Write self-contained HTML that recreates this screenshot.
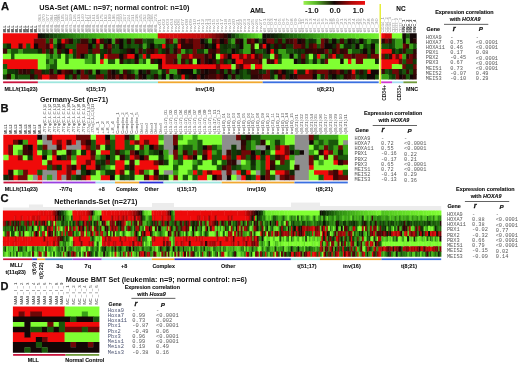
<!DOCTYPE html>
<html><head><meta charset="utf-8"><title>HOXA9 expression correlation heatmaps</title>
<style>html,body{margin:0;padding:0;background:#fff}body{width:520px;height:365px;overflow:hidden;font-family:"Liberation Sans",sans-serif}</style></head>
<body>
<svg width="520" height="365" viewBox="0 0 520 365" font-family="Liberation Sans, sans-serif" style="display:block">
<text x="0.90" y="10.40" font-size="11.20" font-weight="bold" fill="#111" stroke="#111" stroke-width="0.25">A</text>
<text x="39.20" y="10.20" font-size="7.32" font-weight="bold" fill="#111">USA-Set (AML: n=97; normal control: n=10)</text>
<text x="250.00" y="12.60" font-size="7.10" font-weight="bold" fill="#111">AML</text>
<text x="396.30" y="10.70" font-size="6.40" font-weight="bold" fill="#111" stroke="#111" stroke-width="0.1">NC</text>
<defs><filter id="bl" x="-2%" y="-5%" width="104%" height="110%" color-interpolation-filters="sRGB"><feGaussianBlur stdDeviation="0.7"/></filter><linearGradient id="lg" x1="0" x2="1" y1="0" y2="0"><stop offset="0" stop-color="#9af050"/><stop offset="0.2" stop-color="#58b828"/><stop offset="0.5" stop-color="#140606"/><stop offset="0.78" stop-color="#b00808"/><stop offset="1" stop-color="#f01010"/></linearGradient></defs>
<rect x="303.50" y="1.00" width="61.50" height="3.80" fill="url(#lg)"/>
<text x="305.00" y="12.70" font-size="8.00" font-weight="bold" fill="#111">-1.0</text>
<text x="329.60" y="12.70" font-size="8.00" font-weight="bold" fill="#111">0.0</text>
<text x="352.50" y="12.70" font-size="8.00" font-weight="bold" fill="#111">1.0</text>
<text transform="translate(6.24 32.60) rotate(-90)" font-size="4.40" font-weight="bold" fill="#222" textLength="7.20" lengthAdjust="spacingAndGlyphs">MLL</text>
<text transform="translate(10.11 32.60) rotate(-90)" font-size="4.40" font-weight="bold" fill="#222" textLength="7.20" lengthAdjust="spacingAndGlyphs">MLL</text>
<text transform="translate(13.98 32.60) rotate(-90)" font-size="4.40" font-weight="bold" fill="#222" textLength="7.20" lengthAdjust="spacingAndGlyphs">MLL</text>
<text transform="translate(17.85 32.60) rotate(-90)" font-size="4.40" font-weight="bold" fill="#222" textLength="7.20" lengthAdjust="spacingAndGlyphs">MLL</text>
<text transform="translate(21.72 32.60) rotate(-90)" font-size="4.40" font-weight="bold" fill="#222" textLength="7.20" lengthAdjust="spacingAndGlyphs">MLL</text>
<text transform="translate(25.60 32.60) rotate(-90)" font-size="4.40" font-weight="bold" fill="#222" textLength="7.20" lengthAdjust="spacingAndGlyphs">MLL</text>
<text transform="translate(29.47 32.60) rotate(-90)" font-size="4.40" font-weight="bold" fill="#222" textLength="7.20" lengthAdjust="spacingAndGlyphs">MLL</text>
<text transform="translate(33.34 32.60) rotate(-90)" font-size="4.40" font-weight="bold" fill="#222" textLength="7.20" lengthAdjust="spacingAndGlyphs">MLL</text>
<text transform="translate(37.21 32.60) rotate(-90)" font-size="4.40" font-weight="bold" fill="#222" textLength="7.20" lengthAdjust="spacingAndGlyphs">MLL</text>
<text transform="translate(41.09 32.60) rotate(-90)" font-size="4.10" font-weight="normal" fill="#949494" textLength="18.20" lengthAdjust="spacingAndGlyphs">AML_063</text>
<text transform="translate(44.96 32.60) rotate(-90)" font-size="4.10" font-weight="normal" fill="#949494" textLength="18.20" lengthAdjust="spacingAndGlyphs">AML_070</text>
<text transform="translate(48.83 32.60) rotate(-90)" font-size="4.10" font-weight="normal" fill="#949494" textLength="18.20" lengthAdjust="spacingAndGlyphs">AML_077</text>
<text transform="translate(52.70 32.60) rotate(-90)" font-size="4.10" font-weight="normal" fill="#949494" textLength="18.20" lengthAdjust="spacingAndGlyphs">AML_084</text>
<text transform="translate(56.57 32.60) rotate(-90)" font-size="4.10" font-weight="normal" fill="#949494" textLength="18.20" lengthAdjust="spacingAndGlyphs">AML_091</text>
<text transform="translate(60.45 32.60) rotate(-90)" font-size="4.10" font-weight="normal" fill="#949494" textLength="18.20" lengthAdjust="spacingAndGlyphs">AML_098</text>
<text transform="translate(64.32 32.60) rotate(-90)" font-size="4.10" font-weight="normal" fill="#949494" textLength="18.20" lengthAdjust="spacingAndGlyphs">AML_105</text>
<text transform="translate(68.19 32.60) rotate(-90)" font-size="4.10" font-weight="normal" fill="#949494" textLength="18.20" lengthAdjust="spacingAndGlyphs">AML_112</text>
<text transform="translate(72.06 32.60) rotate(-90)" font-size="4.10" font-weight="normal" fill="#949494" textLength="18.20" lengthAdjust="spacingAndGlyphs">AML_119</text>
<text transform="translate(75.94 32.60) rotate(-90)" font-size="4.10" font-weight="normal" fill="#949494" textLength="18.20" lengthAdjust="spacingAndGlyphs">AML_126</text>
<text transform="translate(79.81 32.60) rotate(-90)" font-size="4.10" font-weight="normal" fill="#949494" textLength="18.20" lengthAdjust="spacingAndGlyphs">AML_133</text>
<text transform="translate(83.68 32.60) rotate(-90)" font-size="4.10" font-weight="normal" fill="#949494" textLength="18.20" lengthAdjust="spacingAndGlyphs">AML_140</text>
<text transform="translate(87.55 32.60) rotate(-90)" font-size="4.10" font-weight="normal" fill="#949494" textLength="18.20" lengthAdjust="spacingAndGlyphs">AML_147</text>
<text transform="translate(91.42 32.60) rotate(-90)" font-size="4.10" font-weight="normal" fill="#949494" textLength="18.20" lengthAdjust="spacingAndGlyphs">AML_154</text>
<text transform="translate(95.30 32.60) rotate(-90)" font-size="4.10" font-weight="normal" fill="#949494" textLength="18.20" lengthAdjust="spacingAndGlyphs">AML_161</text>
<text transform="translate(99.17 32.60) rotate(-90)" font-size="4.10" font-weight="normal" fill="#949494" textLength="18.20" lengthAdjust="spacingAndGlyphs">AML_168</text>
<text transform="translate(103.04 32.60) rotate(-90)" font-size="4.10" font-weight="normal" fill="#949494" textLength="18.20" lengthAdjust="spacingAndGlyphs">AML_175</text>
<text transform="translate(106.91 32.60) rotate(-90)" font-size="4.10" font-weight="normal" fill="#949494" textLength="18.20" lengthAdjust="spacingAndGlyphs">AML_182</text>
<text transform="translate(110.78 32.60) rotate(-90)" font-size="4.10" font-weight="normal" fill="#949494" textLength="18.20" lengthAdjust="spacingAndGlyphs">AML_189</text>
<text transform="translate(114.66 32.60) rotate(-90)" font-size="4.10" font-weight="normal" fill="#949494" textLength="18.20" lengthAdjust="spacingAndGlyphs">AML_196</text>
<text transform="translate(118.53 32.60) rotate(-90)" font-size="4.10" font-weight="normal" fill="#949494" textLength="18.20" lengthAdjust="spacingAndGlyphs">AML_203</text>
<text transform="translate(122.40 32.60) rotate(-90)" font-size="4.10" font-weight="normal" fill="#949494" textLength="18.20" lengthAdjust="spacingAndGlyphs">AML_210</text>
<text transform="translate(126.27 32.60) rotate(-90)" font-size="4.10" font-weight="normal" fill="#949494" textLength="18.20" lengthAdjust="spacingAndGlyphs">AML_217</text>
<text transform="translate(130.15 32.60) rotate(-90)" font-size="4.10" font-weight="normal" fill="#949494" textLength="18.20" lengthAdjust="spacingAndGlyphs">AML_224</text>
<text transform="translate(134.02 32.60) rotate(-90)" font-size="4.10" font-weight="normal" fill="#949494" textLength="18.20" lengthAdjust="spacingAndGlyphs">AML_231</text>
<text transform="translate(137.89 32.60) rotate(-90)" font-size="4.10" font-weight="normal" fill="#949494" textLength="18.20" lengthAdjust="spacingAndGlyphs">AML_238</text>
<text transform="translate(141.76 32.60) rotate(-90)" font-size="4.10" font-weight="normal" fill="#949494" textLength="18.20" lengthAdjust="spacingAndGlyphs">AML_245</text>
<text transform="translate(145.63 32.60) rotate(-90)" font-size="4.10" font-weight="normal" fill="#949494" textLength="18.20" lengthAdjust="spacingAndGlyphs">AML_252</text>
<text transform="translate(149.51 32.60) rotate(-90)" font-size="4.10" font-weight="normal" fill="#949494" textLength="18.20" lengthAdjust="spacingAndGlyphs">AML_259</text>
<text transform="translate(153.38 32.60) rotate(-90)" font-size="4.10" font-weight="normal" fill="#949494" textLength="18.20" lengthAdjust="spacingAndGlyphs">AML_266</text>
<text transform="translate(157.25 32.60) rotate(-90)" font-size="4.10" font-weight="normal" fill="#949494" textLength="18.20" lengthAdjust="spacingAndGlyphs">AML_273</text>
<text transform="translate(161.12 32.60) rotate(-90)" font-size="4.10" font-weight="normal" fill="#949494" textLength="13.80" lengthAdjust="spacingAndGlyphs">inv01</text>
<text transform="translate(164.99 32.60) rotate(-90)" font-size="4.10" font-weight="normal" fill="#949494" textLength="13.80" lengthAdjust="spacingAndGlyphs">inv02</text>
<text transform="translate(168.87 32.60) rotate(-90)" font-size="4.10" font-weight="normal" fill="#949494" textLength="13.80" lengthAdjust="spacingAndGlyphs">inv03</text>
<text transform="translate(172.74 32.60) rotate(-90)" font-size="4.10" font-weight="normal" fill="#949494" textLength="13.80" lengthAdjust="spacingAndGlyphs">inv04</text>
<text transform="translate(176.61 32.60) rotate(-90)" font-size="4.10" font-weight="normal" fill="#949494" textLength="13.80" lengthAdjust="spacingAndGlyphs">inv05</text>
<text transform="translate(180.48 32.60) rotate(-90)" font-size="4.10" font-weight="normal" fill="#949494" textLength="13.80" lengthAdjust="spacingAndGlyphs">inv06</text>
<text transform="translate(184.36 32.60) rotate(-90)" font-size="4.10" font-weight="normal" fill="#949494" textLength="13.80" lengthAdjust="spacingAndGlyphs">inv07</text>
<text transform="translate(188.23 32.60) rotate(-90)" font-size="4.10" font-weight="normal" fill="#949494" textLength="13.80" lengthAdjust="spacingAndGlyphs">inv08</text>
<text transform="translate(192.10 32.60) rotate(-90)" font-size="4.10" font-weight="normal" fill="#949494" textLength="13.80" lengthAdjust="spacingAndGlyphs">inv09</text>
<text transform="translate(195.97 32.60) rotate(-90)" font-size="4.10" font-weight="normal" fill="#949494" textLength="13.80" lengthAdjust="spacingAndGlyphs">inv10</text>
<text transform="translate(199.84 32.60) rotate(-90)" font-size="4.10" font-weight="normal" fill="#949494" textLength="13.80" lengthAdjust="spacingAndGlyphs">inv11</text>
<text transform="translate(203.72 32.60) rotate(-90)" font-size="4.10" font-weight="normal" fill="#949494" textLength="13.80" lengthAdjust="spacingAndGlyphs">inv12</text>
<text transform="translate(207.59 32.60) rotate(-90)" font-size="4.10" font-weight="normal" fill="#949494" textLength="13.80" lengthAdjust="spacingAndGlyphs">inv13</text>
<text transform="translate(211.46 32.60) rotate(-90)" font-size="4.10" font-weight="normal" fill="#949494" textLength="13.80" lengthAdjust="spacingAndGlyphs">inv14</text>
<text transform="translate(215.33 32.60) rotate(-90)" font-size="4.10" font-weight="normal" fill="#949494" textLength="13.80" lengthAdjust="spacingAndGlyphs">inv15</text>
<text transform="translate(219.21 32.60) rotate(-90)" font-size="4.10" font-weight="normal" fill="#949494" textLength="13.80" lengthAdjust="spacingAndGlyphs">inv16</text>
<text transform="translate(223.08 32.60) rotate(-90)" font-size="4.10" font-weight="normal" fill="#949494" textLength="13.80" lengthAdjust="spacingAndGlyphs">inv17</text>
<text transform="translate(226.95 32.60) rotate(-90)" font-size="4.10" font-weight="normal" fill="#949494" textLength="13.80" lengthAdjust="spacingAndGlyphs">inv18</text>
<text transform="translate(230.82 32.60) rotate(-90)" font-size="4.10" font-weight="normal" fill="#949494" textLength="13.80" lengthAdjust="spacingAndGlyphs">inv19</text>
<text transform="translate(234.69 32.60) rotate(-90)" font-size="4.10" font-weight="normal" fill="#949494" textLength="13.80" lengthAdjust="spacingAndGlyphs">inv20</text>
<text transform="translate(238.57 32.60) rotate(-90)" font-size="4.10" font-weight="normal" fill="#949494" textLength="13.80" lengthAdjust="spacingAndGlyphs">inv21</text>
<text transform="translate(242.44 32.60) rotate(-90)" font-size="4.10" font-weight="normal" fill="#949494" textLength="13.80" lengthAdjust="spacingAndGlyphs">inv22</text>
<text transform="translate(246.31 32.60) rotate(-90)" font-size="4.10" font-weight="normal" fill="#949494" textLength="13.80" lengthAdjust="spacingAndGlyphs">inv23</text>
<text transform="translate(250.18 32.60) rotate(-90)" font-size="4.10" font-weight="normal" fill="#949494" textLength="13.80" lengthAdjust="spacingAndGlyphs">inv24</text>
<text transform="translate(254.05 32.60) rotate(-90)" font-size="4.10" font-weight="normal" fill="#949494" textLength="13.80" lengthAdjust="spacingAndGlyphs">inv25</text>
<text transform="translate(257.93 32.60) rotate(-90)" font-size="4.10" font-weight="normal" fill="#949494" textLength="13.80" lengthAdjust="spacingAndGlyphs">inv26</text>
<text transform="translate(261.80 32.60) rotate(-90)" font-size="4.10" font-weight="normal" fill="#949494" textLength="13.80" lengthAdjust="spacingAndGlyphs">inv27</text>
<text transform="translate(265.67 32.60) rotate(-90)" font-size="4.10" font-weight="normal" fill="#949494" textLength="14.20" lengthAdjust="spacingAndGlyphs">t8_01</text>
<text transform="translate(269.54 32.60) rotate(-90)" font-size="4.10" font-weight="normal" fill="#949494" textLength="14.20" lengthAdjust="spacingAndGlyphs">t8_02</text>
<text transform="translate(273.42 32.60) rotate(-90)" font-size="4.10" font-weight="normal" fill="#949494" textLength="14.20" lengthAdjust="spacingAndGlyphs">t8_03</text>
<text transform="translate(277.29 32.60) rotate(-90)" font-size="4.10" font-weight="normal" fill="#949494" textLength="14.20" lengthAdjust="spacingAndGlyphs">t8_04</text>
<text transform="translate(281.16 32.60) rotate(-90)" font-size="4.10" font-weight="normal" fill="#949494" textLength="14.20" lengthAdjust="spacingAndGlyphs">t8_05</text>
<text transform="translate(285.03 32.60) rotate(-90)" font-size="4.10" font-weight="normal" fill="#949494" textLength="14.20" lengthAdjust="spacingAndGlyphs">t8_06</text>
<text transform="translate(288.90 32.60) rotate(-90)" font-size="4.10" font-weight="normal" fill="#949494" textLength="14.20" lengthAdjust="spacingAndGlyphs">t8_07</text>
<text transform="translate(292.78 32.60) rotate(-90)" font-size="4.10" font-weight="normal" fill="#949494" textLength="14.20" lengthAdjust="spacingAndGlyphs">t8_08</text>
<text transform="translate(296.65 32.60) rotate(-90)" font-size="4.10" font-weight="normal" fill="#949494" textLength="14.20" lengthAdjust="spacingAndGlyphs">t8_09</text>
<text transform="translate(300.52 32.60) rotate(-90)" font-size="4.10" font-weight="normal" fill="#949494" textLength="14.20" lengthAdjust="spacingAndGlyphs">t8_10</text>
<text transform="translate(304.39 32.60) rotate(-90)" font-size="4.10" font-weight="normal" fill="#949494" textLength="14.20" lengthAdjust="spacingAndGlyphs">t8_11</text>
<text transform="translate(308.26 32.60) rotate(-90)" font-size="4.10" font-weight="normal" fill="#949494" textLength="14.20" lengthAdjust="spacingAndGlyphs">t8_12</text>
<text transform="translate(312.14 32.60) rotate(-90)" font-size="4.10" font-weight="normal" fill="#949494" textLength="14.20" lengthAdjust="spacingAndGlyphs">t8_13</text>
<text transform="translate(316.01 32.60) rotate(-90)" font-size="4.10" font-weight="normal" fill="#949494" textLength="14.20" lengthAdjust="spacingAndGlyphs">t8_14</text>
<text transform="translate(319.88 32.60) rotate(-90)" font-size="4.10" font-weight="normal" fill="#949494" textLength="14.20" lengthAdjust="spacingAndGlyphs">t8_15</text>
<text transform="translate(323.75 32.60) rotate(-90)" font-size="4.10" font-weight="normal" fill="#949494" textLength="14.20" lengthAdjust="spacingAndGlyphs">t8_16</text>
<text transform="translate(327.63 32.60) rotate(-90)" font-size="4.10" font-weight="normal" fill="#949494" textLength="14.20" lengthAdjust="spacingAndGlyphs">t8_17</text>
<text transform="translate(331.50 32.60) rotate(-90)" font-size="4.10" font-weight="normal" fill="#949494" textLength="14.20" lengthAdjust="spacingAndGlyphs">t8_18</text>
<text transform="translate(335.37 32.60) rotate(-90)" font-size="4.10" font-weight="normal" fill="#949494" textLength="14.20" lengthAdjust="spacingAndGlyphs">t8_19</text>
<text transform="translate(339.24 32.60) rotate(-90)" font-size="4.10" font-weight="normal" fill="#949494" textLength="14.20" lengthAdjust="spacingAndGlyphs">t8_20</text>
<text transform="translate(343.11 32.60) rotate(-90)" font-size="4.10" font-weight="normal" fill="#949494" textLength="14.20" lengthAdjust="spacingAndGlyphs">t8_21</text>
<text transform="translate(346.99 32.60) rotate(-90)" font-size="4.10" font-weight="normal" fill="#949494" textLength="14.20" lengthAdjust="spacingAndGlyphs">t8_22</text>
<text transform="translate(350.86 32.60) rotate(-90)" font-size="4.10" font-weight="normal" fill="#949494" textLength="14.20" lengthAdjust="spacingAndGlyphs">t8_23</text>
<text transform="translate(354.73 32.60) rotate(-90)" font-size="4.10" font-weight="normal" fill="#949494" textLength="14.20" lengthAdjust="spacingAndGlyphs">t8_24</text>
<text transform="translate(358.60 32.60) rotate(-90)" font-size="4.10" font-weight="normal" fill="#949494" textLength="14.20" lengthAdjust="spacingAndGlyphs">t8_25</text>
<text transform="translate(362.48 32.60) rotate(-90)" font-size="4.10" font-weight="normal" fill="#949494" textLength="14.20" lengthAdjust="spacingAndGlyphs">t8_26</text>
<text transform="translate(366.35 32.60) rotate(-90)" font-size="4.10" font-weight="normal" fill="#949494" textLength="14.20" lengthAdjust="spacingAndGlyphs">t8_27</text>
<text transform="translate(370.22 32.60) rotate(-90)" font-size="4.10" font-weight="normal" fill="#949494" textLength="14.20" lengthAdjust="spacingAndGlyphs">t8_28</text>
<text transform="translate(374.09 32.60) rotate(-90)" font-size="4.10" font-weight="normal" fill="#949494" textLength="14.20" lengthAdjust="spacingAndGlyphs">t8_29</text>
<text transform="translate(377.96 32.60) rotate(-90)" font-size="4.10" font-weight="normal" fill="#949494" textLength="14.20" lengthAdjust="spacingAndGlyphs">t8_30</text>
<text transform="translate(384.45 32.60) rotate(-90)" font-size="4.00" font-weight="normal" fill="#949494" textLength="15.50" lengthAdjust="spacingAndGlyphs">CD34_1</text>
<text transform="translate(387.95 32.60) rotate(-90)" font-size="4.00" font-weight="normal" fill="#949494" textLength="15.50" lengthAdjust="spacingAndGlyphs">CD34_2</text>
<text transform="translate(391.45 32.60) rotate(-90)" font-size="4.00" font-weight="normal" fill="#949494" textLength="15.50" lengthAdjust="spacingAndGlyphs">CD34_3</text>
<text transform="translate(394.95 32.60) rotate(-90)" font-size="4.00" font-weight="normal" fill="#949494" textLength="14.50" lengthAdjust="spacingAndGlyphs">CD33_1</text>
<text transform="translate(398.45 32.60) rotate(-90)" font-size="4.00" font-weight="normal" fill="#949494" textLength="14.50" lengthAdjust="spacingAndGlyphs">CD33_2</text>
<text transform="translate(401.95 32.60) rotate(-90)" font-size="4.00" font-weight="normal" fill="#949494" textLength="14.50" lengthAdjust="spacingAndGlyphs">CD33_3</text>
<text transform="translate(405.45 32.60) rotate(-90)" font-size="4.00" font-weight="bold" fill="#333" textLength="13.00" lengthAdjust="spacingAndGlyphs">MNC_1</text>
<text transform="translate(408.95 32.60) rotate(-90)" font-size="4.00" font-weight="bold" fill="#333" textLength="13.00" lengthAdjust="spacingAndGlyphs">MNC_2</text>
<text transform="translate(412.45 32.60) rotate(-90)" font-size="4.00" font-weight="bold" fill="#333" textLength="13.00" lengthAdjust="spacingAndGlyphs">MNC_3</text>
<text transform="translate(415.95 32.60) rotate(-90)" font-size="4.00" font-weight="bold" fill="#333" textLength="13.00" lengthAdjust="spacingAndGlyphs">MNC_4</text>
<g filter="url(#bl)">
<path fill="#f00a0a" d="M2.90 33.30H38.15V38.80H2.90zM2.90 38.40H34.28V43.90H2.90zM60.98 38.40H65.25V43.90H60.98zM95.83 38.40H100.10V43.90H95.83zM10.64 43.50H18.79V49.00H10.64zM22.26 43.50H26.53V49.00H22.26zM30.01 43.50H34.28V49.00H30.01zM49.37 43.50H53.64V49.00H49.37zM161.66 43.50H165.93V49.00H161.66zM177.15 43.50H181.42V49.00H177.15zM215.87 43.50H220.14V49.00H215.87zM262.34 43.50H266.61V49.00H262.34zM68.73 48.60H73.00V54.10H68.73zM270.08 48.60H274.35V54.10H270.08zM103.58 53.70H107.85V59.20H103.58zM126.81 53.70H134.95V59.20H126.81zM142.30 53.70H146.57V59.20H142.30zM150.04 53.70H165.93V59.20H150.04zM188.76 53.70H193.04V59.20H188.76zM219.74 53.70H224.01V59.20H219.74zM231.36 53.70H239.50V59.20H231.36zM242.97 53.70H247.25V59.20H242.97zM250.72 53.70H254.99V59.20H250.72zM316.55 53.70H320.82V59.20H316.55zM332.03 53.70H336.31V59.20H332.03zM2.90 58.80H38.15V64.30H2.90zM99.70 58.80H103.98V64.30H99.70zM161.66 58.80H165.93V64.30H161.66zM235.23 58.80H243.37V64.30H235.23zM273.95 58.80H278.22V64.30H273.95zM347.52 58.80H351.79V64.30H347.52zM6.77 63.90H38.15V69.40H6.77zM161.66 63.90H216.27V69.40H161.66zM219.74 63.90H231.76V69.40H219.74zM242.97 63.90H251.12V69.40H242.97zM254.59 63.90H262.74V69.40H254.59zM293.31 69.00H297.58V74.50H293.31zM304.93 69.00H309.20V74.50H304.93zM351.39 69.00H355.67V74.50H351.39zM366.88 69.00H371.16V74.50H366.88zM41.62 74.10H49.77V79.60H41.62zM57.11 74.10H65.25V79.60H57.11zM181.02 74.10H185.29V79.60H181.02z"/>
<path fill="#0e0d06" d="M37.75 33.30H42.02V38.80H37.75z"/>
<path fill="#0e1706" d="M41.62 33.30H45.89V38.80H41.62z"/>
<path fill="#0f2806" d="M45.49 33.30H49.77V38.80H45.49z"/>
<path fill="#123b07" d="M49.37 33.30H53.64V38.80H49.37z"/>
<path fill="#174f09" d="M53.24 33.30H57.51V38.80H53.24z"/>
<path fill="#1a5b0a" d="M57.11 33.30H61.38V38.80H57.11z"/>
<path fill="#1e650c" d="M60.98 33.30H65.25V38.80H60.98z"/>
<path fill="#22700d" d="M64.85 33.30H69.13V38.80H64.85z"/>
<path fill="#267b0f" d="M68.73 33.30H73.00V38.80H68.73z"/>
<path fill="#2b8511" d="M72.60 33.30H76.87V38.80H72.60z"/>
<path fill="#2f8d12" d="M76.47 33.30H80.74V38.80H76.47z"/>
<path fill="#339514" d="M80.34 33.30H84.62V38.80H80.34z"/>
<path fill="#379c16" d="M84.22 33.30H88.49V38.80H84.22z"/>
<path fill="#3ca417" d="M88.09 33.30H92.36V38.80H88.09z"/>
<path fill="#40ac19" d="M91.96 33.30H96.23V38.80H91.96zM320.42 33.30H324.69V38.80H320.42z"/>
<path fill="#45b41b" d="M95.83 33.30H100.10V38.80H95.83zM324.29 33.30H328.56V38.80H324.29z"/>
<path fill="#48b91c" d="M99.70 33.30H103.98V38.80H99.70z"/>
<path fill="#4cbe1e" d="M103.58 33.30H107.85V38.80H103.58z"/>
<path fill="#4fc31f" d="M107.45 33.30H111.72V38.80H107.45zM332.03 33.30H336.31V38.80H332.03z"/>
<path fill="#52c820" d="M111.32 33.30H115.59V38.80H111.32z"/>
<path fill="#56cc21" d="M115.19 33.30H119.46V38.80H115.19z"/>
<path fill="#59d123" d="M119.06 33.30H123.34V38.80H119.06z"/>
<path fill="#5dd624" d="M122.94 33.30H127.21V38.80H122.94z"/>
<path fill="#60da26" d="M126.81 33.30H131.08V38.80H126.81z"/>
<path fill="#63dd27" d="M130.68 33.30H134.95V38.80H130.68z"/>
<path fill="#66e127" d="M134.55 33.30H138.83V38.80H134.55z"/>
<path fill="#68e429" d="M138.43 33.30H142.70V38.80H138.43z"/>
<path fill="#6be72a" d="M142.30 33.30H146.57V38.80H142.30z"/>
<path fill="#6eea2b" d="M146.17 33.30H150.44V38.80H146.17z"/>
<path fill="#70ed2c" d="M150.04 33.30H154.31V38.80H150.04z"/>
<path fill="#73f12d" d="M153.91 33.30H158.19V38.80H153.91z"/>
<path fill="#d90909" d="M157.79 33.30H162.06V38.80H157.79z"/>
<path fill="#d70909" d="M161.66 33.30H165.93V38.80H161.66z"/>
<path fill="#d60909" d="M165.53 33.30H169.80V38.80H165.53z"/>
<path fill="#d50909" d="M169.40 33.30H173.68V38.80H169.40z"/>
<path fill="#d30909" d="M173.28 33.30H177.55V38.80H173.28z"/>
<path fill="#d20909" d="M177.15 33.30H181.42V38.80H177.15z"/>
<path fill="#d00909" d="M181.02 33.30H185.29V38.80H181.02z"/>
<path fill="#cf0909" d="M184.89 33.30H189.16V38.80H184.89z"/>
<path fill="#cb0909" d="M188.76 33.30H193.04V38.80H188.76z"/>
<path fill="#c50909" d="M192.64 33.30H196.91V38.80H192.64z"/>
<path fill="#be0909" d="M196.51 33.30H200.78V38.80H196.51z"/>
<path fill="#b70808" d="M200.38 33.30H204.65V38.80H200.38z"/>
<path fill="#b00808" d="M204.25 33.30H208.52V38.80H204.25z"/>
<path fill="#a00808" d="M208.12 33.30H212.40V38.80H208.12z"/>
<path fill="#870808" d="M212.00 33.30H216.27V38.80H212.00z"/>
<path fill="#6e0707" d="M215.87 33.30H220.14V38.80H215.87z"/>
<path fill="#500707" d="M219.74 33.30H224.01V38.80H219.74z"/>
<path fill="#320606" d="M223.61 33.30H227.89V38.80H223.61z"/>
<path fill="#0e0e06" d="M227.49 33.30H231.76V38.80H227.49z"/>
<path fill="#133b07" d="M231.36 33.30H235.63V38.80H231.36z"/>
<path fill="#1d630c" d="M235.23 33.30H239.50V38.80H235.23z"/>
<path fill="#2e8b12" d="M239.10 33.30H243.37V38.80H239.10z"/>
<path fill="#389e16" d="M242.97 33.30H247.25V38.80H242.97z"/>
<path fill="#41ae19" d="M246.85 33.30H251.12V38.80H246.85z"/>
<path fill="#4cbe1d" d="M250.72 33.30H254.99V38.80H250.72z"/>
<path fill="#57ce22" d="M254.59 33.30H258.86V38.80H254.59z"/>
<path fill="#63de27" d="M258.46 33.30H262.74V38.80H258.46z"/>
<path fill="#0e0c06" d="M262.34 33.30H266.61V38.80H262.34z"/>
<path fill="#0e1406" d="M266.21 33.30H270.48V38.80H266.21z"/>
<path fill="#0e1c06" d="M270.08 33.30H274.35V38.80H270.08z"/>
<path fill="#102806" d="M273.95 33.30H278.22V38.80H273.95z"/>
<path fill="#123907" d="M277.82 33.30H282.10V38.80H277.82zM76.47 38.40H80.74V43.90H76.47zM146.17 38.40H154.31V43.90H146.17zM204.25 38.40H208.52V43.90H204.25zM273.95 38.40H278.22V43.90H273.95zM312.67 38.40H316.95V43.90H312.67zM111.32 43.50H115.59V49.00H111.32zM126.81 43.50H131.08V49.00H126.81zM146.17 43.50H150.44V49.00H146.17zM157.79 43.50H162.06V49.00H157.79zM219.74 43.50H224.01V49.00H219.74zM227.49 43.50H231.76V49.00H227.49zM270.08 43.50H274.35V49.00H270.08zM285.57 43.50H293.71V49.00H285.57zM363.01 43.50H367.28V49.00H363.01zM45.49 48.60H49.77V54.10H45.49zM72.60 48.60H76.87V54.10H72.60zM99.70 48.60H103.98V54.10H99.70zM119.06 48.60H123.34V54.10H119.06zM142.30 48.60H146.57V54.10H142.30zM184.89 48.60H189.16V54.10H184.89zM196.51 48.60H204.65V54.10H196.51zM219.74 48.60H227.89V54.10H219.74zM262.34 48.60H266.61V54.10H262.34zM293.31 48.60H297.58V54.10H293.31zM301.06 48.60H305.33V54.10H301.06zM359.14 48.60H363.41V54.10H359.14zM72.60 53.70H76.87V59.20H72.60zM277.82 53.70H282.10V59.20H277.82zM297.18 53.70H301.46V59.20H297.18zM312.67 53.70H316.95V59.20H312.67zM324.29 53.70H328.56V59.20H324.29zM335.91 53.70H340.18V59.20H335.91zM366.88 53.70H371.16V59.20H366.88zM126.81 58.80H131.08V64.30H126.81zM297.18 58.80H301.46V64.30H297.18zM6.77 69.00H14.92V74.50H6.77zM45.49 69.00H49.77V74.50H45.49zM215.87 69.00H220.14V74.50H215.87zM239.10 69.00H243.37V74.50H239.10zM262.34 69.00H266.61V74.50H262.34zM289.44 69.00H293.71V74.50H289.44zM343.65 69.00H347.92V74.50H343.65zM363.01 69.00H367.28V74.50H363.01zM2.90 74.10H7.17V79.60H2.90zM14.52 74.10H18.79V79.60H14.52zM33.88 74.10H38.15V79.60H33.88zM88.09 74.10H96.23V79.60H88.09zM103.58 74.10H107.85V79.60H103.58zM150.04 74.10H154.31V79.60H150.04zM177.15 74.10H181.42V79.60H177.15zM239.10 74.10H243.37V79.60H239.10zM335.91 74.10H340.18V79.60H335.91zM363.01 74.10H367.28V79.60H363.01z"/>
<path fill="#164909" d="M281.70 33.30H285.97V38.80H281.70z"/>
<path fill="#19570a" d="M285.57 33.30H289.84V38.80H285.57zM45.49 38.40H49.77V43.90H45.49zM72.60 38.40H76.87V43.90H72.60zM88.09 38.40H92.36V43.90H88.09zM122.94 38.40H127.21V43.90H122.94zM130.68 38.40H134.95V43.90H130.68zM142.30 38.40H146.57V43.90H142.30zM227.49 38.40H231.76V43.90H227.49zM258.46 38.40H262.74V43.90H258.46zM281.70 38.40H285.97V43.90H281.70zM304.93 38.40H309.20V43.90H304.93zM328.16 38.40H332.43V43.90H328.16zM335.91 38.40H340.18V43.90H335.91zM343.65 38.40H347.92V43.90H343.65zM355.27 38.40H359.54V43.90H355.27zM363.01 38.40H367.28V43.90H363.01zM370.76 38.40H378.90V43.90H370.76zM2.90 43.50H7.17V49.00H2.90zM26.13 43.50H30.41V49.00H26.13zM53.24 43.50H57.51V49.00H53.24zM64.85 43.50H76.87V49.00H64.85zM91.96 43.50H96.23V49.00H91.96zM115.19 43.50H119.46V49.00H115.19zM122.94 43.50H127.21V49.00H122.94zM130.68 43.50H138.83V49.00H130.68zM153.91 43.50H158.19V49.00H153.91zM169.40 43.50H173.68V49.00H169.40zM231.36 43.50H235.63V49.00H231.36zM304.93 43.50H309.20V49.00H304.93zM316.55 43.50H320.82V49.00H316.55zM351.39 43.50H355.67V49.00H351.39zM366.88 43.50H371.16V49.00H366.88zM10.64 48.60H18.79V54.10H10.64zM22.26 48.60H38.15V54.10H22.26zM111.32 48.60H119.46V54.10H111.32zM134.55 48.60H138.83V54.10H134.55zM157.79 48.60H162.06V54.10H157.79zM169.40 48.60H173.68V54.10H169.40zM188.76 48.60H193.04V54.10H188.76zM227.49 48.60H231.76V54.10H227.49zM239.10 48.60H243.37V54.10H239.10zM254.59 48.60H262.74V54.10H254.59zM285.57 48.60H293.71V54.10H285.57zM328.16 48.60H332.43V54.10H328.16zM351.39 48.60H359.54V54.10H351.39zM366.88 48.60H371.16V54.10H366.88zM10.64 53.70H14.92V59.20H10.64zM49.37 53.70H53.64V59.20H49.37zM57.11 53.70H61.38V59.20H57.11zM64.85 53.70H69.13V59.20H64.85zM84.22 53.70H88.49V59.20H84.22zM91.96 53.70H96.23V59.20H91.96zM138.43 53.70H142.70V59.20H138.43zM262.34 53.70H270.48V59.20H262.34zM304.93 53.70H309.20V59.20H304.93zM339.78 53.70H344.05V59.20H339.78zM45.49 58.80H49.77V64.30H45.49zM53.24 58.80H57.51V64.30H53.24zM64.85 58.80H69.13V64.30H64.85zM91.96 58.80H96.23V64.30H91.96zM107.45 58.80H115.59V64.30H107.45zM122.94 58.80H127.21V64.30H122.94zM130.68 58.80H134.95V64.30H130.68zM142.30 58.80H146.57V64.30H142.30zM184.89 58.80H189.16V64.30H184.89zM215.87 58.80H220.14V64.30H215.87zM227.49 58.80H231.76V64.30H227.49zM277.82 58.80H282.10V64.30H277.82zM304.93 58.80H309.20V64.30H304.93zM2.90 63.90H7.17V69.40H2.90zM49.37 63.90H57.51V69.40H49.37zM53.24 69.00H57.51V74.50H53.24zM72.60 69.00H76.87V74.50H72.60zM99.70 69.00H107.85V74.50H99.70zM130.68 69.00H134.95V74.50H130.68zM150.04 69.00H158.19V74.50H150.04zM223.61 69.00H227.89V74.50H223.61zM231.36 69.00H235.63V74.50H231.36zM242.97 69.00H247.25V74.50H242.97zM18.39 74.10H30.41V79.60H18.39zM68.73 74.10H73.00V79.60H68.73zM76.47 74.10H80.74V79.60H76.47zM134.55 74.10H138.83V79.60H134.55zM146.17 74.10H150.44V79.60H146.17zM157.79 74.10H162.06V79.60H157.79zM173.28 74.10H177.55V79.60H173.28zM227.49 74.10H231.76V79.60H227.49zM235.23 74.10H239.50V79.60H235.23zM242.97 74.10H251.12V79.60H242.97zM339.78 74.10H344.05V79.60H339.78zM355.27 74.10H359.54V79.60H355.27zM374.63 74.10H378.90V79.60H374.63z"/>
<path fill="#1c610b" d="M289.44 33.30H293.71V38.80H289.44z"/>
<path fill="#206b0d" d="M293.31 33.30H297.58V38.80H293.31z"/>
<path fill="#24760e" d="M297.18 33.30H301.46V38.80H297.18z"/>
<path fill="#298010" d="M301.06 33.30H305.33V38.80H301.06z"/>
<path fill="#2d8a12" d="M304.93 33.30H309.20V38.80H304.93z"/>
<path fill="#329314" d="M308.80 33.30H313.07V38.80H308.80z"/>
<path fill="#379c15" d="M312.67 33.30H316.95V38.80H312.67z"/>
<path fill="#3ba417" d="M316.55 33.30H320.82V38.80H316.55z"/>
<path fill="#4bbd1d" d="M328.16 33.30H332.43V38.80H328.16z"/>
<path fill="#52c720" d="M335.91 33.30H340.18V38.80H335.91z"/>
<path fill="#55cb21" d="M339.78 33.30H344.05V38.80H339.78z"/>
<path fill="#58cf22" d="M343.65 33.30H347.92V38.80H343.65z"/>
<path fill="#5bd323" d="M347.52 33.30H351.79V38.80H347.52z"/>
<path fill="#5ed725" d="M351.39 33.30H355.67V38.80H351.39z"/>
<path fill="#61dc26" d="M355.27 33.30H359.54V38.80H355.27z"/>
<path fill="#65e027" d="M359.14 33.30H363.41V38.80H359.14z"/>
<path fill="#68e428" d="M363.01 33.30H367.28V38.80H363.01z"/>
<path fill="#6ce82a" d="M366.88 33.30H371.16V38.80H366.88z"/>
<path fill="#6fec2b" d="M370.76 33.30H375.03V38.80H370.76z"/>
<path fill="#73f02d" d="M374.63 33.30H378.90V38.80H374.63z"/>
<path fill="#6f0707" d="M33.88 38.40H45.89V43.90H33.88zM49.37 38.40H53.64V43.90H49.37zM64.85 38.40H69.13V43.90H64.85zM169.40 38.40H173.68V43.90H169.40zM177.15 38.40H181.42V43.90H177.15zM184.89 38.40H189.16V43.90H184.89zM192.64 38.40H200.78V43.90H192.64zM215.87 38.40H220.14V43.90H215.87zM250.72 38.40H254.99V43.90H250.72zM266.21 38.40H274.35V43.90H266.21zM293.31 38.40H297.58V43.90H293.31zM320.42 38.40H324.69V43.90H320.42zM37.75 43.50H45.89V49.00H37.75zM76.47 43.50H88.49V49.00H76.47zM95.83 43.50H100.10V49.00H95.83zM107.45 43.50H111.72V49.00H107.45zM192.64 43.50H200.78V49.00H192.64zM293.31 43.50H301.46V49.00H293.31zM312.67 43.50H316.95V49.00H312.67zM320.42 43.50H324.69V49.00H320.42zM335.91 43.50H340.18V49.00H335.91zM41.62 48.60H45.89V54.10H41.62zM76.47 48.60H88.49V54.10H76.47zM91.96 48.60H100.10V54.10H91.96zM153.91 48.60H158.19V54.10H153.91zM177.15 48.60H181.42V54.10H177.15zM192.64 48.60H196.91V54.10H192.64zM215.87 48.60H220.14V54.10H215.87zM324.29 48.60H328.56V54.10H324.29zM335.91 48.60H340.18V54.10H335.91zM76.47 53.70H80.74V59.20H76.47zM107.45 53.70H119.46V59.20H107.45zM122.94 53.70H127.21V59.20H122.94zM165.53 53.70H177.55V59.20H165.53zM181.02 53.70H189.16V59.20H181.02zM192.64 53.70H204.65V59.20H192.64zM208.12 53.70H212.40V59.20H208.12zM223.61 53.70H227.89V59.20H223.61zM239.10 53.70H243.37V59.20H239.10zM246.85 53.70H251.12V59.20H246.85zM258.46 53.70H262.74V59.20H258.46zM273.95 53.70H278.22V59.20H273.95zM301.06 53.70H305.33V59.20H301.06zM328.16 53.70H332.43V59.20H328.16zM343.65 53.70H351.79V59.20H343.65zM355.27 53.70H367.28V59.20H355.27zM370.76 53.70H378.90V59.20H370.76zM165.53 58.80H173.68V64.30H165.53zM200.38 58.80H204.65V64.30H200.38zM219.74 58.80H224.01V64.30H219.74zM242.97 58.80H258.86V64.30H242.97zM324.29 58.80H328.56V64.30H324.29zM355.27 58.80H363.41V64.30H355.27zM215.87 63.90H220.14V69.40H215.87zM235.23 63.90H239.50V69.40H235.23zM33.88 69.00H42.02V74.50H33.88zM60.98 69.00H65.25V74.50H60.98zM80.34 69.00H84.62V74.50H80.34zM165.53 69.00H169.80V74.50H165.53zM266.21 69.00H270.48V74.50H266.21zM277.82 69.00H282.10V74.50H277.82zM308.80 69.00H313.07V74.50H308.80zM316.55 69.00H328.56V74.50H316.55zM335.91 69.00H340.18V74.50H335.91zM37.75 74.10H42.02V79.60H37.75zM49.37 74.10H57.51V79.60H49.37zM80.34 74.10H88.49V79.60H80.34zM95.83 74.10H103.98V79.60H95.83zM115.19 74.10H119.46V79.60H115.19zM122.94 74.10H127.21V79.60H122.94zM196.51 74.10H200.78V79.60H196.51zM215.87 74.10H220.14V79.60H215.87zM262.34 74.10H270.48V79.60H262.34zM281.70 74.10H285.97V79.60H281.70zM297.18 74.10H313.07V79.60H297.18zM324.29 74.10H328.56V79.60H324.29zM351.39 74.10H355.67V79.60H351.39z"/>
<path fill="#39a116" d="M53.24 38.40H57.51V43.90H53.24zM111.32 38.40H115.59V43.90H111.32zM153.91 38.40H165.93V43.90H153.91zM173.28 38.40H177.55V43.90H173.28zM208.12 38.40H212.40V43.90H208.12zM231.36 38.40H235.63V43.90H231.36zM242.97 38.40H247.25V43.90H242.97zM316.55 38.40H320.82V43.90H316.55zM366.88 38.40H371.16V43.90H366.88zM99.70 43.50H103.98V49.00H99.70zM142.30 43.50H146.57V49.00H142.30zM242.97 43.50H251.12V49.00H242.97zM339.78 43.50H344.05V49.00H339.78zM359.14 43.50H363.41V49.00H359.14zM374.63 43.50H378.90V49.00H374.63zM6.77 48.60H11.04V54.10H6.77zM18.39 48.60H22.66V54.10H18.39zM53.24 48.60H57.51V54.10H53.24zM181.02 48.60H185.29V54.10H181.02zM204.25 48.60H208.52V54.10H204.25zM242.97 48.60H251.12V54.10H242.97zM277.82 48.60H285.97V54.10H277.82zM347.52 48.60H351.79V54.10H347.52zM374.63 48.60H378.90V54.10H374.63zM45.49 53.70H49.77V59.20H45.49zM53.24 53.70H57.51V59.20H53.24zM68.73 53.70H73.00V59.20H68.73zM88.09 53.70H92.36V59.20H88.09zM177.15 53.70H181.42V59.20H177.15zM281.70 53.70H289.84V59.20H281.70zM293.31 53.70H297.58V59.20H293.31zM320.42 53.70H324.69V59.20H320.42zM49.37 58.80H53.64V64.30H49.37zM84.22 58.80H92.36V64.30H84.22zM138.43 58.80H142.70V64.30H138.43zM177.15 58.80H181.42V64.30H177.15zM308.80 58.80H313.07V64.30H308.80zM316.55 58.80H320.82V64.30H316.55zM45.49 63.90H49.77V69.40H45.49zM2.90 69.00H7.17V74.50H2.90zM91.96 69.00H96.23V74.50H91.96zM119.06 69.00H123.34V74.50H119.06zM134.55 69.00H138.83V74.50H134.55zM157.79 69.00H162.06V74.50H157.79zM169.40 69.00H177.55V74.50H169.40zM192.64 69.00H196.91V74.50H192.64zM10.64 74.10H14.92V79.60H10.64zM165.53 74.10H169.80V79.60H165.53zM273.95 74.10H278.22V79.60H273.95zM316.55 74.10H320.82V79.60H316.55z"/>
<path fill="#102a06" d="M57.11 38.40H61.38V43.90H57.11zM103.58 38.40H107.85V43.90H103.58zM308.80 38.40H313.07V43.90H308.80zM351.39 38.40H355.67V43.90H351.39zM6.77 43.50H11.04V49.00H6.77zM138.43 43.50H142.70V49.00H138.43zM165.53 43.50H169.80V49.00H165.53zM173.28 43.50H177.55V49.00H173.28zM208.12 43.50H212.40V49.00H208.12zM223.61 43.50H227.89V49.00H223.61zM235.23 43.50H239.50V49.00H235.23zM277.82 43.50H282.10V49.00H277.82zM332.03 43.50H336.31V49.00H332.03zM343.65 43.50H351.79V49.00H343.65zM37.75 48.60H42.02V54.10H37.75zM60.98 48.60H65.25V54.10H60.98zM88.09 48.60H92.36V54.10H88.09zM103.58 48.60H107.85V54.10H103.58zM122.94 48.60H127.21V54.10H122.94zM161.66 48.60H165.93V54.10H161.66zM235.23 48.60H239.50V54.10H235.23zM273.95 48.60H278.22V54.10H273.95zM297.18 48.60H301.46V54.10H297.18zM99.70 53.70H103.98V59.20H99.70zM146.17 53.70H150.44V59.20H146.17zM153.91 58.80H158.19V64.30H153.91zM223.61 58.80H227.89V64.30H223.61zM312.67 58.80H316.95V64.30H312.67zM320.42 58.80H324.69V64.30H320.42zM374.63 58.80H378.90V64.30H374.63zM14.52 69.00H18.79V74.50H14.52zM30.01 69.00H34.28V74.50H30.01zM41.62 69.00H45.89V74.50H41.62zM84.22 69.00H88.49V74.50H84.22zM115.19 69.00H119.46V74.50H115.19zM126.81 69.00H131.08V74.50H126.81zM142.30 69.00H146.57V74.50H142.30zM161.66 69.00H165.93V74.50H161.66zM196.51 69.00H200.78V74.50H196.51zM246.85 69.00H251.12V74.50H246.85zM258.46 69.00H262.74V74.50H258.46zM270.08 69.00H274.35V74.50H270.08zM285.57 69.00H289.84V74.50H285.57zM297.18 69.00H305.33V74.50H297.18zM355.27 69.00H359.54V74.50H355.27zM64.85 74.10H69.13V79.60H64.85zM184.89 74.10H189.16V79.60H184.89zM270.08 74.10H274.35V79.60H270.08zM285.57 74.10H289.84V79.60H285.57zM320.42 74.10H324.69V79.60H320.42zM328.16 74.10H332.43V79.60H328.16zM359.14 74.10H363.41V79.60H359.14z"/>
<path fill="#2c0606" d="M68.73 38.40H73.00V43.90H68.73zM126.81 38.40H131.08V43.90H126.81zM181.02 38.40H185.29V43.90H181.02zM235.23 38.40H239.50V43.90H235.23zM285.57 38.40H289.84V43.90H285.57zM301.06 38.40H305.33V43.90H301.06zM324.29 38.40H328.56V43.90H324.29zM103.58 43.50H107.85V49.00H103.58zM181.02 43.50H193.04V49.00H181.02zM273.95 43.50H278.22V49.00H273.95zM281.70 43.50H285.97V49.00H281.70zM126.81 48.60H131.08V54.10H126.81zM150.04 48.60H154.31V54.10H150.04zM165.53 48.60H169.80V54.10H165.53zM173.28 48.60H177.55V54.10H173.28zM212.00 48.60H216.27V54.10H212.00zM250.72 48.60H254.99V54.10H250.72zM304.93 48.60H313.07V54.10H304.93zM316.55 48.60H324.69V54.10H316.55zM332.03 48.60H336.31V54.10H332.03zM339.78 48.60H344.05V54.10H339.78zM370.76 48.60H375.03V54.10H370.76zM204.25 53.70H208.52V59.20H204.25zM119.06 58.80H123.34V64.30H119.06zM134.55 58.80H138.83V64.30H134.55zM204.25 58.80H208.52V64.30H204.25zM270.08 58.80H274.35V64.30H270.08zM301.06 58.80H305.33V64.30H301.06zM22.26 69.00H26.53V74.50H22.26zM49.37 69.00H53.64V74.50H49.37zM68.73 69.00H73.00V74.50H68.73zM88.09 69.00H92.36V74.50H88.09zM146.17 69.00H150.44V74.50H146.17zM177.15 69.00H181.42V74.50H177.15zM200.38 69.00H204.65V74.50H200.38zM208.12 69.00H216.27V74.50H208.12zM219.74 69.00H224.01V74.50H219.74zM227.49 69.00H231.76V74.50H227.49zM273.95 69.00H278.22V74.50H273.95zM328.16 69.00H332.43V74.50H328.16zM339.78 69.00H344.05V74.50H339.78zM347.52 69.00H351.79V74.50H347.52zM359.14 69.00H363.41V74.50H359.14zM6.77 74.10H11.04V79.60H6.77zM30.01 74.10H34.28V79.60H30.01zM111.32 74.10H115.59V79.60H111.32zM119.06 74.10H123.34V79.60H119.06zM126.81 74.10H131.08V79.60H126.81zM138.43 74.10H142.70V79.60H138.43zM153.91 74.10H158.19V79.60H153.91zM188.76 74.10H193.04V79.60H188.76zM204.25 74.10H208.52V79.60H204.25zM231.36 74.10H235.63V79.60H231.36zM250.72 74.10H258.86V79.60H250.72zM277.82 74.10H282.10V79.60H277.82zM293.31 74.10H297.58V79.60H293.31zM343.65 74.10H347.92V79.60H343.65z"/>
<path fill="#3e0606" d="M80.34 38.40H88.49V43.90H80.34zM99.70 38.40H103.98V43.90H99.70zM115.19 38.40H119.46V43.90H115.19zM134.55 38.40H142.70V43.90H134.55zM165.53 38.40H169.80V43.90H165.53zM188.76 38.40H193.04V43.90H188.76zM212.00 38.40H216.27V43.90H212.00zM223.61 38.40H227.89V43.90H223.61zM246.85 38.40H251.12V43.90H246.85zM277.82 38.40H282.10V43.90H277.82zM289.44 38.40H293.71V43.90H289.44zM339.78 38.40H344.05V43.90H339.78zM18.39 43.50H22.66V49.00H18.39zM45.49 43.50H49.77V49.00H45.49zM60.98 43.50H65.25V49.00H60.98zM200.38 43.50H204.65V49.00H200.38zM250.72 43.50H254.99V49.00H250.72zM258.46 43.50H262.74V49.00H258.46zM301.06 43.50H305.33V49.00H301.06zM308.80 43.50H313.07V49.00H308.80zM2.90 48.60H7.17V54.10H2.90zM49.37 48.60H53.64V54.10H49.37zM57.11 48.60H61.38V54.10H57.11zM107.45 48.60H111.72V54.10H107.45zM138.43 48.60H142.70V54.10H138.43zM146.17 48.60H150.44V54.10H146.17zM208.12 48.60H212.40V54.10H208.12zM312.67 48.60H316.95V54.10H312.67zM343.65 48.60H347.92V54.10H343.65zM254.59 53.70H258.86V59.20H254.59zM351.39 53.70H355.67V59.20H351.39zM150.04 58.80H154.31V64.30H150.04zM173.28 58.80H177.55V64.30H173.28zM181.02 58.80H185.29V64.30H181.02zM188.76 58.80H193.04V64.30H188.76zM212.00 58.80H216.27V64.30H212.00zM258.46 58.80H262.74V64.30H258.46zM266.21 58.80H270.48V64.30H266.21zM157.79 63.90H162.06V69.40H157.79zM239.10 63.90H243.37V69.40H239.10zM18.39 69.00H22.66V74.50H18.39zM26.13 69.00H30.41V74.50H26.13zM64.85 69.00H69.13V74.50H64.85zM107.45 69.00H111.72V74.50H107.45zM122.94 69.00H127.21V74.50H122.94zM250.72 69.00H258.86V74.50H250.72zM312.67 69.00H316.95V74.50H312.67zM332.03 69.00H336.31V74.50H332.03zM72.60 74.10H76.87V79.60H72.60zM107.45 74.10H111.72V79.60H107.45zM130.68 74.10H134.95V79.60H130.68zM208.12 74.10H216.27V79.60H208.12zM219.74 74.10H224.01V79.60H219.74zM258.46 74.10H262.74V79.60H258.46zM347.52 74.10H351.79V79.60H347.52z"/>
<path fill="#120606" d="M91.96 38.40H96.23V43.90H91.96zM107.45 38.40H111.72V43.90H107.45zM119.06 38.40H123.34V43.90H119.06zM200.38 38.40H204.65V43.90H200.38zM219.74 38.40H224.01V43.90H219.74zM239.10 38.40H243.37V43.90H239.10zM254.59 38.40H258.86V43.90H254.59zM262.34 38.40H266.61V43.90H262.34zM297.18 38.40H301.46V43.90H297.18zM332.03 38.40H336.31V43.90H332.03zM347.52 38.40H351.79V43.90H347.52zM359.14 38.40H363.41V43.90H359.14zM33.88 43.50H38.15V49.00H33.88zM57.11 43.50H61.38V49.00H57.11zM88.09 43.50H92.36V49.00H88.09zM119.06 43.50H123.34V49.00H119.06zM150.04 43.50H154.31V49.00H150.04zM204.25 43.50H208.52V49.00H204.25zM212.00 43.50H216.27V49.00H212.00zM239.10 43.50H243.37V49.00H239.10zM266.21 43.50H270.48V49.00H266.21zM324.29 43.50H332.43V49.00H324.29zM355.27 43.50H359.54V49.00H355.27zM370.76 43.50H375.03V49.00H370.76zM64.85 48.60H69.13V54.10H64.85zM130.68 48.60H134.95V54.10H130.68zM231.36 48.60H235.63V54.10H231.36zM266.21 48.60H270.48V54.10H266.21zM363.01 48.60H367.28V54.10H363.01zM80.34 53.70H84.62V59.20H80.34zM119.06 53.70H123.34V59.20H119.06zM134.55 53.70H138.83V59.20H134.55zM212.00 53.70H216.27V59.20H212.00zM227.49 53.70H231.76V59.20H227.49zM289.44 53.70H293.71V59.20H289.44zM157.79 58.80H162.06V64.30H157.79zM196.51 58.80H200.78V64.30H196.51zM208.12 58.80H212.40V64.30H208.12zM231.36 58.80H235.63V64.30H231.36zM293.31 58.80H297.58V64.30H293.31zM339.78 58.80H344.05V64.30H339.78zM57.11 69.00H61.38V74.50H57.11zM76.47 69.00H80.74V74.50H76.47zM95.83 69.00H100.10V74.50H95.83zM111.32 69.00H115.59V74.50H111.32zM138.43 69.00H142.70V74.50H138.43zM181.02 69.00H193.04V74.50H181.02zM204.25 69.00H208.52V74.50H204.25zM235.23 69.00H239.50V74.50H235.23zM281.70 69.00H285.97V74.50H281.70zM370.76 69.00H378.90V74.50H370.76zM142.30 74.10H146.57V79.60H142.30zM161.66 74.10H165.93V79.60H161.66zM169.40 74.10H173.68V79.60H169.40zM192.64 74.10H196.91V79.60H192.64zM200.38 74.10H204.65V79.60H200.38zM223.61 74.10H227.89V79.60H223.61zM289.44 74.10H293.71V79.60H289.44zM312.67 74.10H316.95V79.60H312.67zM332.03 74.10H336.31V79.60H332.03zM366.88 74.10H375.03V79.60H366.88z"/>
<path fill="#80ff32" d="M254.59 43.50H258.86V49.00H254.59zM2.90 53.70H11.04V59.20H2.90zM14.52 53.70H45.89V59.20H14.52zM60.98 53.70H65.25V59.20H60.98zM95.83 53.70H100.10V59.20H95.83zM215.87 53.70H220.14V59.20H215.87zM270.08 53.70H274.35V59.20H270.08zM308.80 53.70H313.07V59.20H308.80zM37.75 58.80H45.89V64.30H37.75zM57.11 58.80H65.25V64.30H57.11zM68.73 58.80H84.62V64.30H68.73zM95.83 58.80H100.10V64.30H95.83zM103.58 58.80H107.85V64.30H103.58zM115.19 58.80H119.46V64.30H115.19zM146.17 58.80H150.44V64.30H146.17zM192.64 58.80H196.91V64.30H192.64zM262.34 58.80H266.61V64.30H262.34zM281.70 58.80H293.71V64.30H281.70zM328.16 58.80H340.18V64.30H328.16zM343.65 58.80H347.92V64.30H343.65zM351.39 58.80H355.67V64.30H351.39zM363.01 58.80H375.03V64.30H363.01zM37.75 63.90H45.89V69.40H37.75zM57.11 63.90H158.19V69.40H57.11zM231.36 63.90H235.63V69.40H231.36zM250.72 63.90H254.99V69.40H250.72zM262.34 63.90H378.90V69.40H262.34z"/>
</g>
<g filter="url(#bl)">
<path fill="#f00a0a" d="M381.30 33.30H385.20V38.80H381.30zM381.30 48.60H392.20V54.10H381.30zM391.80 53.70H395.70V59.20H391.80zM398.80 53.70H402.70V59.20H398.80zM381.30 58.80H399.20V64.30H381.30zM381.30 63.90H392.20V69.40H381.30z"/>
<path fill="#ce0909" d="M384.80 33.30H392.20V38.80H384.80z"/>
<path fill="#80ff32" d="M391.80 33.30H402.70V38.80H391.80zM391.80 63.90H402.70V69.40H391.80z"/>
<path fill="#120606" d="M402.30 33.30H406.20V38.80H402.30zM409.30 33.30H416.70V38.80H409.30zM402.30 38.40H406.20V43.90H402.30zM409.30 38.40H413.20V43.90H409.30zM398.80 74.10H402.70V79.60H398.80zM409.30 74.10H413.20V79.60H409.30z"/>
<path fill="#185209" d="M405.80 33.30H409.70V38.80H405.80z"/>
<path fill="#2c0606" d="M381.30 38.40H385.20V43.90H381.30zM412.80 38.40H416.70V43.90H412.80zM412.80 48.60H416.70V54.10H412.80zM405.80 53.70H409.70V59.20H405.80zM402.30 74.10H406.20V79.60H402.30zM412.80 74.10H416.70V79.60H412.80z"/>
<path fill="#6f0707" d="M384.80 38.40H388.70V43.90H384.80zM402.30 43.50H406.20V49.00H402.30zM381.30 53.70H385.20V59.20H381.30zM395.30 53.70H399.20V59.20H395.30zM409.30 53.70H413.20V59.20H409.30zM398.80 58.80H402.70V64.30H398.80zM405.80 58.80H413.20V64.30H405.80zM402.30 63.90H406.20V69.40H402.30zM412.80 63.90H416.70V69.40H412.80zM391.80 69.00H399.20V74.50H391.80zM395.30 74.10H399.20V79.60H395.30z"/>
<path fill="#3e0606" d="M388.30 38.40H392.20V43.90H388.30zM405.80 43.50H409.70V49.00H405.80zM402.30 48.60H406.20V54.10H402.30zM388.30 53.70H392.20V59.20H388.30zM412.80 53.70H416.70V59.20H412.80zM381.30 69.00H385.20V74.50H381.30zM405.80 69.00H409.70V74.50H405.80zM412.80 69.00H416.70V74.50H412.80z"/>
<path fill="#19570a" d="M391.80 38.40H395.70V43.90H391.80zM381.30 43.50H388.70V49.00H381.30zM391.80 43.50H395.70V49.00H391.80zM412.80 43.50H416.70V49.00H412.80zM395.30 48.60H399.20V54.10H395.30zM405.80 48.60H413.20V54.10H405.80zM402.30 58.80H406.20V64.30H402.30zM384.80 69.00H388.70V74.50H384.80zM402.30 69.00H406.20V74.50H402.30zM409.30 69.00H413.20V74.50H409.30zM388.30 74.10H392.20V79.60H388.30zM405.80 74.10H409.70V79.60H405.80z"/>
<path fill="#39a116" d="M395.30 38.40H402.70V43.90H395.30zM405.80 38.40H409.70V43.90H405.80zM395.30 43.50H402.70V49.00H395.30zM409.30 43.50H413.20V49.00H409.30zM402.30 53.70H406.20V59.20H402.30zM381.30 74.10H388.70V79.60H381.30z"/>
<path fill="#123907" d="M388.30 43.50H392.20V49.00H388.30zM384.80 53.70H388.70V59.20H384.80zM412.80 58.80H416.70V64.30H412.80zM405.80 63.90H413.20V69.40H405.80zM388.30 69.00H392.20V74.50H388.30zM391.80 74.10H395.70V79.60H391.80z"/>
<path fill="#102a06" d="M391.80 48.60H395.70V54.10H391.80zM398.80 48.60H402.70V54.10H398.80zM398.80 69.00H402.70V74.50H398.80z"/>
</g>
<rect x="379.50" y="4.00" width="1.50" height="80.00" fill="#e6ee3c"/>
<rect x="3.10" y="81.40" width="34.80" height="1.80" fill="#c8143c"/>
<rect x="37.90" y="81.40" width="120.10" height="1.80" fill="#9ee6de"/>
<rect x="158.00" y="81.40" width="104.70" height="1.80" fill="#f0a830"/>
<rect x="262.70" y="81.40" width="116.00" height="1.80" fill="#3a6fe0"/>
<rect x="381.20" y="81.40" width="10.80" height="1.80" fill="#d238d2"/>
<rect x="392.00" y="81.40" width="11.40" height="1.80" fill="#a4dcf2"/>
<rect x="403.40" y="81.40" width="13.60" height="1.80" fill="#6f9a3a"/>
<text x="4.50" y="90.60" font-size="5.40" font-weight="bold" fill="#111" stroke="#111" stroke-width="0.1">MLL/t(11q23)</text>
<text x="86.30" y="90.60" font-size="5.50" font-weight="bold" fill="#111" stroke="#111" stroke-width="0.1">t(15;17)</text>
<text x="195.40" y="90.60" font-size="5.90" font-weight="bold" fill="#111" stroke="#111" stroke-width="0.1">inv(16)</text>
<text x="317.00" y="90.60" font-size="5.70" font-weight="bold" fill="#111" stroke="#111" stroke-width="0.1">t(8;21)</text>
<text x="406.00" y="90.80" font-size="5.30" font-weight="bold" fill="#111" stroke="#111" stroke-width="0.1">MNC</text>
<text transform="translate(385.60 100.80) rotate(-90)" font-size="5.60" font-weight="bold" fill="#111" textLength="15.60" lengthAdjust="spacingAndGlyphs">CD34+</text>
<text transform="translate(401.20 100.80) rotate(-90)" font-size="5.60" font-weight="bold" fill="#111" textLength="15.60" lengthAdjust="spacingAndGlyphs">CD33+</text>
<text x="464.40" y="13.90" font-size="5.40" font-weight="bold" fill="#111" text-anchor="middle" stroke="#111" stroke-width="0.12">Expression correlation</text>
<text x="465.20" y="20.90" font-size="5.4" font-weight="bold" fill="#111" stroke="#111" stroke-width="0.12" text-anchor="middle">with <tspan font-style="italic">HOXA9</tspan></text>
<rect x="444.00" y="23.90" width="44.30" height="0.70" fill="#222"/>
<text x="426.50" y="31.00" font-size="5.40" font-weight="bold" fill="#111" stroke="#111" stroke-width="0.12">Gene</text>
<text x="452.80" y="31.00" font-size="7.40" font-weight="bold" fill="#111" font-style="italic" stroke="#111" stroke-width="0.3">r</text>
<text x="478.70" y="31.40" font-size="6.20" font-weight="bold" fill="#111" font-style="italic" stroke="#111" stroke-width="0.2">P</text>
<text x="425.80" y="38.50" font-size="5.30" font-weight="normal" fill="#585858" font-family="Liberation Mono, monospace">HOXA9</text>
<text x="450.20" y="38.50" font-size="5.30" font-weight="normal" fill="#585858" font-family="Liberation Mono, monospace">-</text>
<text x="475.80" y="38.80" font-size="5.30" font-weight="normal" fill="#585858" font-family="Liberation Mono, monospace">-</text>
<text x="425.80" y="43.68" font-size="5.30" font-weight="normal" fill="#585858" font-family="Liberation Mono, monospace">HOXA7</text>
<text x="450.20" y="43.68" font-size="5.30" font-weight="normal" fill="#585858" font-family="Liberation Mono, monospace">0.75</text>
<text x="475.80" y="43.98" font-size="5.30" font-weight="normal" fill="#585858" font-family="Liberation Mono, monospace">&lt;0.0001</text>
<text x="425.80" y="48.86" font-size="5.30" font-weight="normal" fill="#585858" font-family="Liberation Mono, monospace">HOXA11</text>
<text x="450.20" y="48.86" font-size="5.30" font-weight="normal" fill="#585858" font-family="Liberation Mono, monospace">0.46</text>
<text x="475.80" y="49.16" font-size="5.30" font-weight="normal" fill="#585858" font-family="Liberation Mono, monospace">&lt;0.0001</text>
<text x="425.80" y="54.04" font-size="5.30" font-weight="normal" fill="#585858" font-family="Liberation Mono, monospace">PBX1</text>
<text x="450.20" y="54.04" font-size="5.30" font-weight="normal" fill="#585858" font-family="Liberation Mono, monospace">0.17</text>
<text x="475.80" y="54.34" font-size="5.30" font-weight="normal" fill="#585858" font-family="Liberation Mono, monospace">0.08</text>
<text x="425.80" y="59.22" font-size="5.30" font-weight="normal" fill="#585858" font-family="Liberation Mono, monospace">PBX2</text>
<text x="450.20" y="59.22" font-size="5.30" font-weight="normal" fill="#585858" font-family="Liberation Mono, monospace">-0.45</text>
<text x="475.80" y="59.52" font-size="5.30" font-weight="normal" fill="#585858" font-family="Liberation Mono, monospace">&lt;0.0001</text>
<text x="425.80" y="64.40" font-size="5.30" font-weight="normal" fill="#585858" font-family="Liberation Mono, monospace">PBX3</text>
<text x="450.20" y="64.40" font-size="5.30" font-weight="normal" fill="#585858" font-family="Liberation Mono, monospace">0.67</text>
<text x="475.80" y="64.70" font-size="5.30" font-weight="normal" fill="#585858" font-family="Liberation Mono, monospace">&lt;0.0001</text>
<text x="425.80" y="69.58" font-size="5.30" font-weight="normal" fill="#585858" font-family="Liberation Mono, monospace">MEIS1</text>
<text x="450.20" y="69.58" font-size="5.30" font-weight="normal" fill="#585858" font-family="Liberation Mono, monospace">0.73</text>
<text x="475.80" y="69.88" font-size="5.30" font-weight="normal" fill="#585858" font-family="Liberation Mono, monospace">&lt;0.0001</text>
<text x="425.80" y="74.76" font-size="5.30" font-weight="normal" fill="#585858" font-family="Liberation Mono, monospace">MEIS2</text>
<text x="450.20" y="74.76" font-size="5.30" font-weight="normal" fill="#585858" font-family="Liberation Mono, monospace">-0.07</text>
<text x="475.80" y="75.06" font-size="5.30" font-weight="normal" fill="#585858" font-family="Liberation Mono, monospace">0.49</text>
<text x="425.80" y="79.94" font-size="5.30" font-weight="normal" fill="#585858" font-family="Liberation Mono, monospace">MEIS3</text>
<text x="450.20" y="79.94" font-size="5.30" font-weight="normal" fill="#585858" font-family="Liberation Mono, monospace">-0.10</text>
<text x="475.80" y="80.24" font-size="5.30" font-weight="normal" fill="#585858" font-family="Liberation Mono, monospace">0.29</text>
<text x="0.40" y="111.80" font-size="11.20" font-weight="bold" fill="#111" stroke="#111" stroke-width="0.25">B</text>
<text x="40.00" y="102.30" font-size="7.20" font-weight="bold" fill="#111">Germany-Set (n=71)</text>
<text transform="translate(7.12 133.80) rotate(-90)" font-size="3.60" font-weight="bold" fill="#444">MLL1</text>
<text transform="translate(11.97 133.80) rotate(-90)" font-size="3.60" font-weight="bold" fill="#444">MLL2</text>
<text transform="translate(16.82 133.80) rotate(-90)" font-size="3.60" font-weight="bold" fill="#444">MLL3</text>
<text transform="translate(21.67 133.80) rotate(-90)" font-size="3.60" font-weight="bold" fill="#444">MLL4</text>
<text transform="translate(26.52 133.80) rotate(-90)" font-size="3.60" font-weight="bold" fill="#444">MLL5</text>
<text transform="translate(31.37 133.80) rotate(-90)" font-size="3.60" font-weight="bold" fill="#444">MLL6</text>
<text transform="translate(36.22 133.80) rotate(-90)" font-size="3.60" font-weight="bold" fill="#444">MLL7</text>
<text transform="translate(41.07 133.80) rotate(-90)" font-size="3.60" font-weight="bold" fill="#444">MLL8</text>
<rect x="3.50" y="181.60" width="38.79" height="1.80" fill="#c8143c"/>
<text transform="translate(45.92 133.8) rotate(-90)" font-size="3.60" fill="#555" textLength="30.10" lengthAdjust="spacingAndGlyphs">-7/7q(C,L,C,L)1</text>
<text transform="translate(50.77 133.8) rotate(-90)" font-size="3.60" fill="#555" textLength="30.10" lengthAdjust="spacingAndGlyphs">-7/7q(C,L,C,L)2</text>
<text transform="translate(55.62 133.8) rotate(-90)" font-size="3.60" fill="#555" textLength="30.10" lengthAdjust="spacingAndGlyphs">-7/7q(C,L,C,L)3</text>
<text transform="translate(60.47 133.8) rotate(-90)" font-size="3.60" fill="#555" textLength="30.10" lengthAdjust="spacingAndGlyphs">-7/7q(C,L,C,L)4</text>
<text transform="translate(65.32 133.8) rotate(-90)" font-size="3.60" fill="#555" textLength="30.10" lengthAdjust="spacingAndGlyphs">-7/7q(C,L,C,L)5</text>
<text transform="translate(70.17 133.8) rotate(-90)" font-size="3.60" fill="#555" textLength="30.10" lengthAdjust="spacingAndGlyphs">-7/7q(C,L,C,L)6</text>
<text transform="translate(75.01 133.8) rotate(-90)" font-size="3.60" fill="#555" textLength="30.10" lengthAdjust="spacingAndGlyphs">-7/7q(C,L,C,L)7</text>
<text transform="translate(79.86 133.8) rotate(-90)" font-size="3.60" fill="#555" textLength="30.10" lengthAdjust="spacingAndGlyphs">-7/7q(C,L,C,L)8</text>
<text transform="translate(84.71 133.8) rotate(-90)" font-size="3.60" fill="#555" textLength="30.10" lengthAdjust="spacingAndGlyphs">-7/7q(C,L,C,L)9</text>
<text transform="translate(89.56 133.8) rotate(-90)" font-size="3.60" fill="#555" textLength="30.10" lengthAdjust="spacingAndGlyphs">-7/7q(C,L,C,L)10</text>
<text transform="translate(94.41 133.8) rotate(-90)" font-size="3.60" fill="#555" textLength="30.10" lengthAdjust="spacingAndGlyphs">-7/7q(C,L,C,L)11</text>
<rect x="42.29" y="181.60" width="53.34" height="1.80" fill="#9a3fe0"/>
<text transform="translate(99.26 133.8) rotate(-90)" font-size="3.60" fill="#555" textLength="12.80" lengthAdjust="spacingAndGlyphs">+8_1</text>
<text transform="translate(104.11 133.8) rotate(-90)" font-size="3.60" fill="#555" textLength="12.80" lengthAdjust="spacingAndGlyphs">+8_2</text>
<text transform="translate(108.96 133.8) rotate(-90)" font-size="3.60" fill="#555" textLength="12.80" lengthAdjust="spacingAndGlyphs">+8_3</text>
<text transform="translate(113.81 133.8) rotate(-90)" font-size="3.60" fill="#555" textLength="12.80" lengthAdjust="spacingAndGlyphs">+8_4</text>
<rect x="95.64" y="181.60" width="19.40" height="1.80" fill="#a4dcf2"/>
<text transform="translate(118.66 133.8) rotate(-90)" font-size="3.60" fill="#555" textLength="21.50" lengthAdjust="spacingAndGlyphs">Complex_1</text>
<text transform="translate(123.51 133.8) rotate(-90)" font-size="3.60" fill="#555" textLength="21.50" lengthAdjust="spacingAndGlyphs">Complex_2</text>
<text transform="translate(128.36 133.8) rotate(-90)" font-size="3.60" fill="#555" textLength="21.50" lengthAdjust="spacingAndGlyphs">Complex_3</text>
<text transform="translate(133.21 133.8) rotate(-90)" font-size="3.60" fill="#555" textLength="21.50" lengthAdjust="spacingAndGlyphs">Complex_4</text>
<text transform="translate(138.06 133.8) rotate(-90)" font-size="3.60" fill="#555" textLength="21.50" lengthAdjust="spacingAndGlyphs">Complex_5</text>
<rect x="115.03" y="181.60" width="24.25" height="1.80" fill="#f0a830"/>
<text transform="translate(142.90 133.8) rotate(-90)" font-size="3.60" fill="#555" textLength="11.10" lengthAdjust="spacingAndGlyphs">Other1</text>
<text transform="translate(147.75 133.8) rotate(-90)" font-size="3.60" fill="#555" textLength="11.10" lengthAdjust="spacingAndGlyphs">Other2</text>
<text transform="translate(152.60 133.8) rotate(-90)" font-size="3.60" fill="#555" textLength="11.10" lengthAdjust="spacingAndGlyphs">Other3</text>
<text transform="translate(157.45 133.8) rotate(-90)" font-size="3.60" fill="#555" textLength="11.10" lengthAdjust="spacingAndGlyphs">Other4</text>
<text transform="translate(162.30 133.8) rotate(-90)" font-size="3.60" fill="#555" textLength="11.10" lengthAdjust="spacingAndGlyphs">Other5</text>
<rect x="139.28" y="181.60" width="24.25" height="1.80" fill="#2a2fd8"/>
<text transform="translate(167.15 133.8) rotate(-90)" font-size="3.60" fill="#555" textLength="24.30" lengthAdjust="spacingAndGlyphs">t(15;17)_01</text>
<text transform="translate(172.00 133.8) rotate(-90)" font-size="3.60" fill="#555" textLength="24.30" lengthAdjust="spacingAndGlyphs">t(15;17)_02</text>
<text transform="translate(176.85 133.8) rotate(-90)" font-size="3.60" fill="#555" textLength="24.30" lengthAdjust="spacingAndGlyphs">t(15;17)_03</text>
<text transform="translate(181.70 133.8) rotate(-90)" font-size="3.60" fill="#555" textLength="24.30" lengthAdjust="spacingAndGlyphs">t(15;17)_04</text>
<text transform="translate(186.55 133.8) rotate(-90)" font-size="3.60" fill="#555" textLength="24.30" lengthAdjust="spacingAndGlyphs">t(15;17)_05</text>
<text transform="translate(191.40 133.8) rotate(-90)" font-size="3.60" fill="#555" textLength="24.30" lengthAdjust="spacingAndGlyphs">t(15;17)_06</text>
<text transform="translate(196.25 133.8) rotate(-90)" font-size="3.60" fill="#555" textLength="24.30" lengthAdjust="spacingAndGlyphs">t(15;17)_07</text>
<text transform="translate(201.10 133.8) rotate(-90)" font-size="3.60" fill="#555" textLength="24.30" lengthAdjust="spacingAndGlyphs">t(15;17)_08</text>
<text transform="translate(205.95 133.8) rotate(-90)" font-size="3.60" fill="#555" textLength="24.30" lengthAdjust="spacingAndGlyphs">t(15;17)_09</text>
<text transform="translate(210.80 133.8) rotate(-90)" font-size="3.60" fill="#555" textLength="24.30" lengthAdjust="spacingAndGlyphs">t(15;17)_10</text>
<text transform="translate(215.64 133.8) rotate(-90)" font-size="3.60" fill="#555" textLength="24.30" lengthAdjust="spacingAndGlyphs">t(15;17)_11</text>
<text transform="translate(220.49 133.8) rotate(-90)" font-size="3.60" fill="#555" textLength="24.30" lengthAdjust="spacingAndGlyphs">t(15;17)_12</text>
<rect x="163.53" y="181.60" width="58.19" height="1.80" fill="#9ee6de"/>
<text transform="translate(225.34 133.8) rotate(-90)" font-size="3.60" fill="#555" textLength="20.80" lengthAdjust="spacingAndGlyphs">inv(16)_01</text>
<text transform="translate(230.19 133.8) rotate(-90)" font-size="3.60" fill="#555" textLength="20.80" lengthAdjust="spacingAndGlyphs">inv(16)_02</text>
<text transform="translate(235.04 133.8) rotate(-90)" font-size="3.60" fill="#555" textLength="20.80" lengthAdjust="spacingAndGlyphs">inv(16)_03</text>
<text transform="translate(239.89 133.8) rotate(-90)" font-size="3.60" fill="#555" textLength="20.80" lengthAdjust="spacingAndGlyphs">inv(16)_04</text>
<text transform="translate(244.74 133.8) rotate(-90)" font-size="3.60" fill="#555" textLength="20.80" lengthAdjust="spacingAndGlyphs">inv(16)_05</text>
<text transform="translate(249.59 133.8) rotate(-90)" font-size="3.60" fill="#555" textLength="20.80" lengthAdjust="spacingAndGlyphs">inv(16)_06</text>
<text transform="translate(254.44 133.8) rotate(-90)" font-size="3.60" fill="#555" textLength="20.80" lengthAdjust="spacingAndGlyphs">inv(16)_07</text>
<text transform="translate(259.29 133.8) rotate(-90)" font-size="3.60" fill="#555" textLength="20.80" lengthAdjust="spacingAndGlyphs">inv(16)_08</text>
<text transform="translate(264.14 133.8) rotate(-90)" font-size="3.60" fill="#555" textLength="20.80" lengthAdjust="spacingAndGlyphs">inv(16)_09</text>
<text transform="translate(268.99 133.8) rotate(-90)" font-size="3.60" fill="#555" textLength="20.80" lengthAdjust="spacingAndGlyphs">inv(16)_10</text>
<text transform="translate(273.84 133.8) rotate(-90)" font-size="3.60" fill="#555" textLength="20.80" lengthAdjust="spacingAndGlyphs">inv(16)_11</text>
<text transform="translate(278.69 133.8) rotate(-90)" font-size="3.60" fill="#555" textLength="20.80" lengthAdjust="spacingAndGlyphs">inv(16)_12</text>
<text transform="translate(283.53 133.8) rotate(-90)" font-size="3.60" fill="#555" textLength="20.80" lengthAdjust="spacingAndGlyphs">inv(16)_13</text>
<text transform="translate(288.38 133.8) rotate(-90)" font-size="3.60" fill="#555" textLength="20.80" lengthAdjust="spacingAndGlyphs">inv(16)_14</text>
<text transform="translate(293.23 133.8) rotate(-90)" font-size="3.60" fill="#555" textLength="20.80" lengthAdjust="spacingAndGlyphs">inv(16)_15</text>
<rect x="221.72" y="181.60" width="72.74" height="1.80" fill="#f0a830"/>
<text transform="translate(298.08 133.8) rotate(-90)" font-size="3.60" fill="#555" textLength="19.80" lengthAdjust="spacingAndGlyphs">t(8;21)01</text>
<text transform="translate(302.93 133.8) rotate(-90)" font-size="3.60" fill="#555" textLength="19.80" lengthAdjust="spacingAndGlyphs">t(8;21)02</text>
<text transform="translate(307.78 133.8) rotate(-90)" font-size="3.60" fill="#555" textLength="19.80" lengthAdjust="spacingAndGlyphs">t(8;21)03</text>
<text transform="translate(312.63 133.8) rotate(-90)" font-size="3.60" fill="#555" textLength="19.80" lengthAdjust="spacingAndGlyphs">t(8;21)04</text>
<text transform="translate(317.48 133.8) rotate(-90)" font-size="3.60" fill="#555" textLength="19.80" lengthAdjust="spacingAndGlyphs">t(8;21)05</text>
<text transform="translate(322.33 133.8) rotate(-90)" font-size="3.60" fill="#555" textLength="19.80" lengthAdjust="spacingAndGlyphs">t(8;21)06</text>
<text transform="translate(327.18 133.8) rotate(-90)" font-size="3.60" fill="#555" textLength="19.80" lengthAdjust="spacingAndGlyphs">t(8;21)07</text>
<text transform="translate(332.03 133.8) rotate(-90)" font-size="3.60" fill="#555" textLength="19.80" lengthAdjust="spacingAndGlyphs">t(8;21)08</text>
<text transform="translate(336.88 133.8) rotate(-90)" font-size="3.60" fill="#555" textLength="19.80" lengthAdjust="spacingAndGlyphs">t(8;21)09</text>
<text transform="translate(341.73 133.8) rotate(-90)" font-size="3.60" fill="#555" textLength="19.80" lengthAdjust="spacingAndGlyphs">t(8;21)10</text>
<text transform="translate(346.58 133.8) rotate(-90)" font-size="3.60" fill="#555" textLength="19.80" lengthAdjust="spacingAndGlyphs">t(8;21)11</text>
<rect x="294.46" y="181.60" width="53.34" height="1.80" fill="#3a6fe0"/>
<g filter="url(#bl)">
<path fill="#f00a0a" d="M3.30 134.80H37.65V140.20H3.30zM51.79 134.80H76.44V140.20H51.79zM95.44 134.80H105.54V140.20H95.44zM114.83 134.80H124.93V140.20H114.83zM139.08 134.80H158.88V140.20H139.08zM3.30 139.80H13.40V145.20H3.30zM27.55 139.80H37.65V145.20H27.55zM51.79 139.80H57.04V145.20H51.79zM61.49 139.80H66.74V145.20H61.49zM71.19 139.80H76.44V145.20H71.19zM95.44 139.80H105.54V145.20H95.44zM114.83 139.80H124.93V145.20H114.83zM129.38 139.80H134.63V145.20H129.38zM139.08 139.80H144.33V145.20H139.08zM148.78 139.80H158.88V145.20H148.78zM3.30 144.80H8.55V150.20H3.30zM32.40 144.80H37.65V150.20H32.40zM61.49 144.80H66.74V150.20H61.49zM80.89 144.80H86.14V150.20H80.89zM114.83 144.80H124.93V150.20H114.83zM279.71 144.80H284.96V150.20H279.71zM3.30 149.80H8.55V155.20H3.30zM32.40 149.80H37.65V155.20H32.40zM85.74 149.80H90.99V155.20H85.74zM100.29 149.80H110.38V155.20H100.29zM206.97 149.80H212.22V155.20H206.97zM274.86 149.80H284.96V155.20H274.86zM323.35 149.80H328.60V155.20H323.35zM8.15 154.80H18.25V160.20H8.15zM32.40 154.80H42.49V160.20H32.40zM51.79 154.80H57.04V160.20H51.79zM76.04 154.80H90.99V160.20H76.04zM129.38 154.80H134.63V160.20H129.38zM182.72 154.80H187.97V160.20H182.72zM206.97 154.80H212.22V160.20H206.97zM221.52 154.80H226.77V160.20H221.52zM236.07 154.80H241.32V160.20H236.07zM255.46 154.80H260.71V160.20H255.46zM265.16 154.80H270.41V160.20H265.16zM284.56 154.80H289.81V160.20H284.56zM3.30 159.80H42.49V165.20H3.30zM51.79 159.80H71.59V165.20H51.79zM76.04 159.80H86.14V165.20H76.04zM90.59 159.80H95.84V165.20H90.59zM114.83 159.80H124.93V165.20H114.83zM139.08 159.80H154.03V165.20H139.08zM265.16 159.80H270.41V165.20H265.16zM333.05 159.80H338.30V165.20H333.05zM3.30 164.80H47.34V170.20H3.30zM61.49 164.80H66.74V170.20H61.49zM76.04 164.80H81.29V170.20H76.04zM85.74 164.80H95.84V170.20H85.74zM114.83 164.80H124.93V170.20H114.83zM134.23 164.80H158.88V170.20H134.23zM265.16 164.80H270.41V170.20H265.16zM308.81 164.80H314.05V170.20H308.81zM3.30 169.80H8.55V175.20H3.30zM27.55 169.80H37.65V175.20H27.55zM56.64 169.80H66.74V175.20H56.64zM71.19 169.80H76.44V175.20H71.19zM114.83 169.80H120.08V175.20H114.83zM134.23 169.80H139.48V175.20H134.23zM192.42 169.80H197.67V175.20H192.42zM202.12 169.80H207.37V175.20H202.12zM211.82 169.80H221.92V175.20H211.82zM236.07 169.80H241.32V175.20H236.07zM245.76 169.80H251.01V175.20H245.76zM274.86 169.80H284.96V175.20H274.86zM313.65 169.80H328.60V175.20H313.65zM337.90 169.80H343.15V175.20H337.90zM13.00 174.80H18.25V180.20H13.00zM37.25 174.80H42.49V180.20H37.25zM56.64 174.80H61.89V180.20H56.64zM85.74 174.80H90.99V180.20H85.74zM100.29 174.80H110.38V180.20H100.29zM148.78 174.80H154.03V180.20H148.78zM197.27 174.80H207.37V180.20H197.27zM240.92 174.80H246.16V180.20H240.92zM255.46 174.80H260.71V180.20H255.46zM323.35 174.80H333.45V180.20H323.35z"/>
<path fill="#120606" d="M37.25 134.80H42.49V140.20H37.25zM105.14 134.80H110.38V140.20H105.14zM17.85 139.80H23.10V145.20H17.85zM308.81 139.80H314.05V145.20H308.81zM27.55 144.80H32.80V150.20H27.55zM148.78 144.80H154.03V150.20H148.78zM173.03 144.80H178.27V150.20H173.03zM202.12 144.80H207.37V150.20H202.12zM265.16 144.80H270.41V150.20H265.16zM134.23 149.80H139.48V155.20H134.23zM158.48 149.80H163.73V155.20H158.48zM250.61 149.80H255.86V155.20H250.61zM260.31 149.80H265.56V155.20H260.31zM289.41 149.80H294.66V155.20H289.41zM299.11 149.80H304.36V155.20H299.11zM42.09 154.80H47.34V160.20H42.09zM56.64 154.80H61.89V160.20H56.64zM105.14 154.80H110.38V160.20H105.14zM139.08 154.80H144.33V160.20H139.08zM192.42 154.80H197.67V160.20H192.42zM85.74 169.80H90.99V175.20H85.74zM109.98 174.80H115.23V180.20H109.98zM211.82 174.80H217.07V180.20H211.82zM226.37 174.80H231.62V180.20H226.37zM260.31 174.80H265.56V180.20H260.31z"/>
<path fill="#8e8e8e" d="M42.09 134.80H47.34V140.20H42.09zM163.33 134.80H173.43V140.20H163.33zM221.52 134.80H236.47V140.20H221.52zM294.26 134.80H309.21V140.20H294.26zM42.09 139.80H52.19V145.20H42.09zM76.04 139.80H81.29V145.20H76.04zM163.33 139.80H173.43V145.20H163.33zM221.52 139.80H241.32V145.20H221.52zM294.26 139.80H309.21V145.20H294.26zM342.75 139.80H348.00V145.20H342.75zM46.94 144.80H57.04V150.20H46.94zM66.34 144.80H81.29V150.20H66.34zM163.33 144.80H173.43V150.20H163.33zM221.52 144.80H231.62V150.20H221.52zM236.07 144.80H241.32V150.20H236.07zM255.46 144.80H265.56V150.20H255.46zM294.26 144.80H309.21V150.20H294.26zM168.18 149.80H173.43V155.20H168.18zM221.52 149.80H226.77V155.20H221.52zM303.96 149.80H309.21V155.20H303.96zM294.26 154.80H309.21V160.20H294.26zM236.07 159.80H241.32V165.20H236.07zM294.26 159.80H309.21V165.20H294.26zM299.11 164.80H309.21V170.20H299.11zM42.09 169.80H57.04V175.20H42.09zM76.04 169.80H81.29V175.20H76.04zM163.33 169.80H173.43V175.20H163.33zM221.52 169.80H226.77V175.20H221.52zM231.22 169.80H236.47V175.20H231.22zM255.46 169.80H260.71V175.20H255.46zM294.26 169.80H309.21V175.20H294.26zM32.40 174.80H37.65V180.20H32.40zM42.09 174.80H47.34V180.20H42.09zM51.79 174.80H57.04V180.20H51.79zM61.49 174.80H66.74V180.20H61.49zM221.52 174.80H226.77V180.20H221.52zM236.07 174.80H241.32V180.20H236.07zM274.86 174.80H280.11V180.20H274.86zM294.26 174.80H309.21V180.20H294.26z"/>
<path fill="#6f0707" d="M46.94 134.80H52.19V140.20H46.94zM76.04 134.80H90.99V140.20H76.04zM173.03 134.80H178.27V140.20H173.03zM236.07 134.80H241.32V140.20H236.07zM308.81 134.80H314.05V140.20H308.81zM13.00 139.80H18.25V145.20H13.00zM56.64 139.80H61.89V145.20H56.64zM80.89 139.80H86.14V145.20H80.89zM105.14 139.80H110.38V145.20H105.14zM134.23 139.80H139.48V145.20H134.23zM143.93 139.80H149.18V145.20H143.93zM173.03 139.80H178.27V145.20H173.03zM8.15 144.80H13.40V150.20H8.15zM42.09 144.80H47.34V150.20H42.09zM85.74 144.80H90.99V150.20H85.74zM95.44 144.80H100.69V150.20H95.44zM139.08 144.80H144.33V150.20H139.08zM153.63 144.80H158.88V150.20H153.63zM206.97 144.80H212.22V150.20H206.97zM274.86 144.80H280.11V150.20H274.86zM284.56 144.80H289.81V150.20H284.56zM323.35 144.80H328.60V150.20H323.35zM337.90 144.80H343.15V150.20H337.90zM8.15 149.80H13.40V155.20H8.15zM51.79 149.80H57.04V155.20H51.79zM129.38 149.80H134.63V155.20H129.38zM173.03 149.80H178.27V155.20H173.03zM192.42 149.80H197.67V155.20H192.42zM202.12 149.80H207.37V155.20H202.12zM240.92 149.80H251.01V155.20H240.92zM284.56 149.80H289.81V155.20H284.56zM328.20 149.80H333.45V155.20H328.20zM17.85 154.80H23.10V160.20H17.85zM66.34 154.80H71.59V160.20H66.34zM90.59 154.80H95.84V160.20H90.59zM134.23 154.80H139.48V160.20H134.23zM143.93 154.80H149.18V160.20H143.93zM173.03 154.80H178.27V160.20H173.03zM187.57 154.80H192.82V160.20H187.57zM226.37 154.80H231.62V160.20H226.37zM240.92 154.80H246.16V160.20H240.92zM279.71 154.80H284.96V160.20H279.71zM308.81 154.80H314.05V160.20H308.81zM323.35 154.80H328.60V160.20H323.35zM333.05 154.80H338.30V160.20H333.05zM46.94 159.80H52.19V165.20H46.94zM85.74 159.80H90.99V165.20H85.74zM105.14 159.80H110.38V165.20H105.14zM153.63 159.80H158.88V165.20H153.63zM279.71 159.80H284.96V165.20H279.71zM308.81 159.80H314.05V165.20H308.81zM342.75 159.80H348.00V165.20H342.75zM51.79 164.80H57.04V170.20H51.79zM66.34 164.80H71.59V170.20H66.34zM226.37 164.80H231.62V170.20H226.37zM22.70 169.80H27.95V175.20H22.70zM66.34 169.80H71.59V175.20H66.34zM119.68 169.80H124.93V175.20H119.68zM139.08 169.80H144.33V175.20H139.08zM206.97 169.80H212.22V175.20H206.97zM226.37 169.80H231.62V175.20H226.37zM265.16 169.80H270.41V175.20H265.16zM284.56 169.80H289.81V175.20H284.56zM328.20 169.80H333.45V175.20H328.20zM17.85 174.80H27.95V180.20H17.85zM66.34 174.80H71.59V180.20H66.34zM80.89 174.80H86.14V180.20H80.89zM153.63 174.80H158.88V180.20H153.63zM173.03 174.80H178.27V180.20H173.03zM216.67 174.80H221.92V180.20H216.67zM265.16 174.80H270.41V180.20H265.16zM279.71 174.80H284.96V180.20H279.71zM289.41 174.80H294.66V180.20H289.41zM337.90 174.80H348.00V180.20H337.90z"/>
<path fill="#80ff32" d="M90.59 134.80H95.84V140.20H90.59zM134.23 134.80H139.48V140.20H134.23zM182.72 134.80H192.82V140.20H182.72zM197.27 134.80H221.92V140.20H197.27zM284.56 134.80H294.66V140.20H284.56zM337.90 134.80H348.00V140.20H337.90zM37.25 139.80H42.49V145.20H37.25zM158.48 139.80H163.73V145.20H158.48zM177.87 139.80H187.97V145.20H177.87zM202.12 139.80H221.92V145.20H202.12zM265.16 139.80H270.41V145.20H265.16zM284.56 139.80H294.66V145.20H284.56zM337.90 139.80H343.15V145.20H337.90zM13.00 144.80H23.10V150.20H13.00zM100.29 144.80H105.54V150.20H100.29zM134.23 144.80H139.48V150.20H134.23zM308.81 144.80H314.05V150.20H308.81zM13.00 149.80H18.25V155.20H13.00zM37.25 149.80H42.49V155.20H37.25zM56.64 149.80H66.74V155.20H56.64zM76.04 149.80H81.29V155.20H76.04zM95.44 149.80H100.69V155.20H95.44zM270.01 149.80H275.26V155.20H270.01zM313.65 149.80H318.90V155.20H313.65zM3.30 154.80H8.55V160.20H3.30zM22.70 154.80H27.95V160.20H22.70zM46.94 154.80H52.19V160.20H46.94zM114.83 154.80H120.08V160.20H114.83zM148.78 154.80H158.88V160.20H148.78zM168.18 154.80H173.43V160.20H168.18zM197.27 154.80H202.52V160.20H197.27zM318.50 154.80H323.75V160.20H318.50zM328.20 154.80H333.45V160.20H328.20zM42.09 159.80H47.34V165.20H42.09zM71.19 159.80H76.44V165.20H71.19zM124.53 159.80H129.78V165.20H124.53zM134.23 159.80H139.48V165.20H134.23zM168.18 159.80H173.43V165.20H168.18zM182.72 159.80H192.82V165.20H182.72zM202.12 159.80H212.22V165.20H202.12zM216.67 159.80H221.92V165.20H216.67zM240.92 159.80H246.16V165.20H240.92zM274.86 159.80H280.11V165.20H274.86zM289.41 159.80H294.66V165.20H289.41zM313.65 159.80H318.90V165.20H313.65zM323.35 159.80H333.45V165.20H323.35zM109.98 164.80H115.23V170.20H109.98zM158.48 164.80H173.43V170.20H158.48zM177.87 164.80H192.82V170.20H177.87zM197.27 164.80H217.07V170.20H197.27zM289.41 164.80H294.66V170.20H289.41zM313.65 164.80H348.00V170.20H313.65zM13.00 169.80H18.25V175.20H13.00zM95.44 169.80H100.69V175.20H95.44zM124.53 169.80H129.78V175.20H124.53zM148.78 169.80H154.03V175.20H148.78zM158.48 169.80H163.73V175.20H158.48zM177.87 169.80H187.97V175.20H177.87zM250.61 169.80H255.86V175.20H250.61zM270.01 169.80H275.26V175.20H270.01zM308.81 169.80H314.05V175.20H308.81zM27.55 174.80H32.80V180.20H27.55zM90.59 174.80H100.69V180.20H90.59zM114.83 174.80H120.08V180.20H114.83zM134.23 174.80H144.33V180.20H134.23zM168.18 174.80H173.43V180.20H168.18zM177.87 174.80H183.12V180.20H177.87zM187.57 174.80H192.82V180.20H187.57zM206.97 174.80H212.22V180.20H206.97zM231.22 174.80H236.47V180.20H231.22zM308.81 174.80H318.90V180.20H308.81z"/>
<path fill="#39a116" d="M109.98 134.80H115.23V140.20H109.98zM158.48 134.80H163.73V140.20H158.48zM177.87 134.80H183.12V140.20H177.87zM192.42 134.80H197.67V140.20H192.42zM260.31 134.80H284.96V140.20H260.31zM318.50 134.80H338.30V140.20H318.50zM22.70 139.80H27.95V145.20H22.70zM187.57 139.80H197.67V145.20H187.57zM250.61 139.80H255.86V145.20H250.61zM270.01 139.80H275.26V145.20H270.01zM279.71 139.80H284.96V145.20H279.71zM313.65 139.80H318.90V145.20H313.65zM323.35 139.80H328.60V145.20H323.35zM143.93 144.80H149.18V150.20H143.93zM177.87 144.80H183.12V150.20H177.87zM192.42 144.80H197.67V150.20H192.42zM216.67 144.80H221.92V150.20H216.67zM250.61 144.80H255.86V150.20H250.61zM270.01 144.80H275.26V150.20H270.01zM318.50 144.80H323.75V150.20H318.50zM333.05 144.80H338.30V150.20H333.05zM342.75 144.80H348.00V150.20H342.75zM17.85 149.80H23.10V155.20H17.85zM46.94 149.80H52.19V155.20H46.94zM124.53 149.80H129.78V155.20H124.53zM143.93 149.80H149.18V155.20H143.93zM163.33 149.80H168.58V155.20H163.33zM177.87 149.80H183.12V155.20H177.87zM211.82 149.80H217.07V155.20H211.82zM308.81 149.80H314.05V155.20H308.81zM333.05 149.80H338.30V155.20H333.05zM342.75 149.80H348.00V155.20H342.75zM71.19 154.80H76.44V160.20H71.19zM95.44 154.80H100.69V160.20H95.44zM163.33 154.80H168.58V160.20H163.33zM289.41 154.80H294.66V160.20H289.41zM173.03 159.80H178.27V165.20H173.03zM192.42 159.80H197.67V165.20H192.42zM245.76 159.80H251.01V165.20H245.76zM255.46 159.80H260.71V165.20H255.46zM318.50 159.80H323.75V165.20H318.50zM105.14 164.80H110.38V170.20H105.14zM240.92 164.80H251.01V170.20H240.92zM255.46 164.80H260.71V170.20H255.46zM17.85 169.80H23.10V175.20H17.85zM100.29 169.80H105.54V175.20H100.29zM143.93 169.80H149.18V175.20H143.93zM173.03 169.80H178.27V175.20H173.03zM187.57 169.80H192.82V175.20H187.57zM46.94 174.80H52.19V180.20H46.94z"/>
<path fill="#3e0606" d="M124.53 134.80H129.78V140.20H124.53zM66.34 139.80H71.59V145.20H66.34zM22.70 144.80H27.95V150.20H22.70zM56.64 144.80H61.89V150.20H56.64zM240.92 144.80H246.16V150.20H240.92zM22.70 149.80H27.95V155.20H22.70zM90.59 149.80H95.84V155.20H90.59zM114.83 149.80H120.08V155.20H114.83zM182.72 149.80H187.97V155.20H182.72zM226.37 149.80H231.62V155.20H226.37zM274.86 154.80H280.11V160.20H274.86zM129.38 159.80H134.63V165.20H129.38zM226.37 159.80H231.62V165.20H226.37zM270.01 159.80H275.26V165.20H270.01zM221.52 164.80H226.77V170.20H221.52zM333.05 169.80H338.30V175.20H333.05zM8.15 174.80H13.40V180.20H8.15zM143.93 174.80H149.18V180.20H143.93zM284.56 174.80H289.81V180.20H284.56zM333.05 174.80H338.30V180.20H333.05z"/>
<path fill="#19570a" d="M129.38 134.80H134.63V140.20H129.38zM250.61 134.80H260.71V140.20H250.61zM313.65 134.80H318.90V140.20H313.65zM90.59 139.80H95.84V145.20H90.59zM109.98 139.80H115.23V145.20H109.98zM124.53 139.80H129.78V145.20H124.53zM197.27 139.80H202.52V145.20H197.27zM245.76 139.80H251.01V145.20H245.76zM255.46 139.80H260.71V145.20H255.46zM318.50 139.80H323.75V145.20H318.50zM328.20 139.80H338.30V145.20H328.20zM37.25 144.80H42.49V150.20H37.25zM90.59 144.80H95.84V150.20H90.59zM109.98 144.80H115.23V150.20H109.98zM124.53 144.80H134.63V150.20H124.53zM158.48 144.80H163.73V150.20H158.48zM182.72 144.80H192.82V150.20H182.72zM197.27 144.80H202.52V150.20H197.27zM211.82 144.80H217.07V150.20H211.82zM245.76 144.80H251.01V150.20H245.76zM289.41 144.80H294.66V150.20H289.41zM313.65 144.80H318.90V150.20H313.65zM328.20 144.80H333.45V150.20H328.20zM42.09 149.80H47.34V155.20H42.09zM71.19 149.80H76.44V155.20H71.19zM109.98 149.80H115.23V155.20H109.98zM119.68 149.80H124.93V155.20H119.68zM139.08 149.80H144.33V155.20H139.08zM148.78 149.80H154.03V155.20H148.78zM187.57 149.80H192.82V155.20H187.57zM197.27 149.80H202.52V155.20H197.27zM216.67 149.80H221.92V155.20H216.67zM255.46 149.80H260.71V155.20H255.46zM265.16 149.80H270.41V155.20H265.16zM294.26 149.80H299.51V155.20H294.26zM100.29 154.80H105.54V160.20H100.29zM109.98 154.80H115.23V160.20H109.98zM124.53 154.80H129.78V160.20H124.53zM177.87 154.80H183.12V160.20H177.87zM211.82 154.80H221.92V160.20H211.82zM245.76 154.80H251.01V160.20H245.76zM270.01 154.80H275.26V160.20H270.01zM337.90 154.80H348.00V160.20H337.90zM109.98 159.80H115.23V165.20H109.98zM177.87 159.80H183.12V165.20H177.87zM197.27 159.80H202.52V165.20H197.27zM211.82 159.80H217.07V165.20H211.82zM221.52 159.80H226.77V165.20H221.52zM260.31 159.80H265.56V165.20H260.31zM284.56 159.80H289.81V165.20H284.56zM46.94 164.80H52.19V170.20H46.94zM100.29 164.80H105.54V170.20H100.29zM173.03 164.80H178.27V170.20H173.03zM192.42 164.80H197.67V170.20H192.42zM216.67 164.80H221.92V170.20H216.67zM236.07 164.80H241.32V170.20H236.07zM260.31 164.80H265.56V170.20H260.31zM274.86 164.80H289.81V170.20H274.86zM37.25 169.80H42.49V175.20H37.25zM90.59 169.80H95.84V175.20H90.59zM197.27 169.80H202.52V175.20H197.27zM260.31 169.80H265.56V175.20H260.31zM342.75 169.80H348.00V175.20H342.75zM71.19 174.80H76.44V180.20H71.19zM124.53 174.80H129.78V180.20H124.53zM182.72 174.80H187.97V180.20H182.72zM192.42 174.80H197.67V180.20H192.42zM250.61 174.80H255.86V180.20H250.61zM270.01 174.80H275.26V180.20H270.01zM318.50 174.80H323.75V180.20H318.50z"/>
<path fill="#123907" d="M240.92 134.80H246.16V140.20H240.92zM274.86 139.80H280.11V145.20H274.86zM231.22 144.80H236.47V150.20H231.22zM153.63 149.80H158.88V155.20H153.63zM231.22 149.80H236.47V155.20H231.22zM27.55 154.80H32.80V160.20H27.55zM61.49 154.80H66.74V160.20H61.49zM231.22 154.80H236.47V160.20H231.22zM260.31 154.80H265.56V160.20H260.31zM313.65 154.80H318.90V160.20H313.65zM95.44 159.80H100.69V165.20H95.44zM163.33 159.80H168.58V165.20H163.33zM124.53 164.80H129.78V170.20H124.53zM231.22 164.80H236.47V170.20H231.22zM250.61 164.80H255.86V170.20H250.61zM80.89 169.80H86.14V175.20H80.89zM105.14 169.80H110.38V175.20H105.14zM129.38 169.80H134.63V175.20H129.38zM119.68 174.80H124.93V180.20H119.68zM129.38 174.80H134.63V180.20H129.38zM158.48 174.80H163.73V180.20H158.48z"/>
<path fill="#2c0606" d="M245.76 134.80H251.01V140.20H245.76zM85.74 139.80H90.99V145.20H85.74zM240.92 139.80H246.16V145.20H240.92zM260.31 139.80H265.56V145.20H260.31zM27.55 149.80H32.80V155.20H27.55zM66.34 149.80H71.59V155.20H66.34zM318.50 149.80H323.75V155.20H318.50zM119.68 154.80H124.93V160.20H119.68zM202.12 154.80H207.37V160.20H202.12zM250.61 154.80H255.86V160.20H250.61zM158.48 159.80H163.73V165.20H158.48zM231.22 159.80H236.47V165.20H231.22zM337.90 159.80H343.15V165.20H337.90zM71.19 164.80H76.44V170.20H71.19zM95.44 164.80H100.69V170.20H95.44zM129.38 164.80H134.63V170.20H129.38zM270.01 164.80H275.26V170.20H270.01zM294.26 164.80H299.51V170.20H294.26zM8.15 169.80H13.40V175.20H8.15zM153.63 169.80H158.88V175.20H153.63z"/>
<path fill="#102a06" d="M105.14 144.80H110.38V150.20H105.14zM80.89 149.80H86.14V155.20H80.89zM236.07 149.80H241.32V155.20H236.07zM337.90 149.80H343.15V155.20H337.90zM158.48 154.80H163.73V160.20H158.48zM100.29 159.80H105.54V165.20H100.29zM250.61 159.80H255.86V165.20H250.61zM56.64 164.80H61.89V170.20H56.64zM80.89 164.80H86.14V170.20H80.89zM109.98 169.80H115.23V175.20H109.98zM240.92 169.80H246.16V175.20H240.92zM289.41 169.80H294.66V175.20H289.41zM3.30 174.80H8.55V180.20H3.30zM76.04 174.80H81.29V180.20H76.04zM163.33 174.80H168.58V180.20H163.33zM245.76 174.80H251.01V180.20H245.76z"/>
</g>
<text x="4.80" y="190.80" font-size="5.40" font-weight="bold" fill="#111" stroke="#111" stroke-width="0.1">MLL/t(11q23)</text>
<text x="59.50" y="190.80" font-size="5.40" font-weight="bold" fill="#111" stroke="#111" stroke-width="0.1">-7/7q</text>
<text x="98.60" y="190.80" font-size="5.40" font-weight="bold" fill="#111" stroke="#111" stroke-width="0.1">+8</text>
<text x="116.00" y="190.80" font-size="5.20" font-weight="bold" fill="#111" stroke="#111" stroke-width="0.1">Complex</text>
<text x="144.60" y="190.80" font-size="5.20" font-weight="bold" fill="#111" stroke="#111" stroke-width="0.1">Other</text>
<text x="177.00" y="190.80" font-size="5.50" font-weight="bold" fill="#111" stroke="#111" stroke-width="0.1">t(15;17)</text>
<text x="247.00" y="190.80" font-size="5.90" font-weight="bold" fill="#111" stroke="#111" stroke-width="0.1">inv(16)</text>
<text x="315.80" y="190.80" font-size="5.70" font-weight="bold" fill="#111" stroke="#111" stroke-width="0.1">t(8;21)</text>
<text x="393.10" y="115.10" font-size="5.40" font-weight="bold" fill="#111" text-anchor="middle" stroke="#111" stroke-width="0.12">Expression correlation</text>
<text x="393.90" y="122.10" font-size="5.4" font-weight="bold" fill="#111" stroke="#111" stroke-width="0.12" text-anchor="middle">with <tspan font-style="italic">HOXA9</tspan></text>
<rect x="372.70" y="125.10" width="44.30" height="0.70" fill="#222"/>
<text x="355.20" y="132.20" font-size="5.40" font-weight="bold" fill="#111" stroke="#111" stroke-width="0.12">Gene</text>
<text x="381.50" y="132.20" font-size="7.40" font-weight="bold" fill="#111" font-style="italic" stroke="#111" stroke-width="0.3">r</text>
<text x="407.40" y="132.60" font-size="6.20" font-weight="bold" fill="#111" font-style="italic" stroke="#111" stroke-width="0.2">P</text>
<text x="354.50" y="139.70" font-size="5.30" font-weight="normal" fill="#585858" font-family="Liberation Mono, monospace">HOXA9</text>
<text x="380.90" y="139.70" font-size="5.30" font-weight="normal" fill="#585858" font-family="Liberation Mono, monospace">-</text>
<text x="404.10" y="140.00" font-size="5.30" font-weight="normal" fill="#585858" font-family="Liberation Mono, monospace">-</text>
<text x="354.50" y="144.90" font-size="5.30" font-weight="normal" fill="#585858" font-family="Liberation Mono, monospace">HOXA7</text>
<text x="380.90" y="144.90" font-size="5.30" font-weight="normal" fill="#585858" font-family="Liberation Mono, monospace">0.72</text>
<text x="404.10" y="145.20" font-size="5.30" font-weight="normal" fill="#585858" font-family="Liberation Mono, monospace">&lt;0.0001</text>
<text x="354.50" y="150.10" font-size="5.30" font-weight="normal" fill="#585858" font-family="Liberation Mono, monospace">HOXA11</text>
<text x="380.90" y="150.10" font-size="5.30" font-weight="normal" fill="#585858" font-family="Liberation Mono, monospace">0.55</text>
<text x="404.10" y="150.40" font-size="5.30" font-weight="normal" fill="#585858" font-family="Liberation Mono, monospace">&lt;0.0001</text>
<text x="354.50" y="155.30" font-size="5.30" font-weight="normal" fill="#585858" font-family="Liberation Mono, monospace">PBX1</text>
<text x="380.90" y="155.30" font-size="5.30" font-weight="normal" fill="#585858" font-family="Liberation Mono, monospace">-0.16</text>
<text x="404.10" y="155.60" font-size="5.30" font-weight="normal" fill="#585858" font-family="Liberation Mono, monospace">0.22</text>
<text x="354.50" y="160.50" font-size="5.30" font-weight="normal" fill="#585858" font-family="Liberation Mono, monospace">PBX2</text>
<text x="380.90" y="160.50" font-size="5.30" font-weight="normal" fill="#585858" font-family="Liberation Mono, monospace">-0.17</text>
<text x="404.10" y="160.80" font-size="5.30" font-weight="normal" fill="#585858" font-family="Liberation Mono, monospace">0.21</text>
<text x="354.50" y="165.70" font-size="5.30" font-weight="normal" fill="#585858" font-family="Liberation Mono, monospace">PBX3</text>
<text x="380.90" y="165.70" font-size="5.30" font-weight="normal" fill="#585858" font-family="Liberation Mono, monospace">0.65</text>
<text x="404.10" y="166.00" font-size="5.30" font-weight="normal" fill="#585858" font-family="Liberation Mono, monospace">&lt;0.0001</text>
<text x="354.50" y="170.90" font-size="5.30" font-weight="normal" fill="#585858" font-family="Liberation Mono, monospace">MEIS1</text>
<text x="380.90" y="170.90" font-size="5.30" font-weight="normal" fill="#585858" font-family="Liberation Mono, monospace">0.72</text>
<text x="404.10" y="171.20" font-size="5.30" font-weight="normal" fill="#585858" font-family="Liberation Mono, monospace">&lt;0.0001</text>
<text x="354.50" y="176.10" font-size="5.30" font-weight="normal" fill="#585858" font-family="Liberation Mono, monospace">MEIS2</text>
<text x="380.90" y="176.10" font-size="5.30" font-weight="normal" fill="#585858" font-family="Liberation Mono, monospace">-0.14</text>
<text x="404.10" y="176.40" font-size="5.30" font-weight="normal" fill="#585858" font-family="Liberation Mono, monospace">0.29</text>
<text x="354.50" y="181.30" font-size="5.30" font-weight="normal" fill="#585858" font-family="Liberation Mono, monospace">MEIS3</text>
<text x="380.90" y="181.30" font-size="5.30" font-weight="normal" fill="#585858" font-family="Liberation Mono, monospace">-0.13</text>
<text x="404.10" y="181.60" font-size="5.30" font-weight="normal" fill="#585858" font-family="Liberation Mono, monospace">0.36</text>
<text x="0.40" y="202.30" font-size="11.20" font-weight="bold" fill="#111" stroke="#111" stroke-width="0.25">C</text>
<text x="54.30" y="204.10" font-size="7.25" font-weight="bold" fill="#111">Netherlands-Set (n=271)</text>
<rect x="3.00" y="207.50" width="26.00" height="3.00" fill="#ececec"/>
<rect x="29.00" y="204.50" width="14.00" height="6.00" fill="#ececec"/>
<rect x="43.00" y="207.00" width="109.00" height="3.50" fill="#ececec"/>
<rect x="152.00" y="203.00" width="22.00" height="7.50" fill="#ececec"/>
<rect x="174.00" y="207.00" width="117.00" height="3.50" fill="#ececec"/>
<rect x="291.00" y="202.60" width="29.00" height="7.90" fill="#ececec"/>
<rect x="320.00" y="206.00" width="121.20" height="4.50" fill="#ececec"/>
<g filter="url(#bl)">
<path fill="#f00a0a" d="M2.90 210.50H37.25V216.00H2.90zM2.90 215.60H14.62V221.10H2.90zM15.83 215.60H21.08V221.10H15.83zM22.30 215.60H27.55V221.10H22.30zM28.77 215.60H30.78V221.10H28.77zM40.08 215.60H46.95V221.10H40.08zM48.16 215.60H50.18V221.10H48.16zM51.40 215.60H53.41V221.10H51.40zM72.41 215.60H74.43V221.10H72.41zM75.65 215.60H79.28V221.10H75.65zM82.11 215.60H87.36V221.10H82.11zM101.51 215.60H111.61V221.10H101.51zM112.83 215.60H114.85V221.10H112.83zM116.06 215.60H118.08V221.10H116.06zM119.30 215.60H121.31V221.10H119.30zM124.15 215.60H126.16V221.10H124.15zM127.38 215.60H131.01V221.10H127.38zM132.23 215.60H134.25V221.10H132.23zM135.46 215.60H137.48V221.10H135.46zM154.86 215.60H161.73V221.10H154.86zM162.94 215.60H166.58V221.10H162.94zM174.26 215.60H189.21V221.10H174.26zM190.43 215.60H197.29V221.10H190.43zM200.13 215.60H202.14V221.10H200.13zM206.59 215.60H208.61V221.10H206.59zM209.83 215.60H215.08V221.10H209.83zM216.29 215.60H228.01V221.10H216.29zM229.22 215.60H231.24V221.10H229.22zM232.46 215.60H245.79V221.10H232.46zM247.01 215.60H249.02V221.10H247.01zM253.47 215.60H255.49V221.10H253.47zM124.15 220.70H126.16V226.20H124.15zM51.40 225.80H53.41V231.30H51.40zM57.86 225.80H59.88V231.30H57.86zM64.33 225.80H66.35V231.30H64.33zM74.03 225.80H76.05V231.30H74.03zM77.26 225.80H79.28V231.30H77.26zM116.06 225.80H118.08V231.30H116.06zM211.44 225.80H213.46V231.30H211.44zM46.55 230.90H48.56V236.40H46.55zM61.10 230.90H63.11V236.40H61.10zM85.35 230.90H87.36V236.40H85.35zM95.05 230.90H97.06V236.40H95.05zM145.16 230.90H150.41V236.40H145.16zM259.94 230.90H261.96V236.40H259.94zM277.72 230.90H279.74V236.40H277.72zM293.89 230.90H295.91V236.40H293.89zM303.59 230.90H305.61V236.40H303.59zM311.67 230.90H313.69V236.40H311.67zM403.82 230.90H405.83V236.40H403.82zM426.45 230.90H428.47V236.40H426.45zM429.68 230.90H431.70V236.40H429.68zM434.53 230.90H436.55V236.40H434.53zM2.90 236.00H6.53V241.50H2.90zM9.37 236.00H14.62V241.50H9.37zM19.07 236.00H22.70V241.50H19.07zM23.92 236.00H25.93V241.50H23.92zM27.15 236.00H30.78V241.50H27.15zM32.00 236.00H43.72V241.50H32.00zM44.93 236.00H46.95V241.50H44.93zM48.16 236.00H53.41V241.50H48.16zM72.41 236.00H79.28V241.50H72.41zM80.50 236.00H90.60V241.50H80.50zM101.51 236.00H105.15V241.50H101.51zM106.36 236.00H108.38V241.50H106.36zM111.21 236.00H119.70V241.50H111.21zM120.91 236.00H124.55V241.50H120.91zM125.76 236.00H127.78V241.50H125.76zM129.00 236.00H131.01V241.50H129.00zM132.23 236.00H134.25V241.50H132.23zM154.86 236.00H163.34V241.50H154.86zM164.56 236.00H166.58V241.50H164.56zM174.26 236.00H179.51V241.50H174.26zM180.73 236.00H182.74V241.50H180.73zM183.96 236.00H185.98V241.50H183.96zM187.19 236.00H189.21V241.50H187.19zM190.43 236.00H192.44V241.50H190.43zM196.89 236.00H198.91V241.50H196.89zM200.13 236.00H202.14V241.50H200.13zM203.36 236.00H216.69V241.50H203.36zM217.91 236.00H224.77V241.50H217.91zM229.22 236.00H231.24V241.50H229.22zM234.07 236.00H242.56V241.50H234.07zM245.39 236.00H247.41V241.50H245.39zM248.62 236.00H250.64V241.50H248.62zM350.47 236.00H352.49V241.50H350.47zM6.13 241.10H8.15V246.60H6.13zM10.98 241.10H13.00V246.60H10.98zM14.22 241.10H16.23V246.60H14.22zM23.92 241.10H25.93V246.60H23.92zM27.15 241.10H40.48V246.60H27.15zM41.70 241.10H46.95V246.60H41.70zM48.16 241.10H50.18V246.60H48.16zM51.40 241.10H53.41V246.60H51.40zM54.63 241.10H56.65V246.60H54.63zM74.03 241.10H80.90V246.60H74.03zM82.11 241.10H88.98V246.60H82.11zM90.20 241.10H92.21V246.60H90.20zM101.51 241.10H103.53V246.60H101.51zM109.60 241.10H113.23V246.60H109.60zM116.06 241.10H121.31V246.60H116.06zM122.53 241.10H129.40V246.60H122.53zM130.61 241.10H132.63V246.60H130.61zM135.46 241.10H137.48V246.60H135.46zM153.24 241.10H163.34V246.60H153.24zM164.56 241.10H166.58V246.60H164.56zM174.26 241.10H176.28V246.60H174.26zM179.11 241.10H181.13V246.60H179.11zM183.96 241.10H187.59V246.60H183.96zM192.04 241.10H200.53V246.60H192.04zM203.36 241.10H205.38V246.60H203.36zM216.29 241.10H219.93V246.60H216.29zM221.14 241.10H231.24V246.60H221.14zM234.07 241.10H237.71V246.60H234.07zM238.92 241.10H242.56V246.60H238.92zM243.77 241.10H245.79V246.60H243.77zM247.01 241.10H249.02V246.60H247.01zM373.10 246.20H375.12V251.70H373.10zM429.68 246.20H431.70V251.70H429.68zM130.61 251.30H132.63V256.80H130.61zM245.39 251.30H247.41V256.80H245.39zM264.79 251.30H266.81V256.80H264.79zM290.66 251.30H292.67V256.80H290.66zM298.74 251.30H300.76V256.80H298.74zM306.82 251.30H308.84V256.80H306.82zM313.29 251.30H315.30V256.80H313.29zM318.14 251.30H320.15V256.80H318.14zM322.99 251.30H325.00V256.80H322.99zM337.54 251.30H339.55V256.80H337.54zM342.39 251.30H344.40V256.80H342.39zM356.94 251.30H358.95V256.80H356.94zM371.49 251.30H373.50V256.80H371.49zM379.57 251.30H381.59V256.80H379.57z"/>
<path fill="#ed0909" d="M36.85 210.50H38.87V216.00H36.85zM44.93 210.50H46.95V216.00H44.93zM187.19 210.50H194.06V216.00H187.19zM30.38 215.60H32.40V221.10H30.38zM201.74 215.60H203.76V221.10H201.74zM91.81 230.90H93.83V236.40H91.81zM19.07 241.10H21.08V246.60H19.07zM40.08 241.10H42.10V246.60H40.08zM190.43 241.10H192.44V246.60H190.43z"/>
<path fill="#e90909" d="M38.47 210.50H40.48V216.00H38.47zM75.65 210.50H77.66V216.00H75.65zM154.86 210.50H156.88V216.00H154.86zM211.44 210.50H218.31V216.00H211.44zM35.23 215.60H37.25V221.10H35.23zM182.34 251.30H184.36V256.80H182.34z"/>
<path fill="#e40909" d="M40.08 210.50H42.10V216.00H40.08zM78.88 210.50H80.90V216.00H78.88zM86.96 215.60H88.98V221.10H86.96zM204.98 215.60H206.99V221.10H204.98zM245.39 215.60H247.41V221.10H245.39zM311.67 251.30H313.69V256.80H311.67z"/>
<path fill="#e00909" d="M41.70 210.50H43.72V216.00H41.70zM120.91 210.50H122.93V216.00H120.91zM161.33 210.50H163.34V216.00H161.33zM27.15 215.60H29.17V221.10H27.15zM290.66 225.80H292.67V231.30H290.66zM321.37 230.90H323.39V236.40H321.37zM17.45 236.00H19.47V241.50H17.45zM140.31 236.00H142.33V241.50H140.31zM2.90 241.10H4.92V246.60H2.90z"/>
<path fill="#dc0909" d="M43.32 210.50H45.33V216.00H43.32zM125.76 210.50H127.78V216.00H125.76zM109.60 225.80H111.61V231.30H109.60zM408.67 246.20H410.68V251.70H408.67z"/>
<path fill="#e80909" d="M46.55 210.50H48.56V216.00H46.55zM109.60 210.50H111.61V216.00H109.60zM217.91 210.50H224.77V216.00H217.91zM74.03 215.60H76.05V221.10H74.03zM138.69 241.10H140.71V246.60H138.69zM355.32 246.20H357.34V251.70H355.32z"/>
<path fill="#e20909" d="M48.16 210.50H50.18V216.00H48.16zM80.50 210.50H82.51V216.00H80.50zM117.68 210.50H119.70V216.00H117.68zM159.71 210.50H161.73V216.00H159.71z"/>
<path fill="#dd0909" d="M49.78 210.50H51.80V216.00H49.78zM83.73 210.50H85.75V216.00H83.73zM124.15 210.50H126.16V216.00H124.15zM162.94 210.50H164.96V216.00H162.94zM243.77 210.50H245.79V216.00H243.77zM166.18 236.00H168.19V241.50H166.18zM12.60 241.10H14.62V246.60H12.60zM104.75 241.10H106.76V246.60H104.75z"/>
<path fill="#ce0909" d="M51.40 210.50H53.41V216.00H51.40zM49.78 215.60H51.80V221.10H49.78zM53.01 236.00H55.03V241.50H53.01zM182.34 241.10H184.36V246.60H182.34zM222.76 251.30H224.77V256.80H222.76z"/>
<path fill="#a30808" d="M53.01 210.50H55.03V216.00H53.01zM137.08 215.60H139.09V221.10H137.08zM120.91 225.80H122.93V231.30H120.91zM308.44 225.80H310.45V231.30H308.44zM230.84 230.90H232.86V236.40H230.84zM347.24 230.90H349.25V236.40H347.24zM120.91 241.10H122.93V246.60H120.91zM62.71 251.30H64.73V256.80H62.71z"/>
<path fill="#770707" d="M54.63 210.50H56.65V216.00H54.63zM356.94 236.00H358.95V241.50H356.94zM381.19 246.20H383.20V251.70H381.19z"/>
<path fill="#460606" d="M56.25 210.50H58.26V216.00H56.25z"/>
<path fill="#120606" d="M57.86 210.50H59.88V216.00H57.86zM169.41 210.50H171.43V216.00H169.41z"/>
<path fill="#0f2106" d="M59.48 210.50H61.50V216.00H59.48zM274.49 220.70H276.51V226.20H274.49zM61.10 246.20H63.11V251.70H61.10zM366.64 251.30H368.65V256.80H366.64z"/>
<path fill="#123a07" d="M61.10 210.50H63.11V216.00H61.10zM22.30 225.80H24.32V231.30H22.30zM140.31 230.90H142.33V236.40H140.31zM366.64 230.90H368.65V236.40H366.64z"/>
<path fill="#18540a" d="M62.71 210.50H64.73V216.00H62.71zM329.45 210.50H331.47V216.00H329.45zM10.98 220.70H13.00V226.20H10.98zM424.83 251.30H426.85V256.80H424.83z"/>
<path fill="#287e10" d="M64.33 210.50H66.35V216.00H64.33zM331.07 215.60H333.09V221.10H331.07zM376.34 215.60H378.35V221.10H376.34zM345.62 220.70H347.64V226.20H345.62zM318.14 246.20H320.15V251.70H318.14zM145.16 251.30H147.18V256.80H145.16z"/>
<path fill="#45b31b" d="M65.95 210.50H67.96V216.00H65.95zM407.05 225.80H409.07V231.30H407.05zM88.58 230.90H90.60V236.40H88.58zM348.85 241.10H350.87V246.60H348.85zM227.61 246.20H229.62V251.70H227.61zM423.22 251.30H425.23V256.80H423.22z"/>
<path fill="#6ae629" d="M67.56 210.50H69.58V216.00H67.56zM146.78 210.50H148.79V216.00H146.78zM264.79 210.50H266.81V216.00H264.79zM269.64 215.60H271.66V221.10H269.64zM326.22 215.60H328.24V221.10H326.22zM56.25 225.80H58.26V231.30H56.25zM151.63 225.80H153.64V231.30H151.63zM263.17 236.00H265.19V241.50H263.17zM363.40 236.00H365.42V241.50H363.40zM82.11 246.20H84.13V251.70H82.11z"/>
<path fill="#72f02c" d="M69.18 210.50H71.20V216.00H69.18zM148.39 210.50H150.41V216.00H148.39zM274.49 210.50H276.51V216.00H274.49zM410.28 225.80H412.30V231.30H410.28z"/>
<path fill="#7bfa30" d="M70.80 210.50H72.81V216.00H70.80zM150.01 210.50H152.03V216.00H150.01zM314.90 241.10H316.92V246.60H314.90z"/>
<path fill="#ee0909" d="M72.41 210.50H74.43V216.00H72.41zM103.13 210.50H105.15V216.00H103.13zM151.63 210.50H153.64V216.00H151.63zM180.73 210.50H187.59V216.00H180.73zM313.29 225.80H315.30V231.30H313.29zM193.66 236.00H195.68V241.50H193.66z"/>
<path fill="#ec0909" d="M74.03 210.50H76.05V216.00H74.03zM104.75 210.50H106.76V216.00H104.75zM153.24 210.50H155.26V216.00H153.24zM193.66 210.50H200.53V216.00H193.66zM188.81 215.60H190.83V221.10H188.81zM392.50 230.90H394.52V236.40H392.50zM177.49 241.10H179.51V246.60H177.49z"/>
<path fill="#e70909" d="M77.26 210.50H79.28V216.00H77.26zM111.21 210.50H113.23V216.00H111.21zM156.48 210.50H158.49V216.00H156.48zM224.37 210.50H231.24V216.00H224.37zM15.83 236.00H17.85V241.50H15.83zM167.79 236.00H169.81V241.50H167.79z"/>
<path fill="#df0909" d="M82.11 210.50H84.13V216.00H82.11zM7.75 236.00H9.77V241.50H7.75zM25.53 236.00H27.55V241.50H25.53z"/>
<path fill="#db0909" d="M85.35 210.50H87.36V216.00H85.35zM164.56 210.50H166.58V216.00H164.56zM46.55 236.00H48.56V241.50H46.55z"/>
<path fill="#c00909" d="M86.96 210.50H88.98V216.00H86.96zM41.70 230.90H43.72V236.40H41.70zM99.90 230.90H101.91V236.40H99.90z"/>
<path fill="#8c0808" d="M88.58 210.50H90.60V216.00H88.58zM398.97 230.90H400.98V236.40H398.97z"/>
<path fill="#550707" d="M90.20 210.50H92.21V216.00H90.20zM227.61 220.70H229.62V226.20H227.61zM224.37 225.80H226.39V231.30H224.37zM51.40 230.90H53.41V236.40H51.40z"/>
<path fill="#180606" d="M91.81 210.50H93.83V216.00H91.81zM82.11 220.70H84.13V226.20H82.11zM132.23 246.20H134.25V251.70H132.23z"/>
<path fill="#339514" d="M93.43 210.50H95.45V216.00H93.43zM158.09 220.70H160.11V226.20H158.09zM358.55 220.70H360.57V226.20H358.55zM182.34 230.90H184.36V236.40H182.34zM259.94 236.00H261.96V241.50H259.94zM86.96 246.20H88.98V251.70H86.96zM99.90 246.20H101.91V251.70H99.90zM432.92 251.30H434.93V256.80H432.92z"/>
<path fill="#5cd524" d="M95.05 210.50H97.06V216.00H95.05zM93.43 215.60H95.45V221.10H93.43zM64.33 251.30H66.35V256.80H64.33z"/>
<path fill="#66e128" d="M96.66 210.50H98.68V216.00H96.66zM407.05 210.50H409.07V216.00H407.05zM242.16 225.80H244.17V231.30H242.16zM303.59 241.10H305.61V246.60H303.59zM211.44 246.20H213.46V251.70H211.44zM407.05 251.30H409.07V256.80H407.05z"/>
<path fill="#70ed2b" d="M98.28 210.50H100.30V216.00H98.28zM271.26 210.50H273.27V216.00H271.26zM419.98 210.50H422.00V216.00H419.98zM234.07 225.80H236.09V231.30H234.07z"/>
<path fill="#7af92f" d="M99.90 210.50H101.91V216.00H99.90zM107.98 220.70H110.00V226.20H107.98zM53.01 246.20H55.03V251.70H53.01zM361.79 246.20H363.80V251.70H361.79z"/>
<path fill="#ef0909" d="M101.51 210.50H103.53V216.00H101.51zM174.26 210.50H181.13V216.00H174.26zM419.98 230.90H422.00V236.40H419.98zM6.13 236.00H8.15V241.50H6.13zM9.37 241.10H11.38V246.60H9.37zM17.45 241.10H19.47V246.60H17.45zM20.68 241.10H24.32V246.60H20.68z"/>
<path fill="#eb0909" d="M106.36 210.50H108.38V216.00H106.36zM200.13 210.50H205.38V216.00H200.13zM130.61 236.00H132.63V241.50H130.61zM4.52 241.10H6.53V246.60H4.52zM7.75 241.10H9.77V246.60H7.75z"/>
<path fill="#ea0909" d="M107.98 210.50H110.00V216.00H107.98zM204.98 210.50H211.84V216.00H204.98zM151.63 215.60H153.64V221.10H151.63zM38.47 225.80H40.48V231.30H38.47zM25.53 241.10H27.55V246.60H25.53zM49.78 241.10H51.80V246.60H49.78zM187.19 241.10H189.21V246.60H187.19zM331.07 251.30H333.09V256.80H331.07z"/>
<path fill="#e60909" d="M112.83 210.50H114.85V216.00H112.83zM230.84 210.50H237.71V216.00H230.84zM264.79 230.90H266.81V236.40H264.79zM179.11 236.00H181.13V241.50H179.11z"/>
<path fill="#e50909" d="M114.45 210.50H116.46V216.00H114.45zM158.09 210.50H160.11V216.00H158.09zM237.31 210.50H244.17V216.00H237.31zM64.33 230.90H66.35V236.40H64.33zM192.04 236.00H194.06V241.50H192.04zM363.40 251.30H365.42V256.80H363.40z"/>
<path fill="#e30909" d="M116.06 210.50H118.08V216.00H116.06zM22.30 236.00H24.32V241.50H22.30zM127.38 236.00H129.40V241.50H127.38zM133.85 241.10H135.86V246.60H133.85z"/>
<path fill="#e10909" d="M119.30 210.50H121.31V216.00H119.30zM217.91 220.70H219.93V226.20H217.91zM30.38 236.00H32.40V241.50H30.38zM227.61 236.00H229.62V241.50H227.61zM15.83 241.10H17.85V246.60H15.83zM365.02 241.10H367.04V246.60H365.02z"/>
<path fill="#de0909" d="M122.53 210.50H124.55V216.00H122.53zM80.50 215.60H82.51V221.10H80.50z"/>
<path fill="#da0909" d="M127.38 210.50H129.40V216.00H127.38z"/>
<path fill="#d60909" d="M129.00 210.50H131.01V216.00H129.00zM46.55 215.60H48.56V221.10H46.55zM54.63 220.70H56.65V226.20H54.63zM106.36 241.10H108.38V246.60H106.36zM272.87 251.30H274.89V256.80H272.87zM292.27 251.30H294.29V256.80H292.27z"/>
<path fill="#c20909" d="M130.61 210.50H132.63V216.00H130.61zM408.67 230.90H410.68V236.40H408.67zM114.45 241.10H116.46V246.60H114.45zM390.89 246.20H392.90V251.70H390.89z"/>
<path fill="#ae0808" d="M132.23 210.50H134.25V216.00H132.23zM49.78 225.80H51.80V231.30H49.78zM109.60 236.00H111.61V241.50H109.60zM431.30 246.20H433.32V251.70H431.30zM201.74 251.30H203.76V256.80H201.74z"/>
<path fill="#990808" d="M133.85 210.50H135.86V216.00H133.85zM232.46 241.10H234.47V246.60H232.46zM154.86 251.30H156.88V256.80H154.86z"/>
<path fill="#850808" d="M135.46 210.50H137.48V216.00H135.46zM238.92 220.70H240.94V226.20H238.92z"/>
<path fill="#640707" d="M137.08 210.50H139.09V216.00H137.08zM25.53 225.80H27.55V231.30H25.53z"/>
<path fill="#400606" d="M138.69 210.50H140.71V216.00H138.69zM54.63 215.60H56.65V221.10H54.63zM216.29 251.30H218.31V256.80H216.29z"/>
<path fill="#1c0606" d="M140.31 210.50H142.33V216.00H140.31z"/>
<path fill="#25770e" d="M141.93 210.50H143.94V216.00H141.93zM394.12 215.60H396.14V221.10H394.12zM376.34 220.70H378.35V226.20H376.34zM30.38 230.90H32.40V236.40H30.38z"/>
<path fill="#5ad223" d="M143.54 210.50H145.56V216.00H143.54zM389.27 215.60H391.29V221.10H389.27zM93.43 241.10H95.45V246.60H93.43z"/>
<path fill="#62dc26" d="M145.16 210.50H147.18V216.00H145.16zM408.67 236.00H410.68V241.50H408.67zM419.98 236.00H422.00V241.50H419.98zM279.34 241.10H281.36V246.60H279.34zM361.79 241.10H363.80V246.60H361.79z"/>
<path fill="#bc0909" d="M166.18 210.50H168.19V216.00H166.18zM198.51 215.60H200.53V221.10H198.51zM310.05 225.80H312.07V231.30H310.05zM243.77 236.00H245.79V241.50H243.77zM201.74 241.10H203.76V246.60H201.74zM384.42 246.20H386.44V251.70H384.42zM402.20 246.20H404.22V251.70H402.20z"/>
<path fill="#730707" d="M167.79 210.50H169.81V216.00H167.79zM85.35 220.70H87.36V226.20H85.35zM387.65 230.90H389.67V236.40H387.65z"/>
<path fill="#1d630c" d="M171.03 210.50H173.04V216.00H171.03zM426.45 215.60H428.47V221.10H426.45zM424.83 220.70H426.85V226.20H424.83zM135.46 246.20H137.48V251.70H135.46z"/>
<path fill="#3faa19" d="M172.64 210.50H174.66V216.00H172.64zM196.89 225.80H198.91V231.30H196.89zM7.75 246.20H9.77V251.70H7.75zM300.36 246.20H302.37V251.70H300.36z"/>
<path fill="#c60909" d="M245.39 210.50H247.41V216.00H245.39zM85.35 225.80H87.36V231.30H85.35zM230.84 241.10H232.86V246.60H230.84z"/>
<path fill="#af0808" d="M247.01 210.50H249.02V216.00H247.01zM167.79 215.60H169.81V221.10H167.79zM6.13 230.90H8.15V236.40H6.13zM40.08 251.30H42.10V256.80H40.08z"/>
<path fill="#980808" d="M248.62 210.50H250.64V216.00H248.62zM214.68 215.60H216.69V221.10H214.68z"/>
<path fill="#810808" d="M250.24 210.50H252.26V216.00H250.24zM259.94 220.70H261.96V226.20H259.94zM54.63 225.80H56.65V231.30H54.63zM95.05 225.80H97.06V231.30H95.05zM374.72 246.20H376.74V251.70H374.72zM327.84 251.30H329.85V256.80H327.84z"/>
<path fill="#620707" d="M251.86 210.50H253.87V216.00H251.86zM129.00 225.80H131.01V231.30H129.00zM297.12 225.80H299.14V231.30H297.12zM368.25 246.20H370.27V251.70H368.25zM389.27 251.30H391.29V256.80H389.27z"/>
<path fill="#430606" d="M253.47 210.50H255.49V216.00H253.47zM159.71 225.80H161.73V231.30H159.71z"/>
<path fill="#260606" d="M255.09 210.50H257.11V216.00H255.09zM166.18 220.70H168.19V226.20H166.18zM242.16 220.70H244.17V226.20H242.16zM439.38 220.70H441.40V226.20H439.38zM287.42 225.80H289.44V231.30H287.42zM334.30 246.20H336.32V251.70H334.30z"/>
<path fill="#0e0806" d="M256.71 210.50H258.72V216.00H256.71z"/>
<path fill="#0f1f06" d="M258.32 210.50H260.34V216.00H258.32zM428.07 220.70H430.08V226.20H428.07z"/>
<path fill="#113607" d="M259.94 210.50H261.96V216.00H259.94zM402.20 220.70H404.22V226.20H402.20z"/>
<path fill="#164d09" d="M261.56 210.50H263.57V216.00H261.56zM261.56 220.70H263.57V226.20H261.56zM432.92 220.70H434.93V226.20H432.92zM279.34 230.90H281.36V236.40H279.34z"/>
<path fill="#3aa217" d="M263.17 210.50H265.19V216.00H263.17zM282.57 220.70H284.59V226.20H282.57zM413.52 225.80H415.53V231.30H413.52zM374.72 230.90H376.74V236.40H374.72zM99.90 251.30H101.91V256.80H99.90zM129.00 251.30H131.01V256.80H129.00zM235.69 251.30H237.71V256.80H235.69z"/>
<path fill="#6ce82a" d="M266.41 210.50H268.42V216.00H266.41zM415.13 210.50H417.15V216.00H415.13zM287.42 241.10H289.44V246.60H287.42zM46.55 246.20H48.56V251.70H46.55z"/>
<path fill="#6de92a" d="M268.02 210.50H270.04V216.00H268.02zM238.92 225.80H240.94V231.30H238.92zM20.68 251.30H22.70V256.80H20.68z"/>
<path fill="#6eeb2b" d="M269.64 210.50H271.66V216.00H269.64zM418.37 210.50H420.38V216.00H418.37zM124.15 225.80H126.16V231.30H124.15zM423.22 225.80H425.23V231.30H423.22zM129.00 230.90H131.01V236.40H129.00zM387.65 236.00H389.67V241.50H387.65z"/>
<path fill="#71ee2c" d="M272.87 210.50H274.89V216.00H272.87zM421.60 210.50H423.62V216.00H421.60zM255.09 230.90H257.11V236.40H255.09zM303.59 236.00H305.61V241.50H303.59zM416.75 236.00H418.77V241.50H416.75z"/>
<path fill="#74f12d" d="M276.11 210.50H278.12V216.00H276.11zM190.43 225.80H192.44V231.30H190.43z"/>
<path fill="#75f32d" d="M277.72 210.50H279.74V216.00H277.72zM310.05 215.60H312.07V221.10H310.05zM179.11 251.30H181.13V256.80H179.11z"/>
<path fill="#76f42e" d="M279.34 210.50H281.36V216.00H279.34zM428.07 210.50H430.08V216.00H428.07zM276.11 225.80H278.12V231.30H276.11zM95.05 241.10H97.06V246.60H95.05zM280.96 241.10H282.97V246.60H280.96zM381.19 241.10H383.20V246.60H381.19z"/>
<path fill="#78f62e" d="M280.96 210.50H282.97V216.00H280.96zM384.42 241.10H386.44V246.60H384.42z"/>
<path fill="#79f72f" d="M282.57 210.50H284.59V216.00H282.57zM301.97 241.10H303.99V246.60H301.97zM156.48 246.20H158.49V251.70H156.48zM204.98 251.30H206.99V256.80H204.98z"/>
<path fill="#7bf930" d="M284.19 210.50H286.21V216.00H284.19zM434.53 210.50H436.55V216.00H434.53zM188.81 225.80H190.83V231.30H188.81zM127.38 230.90H129.40V236.40H127.38zM282.57 241.10H284.59V246.60H282.57zM389.27 241.10H391.29V246.60H389.27z"/>
<path fill="#7cfb30" d="M285.81 210.50H287.82V216.00H285.81zM436.15 210.50H438.17V216.00H436.15zM392.50 225.80H394.52V231.30H392.50zM171.03 236.00H173.04V241.50H171.03zM407.05 241.10H409.07V246.60H407.05zM65.95 246.20H67.96V251.70H65.95zM17.45 251.30H19.47V256.80H17.45z"/>
<path fill="#7dfc31" d="M287.42 210.50H289.44V216.00H287.42zM256.71 230.90H258.72V236.40H256.71zM293.89 241.10H295.91V246.60H293.89zM300.36 241.10H302.37V246.60H300.36zM419.98 241.10H422.00V246.60H419.98z"/>
<path fill="#7ffe31" d="M289.04 210.50H291.06V216.00H289.04zM439.38 210.50H441.40V216.00H439.38zM247.01 230.90H249.02V236.40H247.01zM300.36 236.00H302.37V241.50H300.36zM394.12 241.10H396.14V246.60H394.12zM418.37 241.10H420.38V246.60H418.37zM434.53 241.10H436.55V246.60H434.53zM137.08 251.30H139.09V256.80H137.08z"/>
<path fill="#80ff32" d="M290.66 210.50H320.15V216.00H290.66zM69.18 215.60H71.20V221.10H69.18zM53.01 220.70H55.03V226.20H53.01zM137.08 220.70H139.09V226.20H137.08zM284.19 220.70H286.21V226.20H284.19zM289.04 220.70H291.06V226.20H289.04zM67.56 225.80H69.58V231.30H67.56zM143.54 225.80H145.56V231.30H143.54zM153.24 225.80H155.26V231.30H153.24zM167.79 225.80H169.81V231.30H167.79zM201.74 225.80H203.76V231.30H201.74zM217.91 225.80H219.93V231.30H217.91zM263.17 225.80H265.19V231.30H263.17zM332.69 225.80H334.70V231.30H332.69zM339.15 225.80H341.17V231.30H339.15zM356.94 225.80H362.19V231.30H356.94zM363.40 225.80H365.42V231.30H363.40zM386.04 225.80H388.05V231.30H386.04zM431.30 225.80H433.32V231.30H431.30zM2.90 230.90H4.92V236.40H2.90zM9.37 230.90H11.38V236.40H9.37zM14.22 230.90H17.85V236.40H14.22zM23.92 230.90H29.17V236.40H23.92zM38.47 230.90H40.48V236.40H38.47zM57.86 230.90H59.88V236.40H57.86zM78.88 230.90H80.90V236.40H78.88zM83.73 230.90H85.75V236.40H83.73zM111.21 230.90H113.23V236.40H111.21zM114.45 230.90H116.46V236.40H114.45zM119.30 230.90H121.31V236.40H119.30zM138.69 230.90H140.71V236.40H138.69zM154.86 230.90H156.88V236.40H154.86zM164.56 230.90H166.58V236.40H164.56zM183.96 230.90H185.98V236.40H183.96zM188.81 230.90H190.83V236.40H188.81zM195.28 230.90H198.91V236.40H195.28zM201.74 230.90H203.76V236.40H201.74zM208.21 230.90H213.46V236.40H208.21zM219.53 230.90H223.16V236.40H219.53zM224.37 230.90H226.39V236.40H224.37zM232.46 230.90H234.47V236.40H232.46zM251.86 230.90H253.87V236.40H251.86zM258.32 230.90H260.34V236.40H258.32zM266.41 230.90H268.42V236.40H266.41zM319.75 230.90H321.77V236.40H319.75zM329.45 230.90H331.47V236.40H329.45zM352.09 230.90H354.10V236.40H352.09zM69.18 236.00H72.81V241.50H69.18zM95.05 236.00H97.06V241.50H95.05zM99.90 236.00H101.91V241.50H99.90zM146.78 236.00H152.03V241.50H146.78zM264.79 236.00H266.81V241.50H264.79zM269.64 236.00H273.27V241.50H269.64zM274.49 236.00H279.74V241.50H274.49zM280.96 236.00H282.97V241.50H280.96zM293.89 236.00H295.91V241.50H293.89zM298.74 236.00H300.76V241.50H298.74zM310.05 236.00H312.07V241.50H310.05zM376.34 236.00H378.35V241.50H376.34zM390.89 236.00H392.90V241.50H390.89zM397.35 236.00H400.98V241.50H397.35zM405.43 236.00H407.45V241.50H405.43zM411.90 236.00H413.92V241.50H411.90zM424.83 236.00H426.85V241.50H424.83zM428.07 236.00H430.08V241.50H428.07zM432.92 236.00H434.93V241.50H432.92zM437.77 236.00H439.78V241.50H437.77zM69.18 241.10H71.20V246.60H69.18zM98.28 241.10H101.91V246.60H98.28zM143.54 241.10H145.56V246.60H143.54zM148.39 241.10H150.41V246.60H148.39zM264.79 241.10H266.81V246.60H264.79zM269.64 241.10H273.27V246.60H269.64zM284.19 241.10H287.82V246.60H284.19zM289.04 241.10H291.06V246.60H289.04zM292.27 241.10H294.29V246.60H292.27zM297.12 241.10H299.14V246.60H297.12zM305.21 241.10H307.22V246.60H305.21zM308.44 241.10H312.07V246.60H308.44zM316.52 241.10H318.54V246.60H316.52zM339.15 241.10H341.17V246.60H339.15zM373.10 241.10H375.12V246.60H373.10zM382.80 241.10H384.82V246.60H382.80zM386.04 241.10H389.67V246.60H386.04zM390.89 241.10H394.52V246.60H390.89zM395.74 241.10H402.60V246.60H395.74zM410.28 241.10H418.77V246.60H410.28zM421.60 241.10H423.62V246.60H421.60zM431.30 241.10H434.93V246.60H431.30zM437.77 241.10H439.78V246.60H437.77zM43.32 246.20H45.33V251.70H43.32zM80.50 246.20H82.51V251.70H80.50zM88.58 246.20H90.60V251.70H88.58zM98.28 246.20H100.30V251.70H98.28zM243.77 246.20H245.79V251.70H243.77zM6.13 251.30H8.15V256.80H6.13zM10.98 251.30H13.00V256.80H10.98zM14.22 251.30H16.23V256.80H14.22zM30.38 251.30H32.40V256.80H30.38zM35.23 251.30H37.25V256.80H35.23zM41.70 251.30H43.72V256.80H41.70zM48.16 251.30H50.18V256.80H48.16zM51.40 251.30H53.41V256.80H51.40zM54.63 251.30H56.65V256.80H54.63zM77.26 251.30H79.28V256.80H77.26zM80.50 251.30H82.51V256.80H80.50zM85.35 251.30H87.36V256.80H85.35zM109.60 251.30H111.61V256.80H109.60zM112.83 251.30H114.85V256.80H112.83zM116.06 251.30H118.08V256.80H116.06zM125.76 251.30H127.78V256.80H125.76zM159.71 251.30H161.73V256.80H159.71zM166.18 251.30H168.19V256.80H166.18zM172.64 251.30H174.66V256.80H172.64zM175.88 251.30H177.89V256.80H175.88zM185.58 251.30H187.59V256.80H185.58zM198.51 251.30H200.53V256.80H198.51zM211.44 251.30H213.46V256.80H211.44zM217.91 251.30H219.93V256.80H217.91zM224.37 251.30H228.01V256.80H224.37zM251.86 251.30H255.49V256.80H251.86zM268.02 251.30H270.04V256.80H268.02zM274.49 251.30H276.51V256.80H274.49zM279.34 251.30H281.36V256.80H279.34zM321.37 251.30H323.39V256.80H321.37z"/>
<path fill="#0e0e06" d="M319.75 210.50H321.77V216.00H319.75zM206.59 225.80H208.61V231.30H206.59zM389.27 230.90H391.29V236.40H389.27z"/>
<path fill="#0e1b06" d="M321.37 210.50H323.39V216.00H321.37z"/>
<path fill="#0f2806" d="M322.99 210.50H325.00V216.00H322.99zM57.86 215.60H59.88V221.10H57.86zM413.52 236.00H415.53V241.50H413.52zM104.75 246.20H106.76V251.70H104.75zM182.34 246.20H184.36V251.70H182.34z"/>
<path fill="#113507" d="M324.60 210.50H326.62V216.00H324.60zM272.87 215.60H274.89V221.10H272.87zM342.39 220.70H344.40V226.20H342.39zM358.55 230.90H360.57V236.40H358.55zM119.30 251.30H121.31V256.80H119.30z"/>
<path fill="#134008" d="M326.22 210.50H328.24V216.00H326.22zM258.32 215.60H260.34V221.10H258.32zM392.50 220.70H394.52V226.20H392.50zM410.28 220.70H412.30V226.20H410.28zM259.94 225.80H261.96V231.30H259.94zM150.01 246.20H152.03V251.70H150.01zM345.62 246.20H347.64V251.70H345.62z"/>
<path fill="#164a09" d="M327.84 210.50H329.85V216.00H327.84zM86.96 220.70H88.98V226.20H86.96zM306.82 220.70H308.84V226.20H306.82zM331.07 236.00H333.09V241.50H331.07zM96.66 241.10H98.68V246.60H96.66zM261.56 251.30H263.57V256.80H261.56zM429.68 251.30H431.70V256.80H429.68z"/>
<path fill="#1b5d0b" d="M331.07 210.50H333.09V216.00H331.07zM175.88 220.70H177.89V226.20H175.88zM316.52 220.70H318.54V226.20H316.52zM410.28 251.30H412.30V256.80H410.28z"/>
<path fill="#1f670c" d="M332.69 210.50H334.70V216.00H332.69zM159.71 220.70H161.73V226.20H159.71zM334.30 220.70H336.32V226.20H334.30zM436.15 225.80H438.17V231.30H436.15zM9.37 251.30H11.38V256.80H9.37zM53.01 251.30H55.03V256.80H53.01zM96.66 251.30H98.68V256.80H96.66z"/>
<path fill="#22710e" d="M334.30 210.50H336.32V216.00H334.30zM392.50 236.00H394.52V241.50H392.50zM429.68 236.00H431.70V241.50H429.68zM12.60 246.20H14.62V251.70H12.60zM85.35 246.20H87.36V251.70H85.35z"/>
<path fill="#277b0f" d="M335.92 210.50H337.94V216.00H335.92zM402.20 251.30H404.22V256.80H402.20z"/>
<path fill="#2b8511" d="M337.54 210.50H339.55V216.00H337.54zM98.28 225.80H100.30V231.30H98.28zM332.69 230.90H334.70V236.40H332.69zM90.20 246.20H92.21V251.70H90.20zM398.97 251.30H400.98V256.80H398.97z"/>
<path fill="#308f13" d="M339.15 210.50H341.17V216.00H339.15zM261.56 215.60H263.57V221.10H261.56zM416.75 215.60H418.77V221.10H416.75zM219.53 225.80H221.54V231.30H219.53zM203.36 230.90H205.38V236.40H203.36zM298.74 246.20H300.76V251.70H298.74zM162.94 251.30H164.96V256.80H162.94zM381.19 251.30H383.20V256.80H381.19zM408.67 251.30H410.68V256.80H408.67z"/>
<path fill="#329414" d="M340.77 210.50H342.79V216.00H340.77zM183.96 246.20H185.98V251.70H183.96z"/>
<path fill="#349815" d="M342.39 210.50H344.40V216.00H342.39zM225.99 220.70H228.01V226.20H225.99zM93.43 230.90H95.45V236.40H93.43z"/>
<path fill="#379c15" d="M344.00 210.50H346.02V216.00H344.00zM387.65 215.60H389.67V221.10H387.65zM428.07 215.60H430.08V221.10H428.07zM107.98 225.80H110.00V231.30H107.98zM64.33 236.00H66.35V241.50H64.33zM27.15 251.30H29.17V256.80H27.15z"/>
<path fill="#39a116" d="M345.62 210.50H347.64V216.00H345.62zM172.64 230.90H174.66V236.40H172.64zM355.32 241.10H357.34V246.60H355.32zM143.54 246.20H145.56V251.70H143.54z"/>
<path fill="#3ca517" d="M347.24 210.50H349.25V216.00H347.24zM96.66 215.60H98.68V221.10H96.66zM292.27 215.60H294.29V221.10H292.27zM201.74 220.70H203.76V226.20H201.74zM238.92 230.90H240.94V236.40H238.92zM355.32 230.90H357.34V236.40H355.32z"/>
<path fill="#3faa18" d="M348.85 210.50H350.87V216.00H348.85zM305.21 215.60H307.22V221.10H305.21zM348.85 225.80H350.87V231.30H348.85zM145.16 241.10H147.18V246.60H145.16zM230.84 251.30H232.86V256.80H230.84z"/>
<path fill="#41ae19" d="M350.47 210.50H352.49V216.00H350.47zM98.28 215.60H100.30V221.10H98.28zM264.79 246.20H266.81V251.70H264.79z"/>
<path fill="#44b21b" d="M352.09 210.50H354.10V216.00H352.09zM175.88 230.90H177.89V236.40H175.88zM82.11 251.30H84.13V256.80H82.11zM392.50 251.30H394.52V256.80H392.50z"/>
<path fill="#47b71c" d="M353.70 210.50H355.72V216.00H353.70zM421.60 215.60H423.62V221.10H421.60zM193.66 230.90H195.68V236.40H193.66zM308.44 236.00H310.45V241.50H308.44zM415.13 236.00H417.15V241.50H415.13zM335.92 241.10H337.94V246.60H335.92zM169.41 246.20H171.43V251.70H169.41zM117.68 251.30H119.70V256.80H117.68z"/>
<path fill="#4abb1d" d="M355.32 210.50H357.34V216.00H355.32zM169.41 236.00H171.43V241.50H169.41zM107.98 251.30H110.00V256.80H107.98z"/>
<path fill="#4dbf1e" d="M356.94 210.50H358.95V216.00H356.94zM245.39 220.70H247.41V226.20H245.39z"/>
<path fill="#50c41f" d="M358.55 210.50H360.57V216.00H358.55zM382.80 210.50H384.82V216.00H382.80zM114.45 220.70H116.46V226.20H114.45zM162.94 225.80H164.96V231.30H162.94zM277.72 225.80H279.74V231.30H277.72zM345.62 241.10H347.64V246.60H345.62zM35.23 246.20H37.25V251.70H35.23zM62.71 246.20H64.73V251.70H62.71zM301.97 251.30H303.99V256.80H301.97z"/>
<path fill="#53c820" d="M360.17 210.50H362.19V216.00H360.17zM208.21 225.80H210.23V231.30H208.21zM398.97 225.80H400.98V231.30H398.97zM101.51 251.30H103.53V256.80H101.51z"/>
<path fill="#56cd22" d="M361.79 210.50H363.80V216.00H361.79zM389.27 210.50H391.29V216.00H389.27zM67.56 220.70H69.58V226.20H67.56z"/>
<path fill="#59d022" d="M363.40 210.50H365.42V216.00H363.40zM91.81 220.70H93.83V226.20H91.81zM276.11 246.20H278.12V251.70H276.11z"/>
<path fill="#5bd323" d="M365.02 210.50H367.04V216.00H365.02zM311.67 215.60H313.69V221.10H311.67zM32.00 230.90H34.02V236.40H32.00zM266.41 236.00H268.42V241.50H266.41zM382.80 236.00H384.82V241.50H382.80zM30.38 246.20H32.40V251.70H30.38zM258.32 251.30H260.34V256.80H258.32zM358.55 251.30H360.57V256.80H358.55z"/>
<path fill="#5ed724" d="M366.64 210.50H368.65V216.00H366.64zM272.87 225.80H274.89V231.30H272.87zM61.10 251.30H63.11V256.80H61.10z"/>
<path fill="#60da25" d="M368.25 210.50H370.27V216.00H368.25zM398.97 210.50H400.98V216.00H398.97zM376.34 225.80H378.35V231.30H376.34zM311.67 236.00H313.69V241.50H311.67zM146.78 241.10H148.79V246.60H146.78zM10.98 246.20H13.00V251.70H10.98z"/>
<path fill="#63dd26" d="M369.87 210.50H371.89V216.00H369.87zM402.20 210.50H404.22V216.00H402.20zM295.51 215.60H297.52V221.10H295.51zM59.48 225.80H61.50V231.30H59.48z"/>
<path fill="#65e027" d="M371.49 210.50H373.50V216.00H371.49zM405.43 210.50H407.45V216.00H405.43zM120.91 230.90H122.93V236.40H120.91zM318.14 236.00H320.15V241.50H318.14z"/>
<path fill="#68e428" d="M373.10 210.50H375.12V216.00H373.10z"/>
<path fill="#6be729" d="M374.72 210.50H376.74V216.00H374.72zM413.52 210.50H415.53V216.00H413.52zM429.68 225.80H431.70V231.30H429.68zM154.86 246.20H156.88V251.70H154.86z"/>
<path fill="#6dea2b" d="M376.34 210.50H378.35V216.00H376.34z"/>
<path fill="#70ed2c" d="M377.95 210.50H379.97V216.00H377.95z"/>
<path fill="#73f12d" d="M379.57 210.50H381.59V216.00H379.57zM424.83 210.50H426.85V216.00H424.83zM99.90 220.70H101.91V226.20H99.90zM251.86 220.70H253.87V226.20H251.86zM365.02 236.00H367.04V241.50H365.02z"/>
<path fill="#4ec21f" d="M381.19 210.50H383.20V216.00H381.19zM308.44 215.60H310.45V221.10H308.44zM256.71 246.20H258.72V251.70H256.71z"/>
<path fill="#52c620" d="M384.42 210.50H386.44V216.00H384.42z"/>
<path fill="#53c920" d="M386.04 210.50H388.05V216.00H386.04zM432.92 225.80H434.93V231.30H432.92z"/>
<path fill="#55cb21" d="M387.65 210.50H389.67V216.00H387.65zM319.75 236.00H321.77V241.50H319.75zM124.15 246.20H126.16V251.70H124.15zM356.94 246.20H358.95V251.70H356.94z"/>
<path fill="#58cf22" d="M390.89 210.50H392.90V216.00H390.89zM187.19 230.90H189.21V236.40H187.19zM365.02 230.90H367.04V236.40H365.02zM360.17 236.00H362.19V241.50H360.17zM198.51 246.20H200.53V251.70H198.51zM209.83 246.20H211.84V251.70H209.83zM25.53 251.30H27.55V256.80H25.53zM413.52 251.30H415.53V256.80H413.52z"/>
<path fill="#5ad123" d="M392.50 210.50H394.52V216.00H392.50zM145.16 215.60H147.18V221.10H145.16zM28.77 246.20H30.78V251.70H28.77z"/>
<path fill="#5bd424" d="M394.12 210.50H396.14V216.00H394.12zM410.28 236.00H412.30V241.50H410.28zM263.17 246.20H265.19V251.70H263.17z"/>
<path fill="#5dd624" d="M395.74 210.50H397.75V216.00H395.74zM272.87 246.20H274.89V251.70H272.87z"/>
<path fill="#5fd825" d="M397.35 210.50H399.37V216.00H397.35zM125.76 220.70H127.78V226.20H125.76z"/>
<path fill="#61db26" d="M400.58 210.50H402.60V216.00H400.58zM268.02 236.00H270.04V241.50H268.02zM93.43 251.30H95.45V256.80H93.43z"/>
<path fill="#64de27" d="M403.82 210.50H405.83V216.00H403.82zM363.40 215.60H365.42V221.10H363.40z"/>
<path fill="#67e328" d="M408.67 210.50H410.68V216.00H408.67z"/>
<path fill="#68e429" d="M410.28 210.50H412.30V216.00H410.28zM188.81 246.20H190.83V251.70H188.81z"/>
<path fill="#6ae529" d="M411.90 210.50H413.92V216.00H411.90z"/>
<path fill="#6dea2a" d="M416.75 210.50H418.77V216.00H416.75zM295.51 236.00H297.52V241.50H295.51zM259.94 246.20H261.96V251.70H259.94z"/>
<path fill="#72ef2c" d="M423.22 210.50H425.23V216.00H423.22zM238.92 251.30H240.94V256.80H238.92z"/>
<path fill="#75f22d" d="M426.45 210.50H428.47V216.00H426.45zM405.43 241.10H407.45V246.60H405.43z"/>
<path fill="#77f52e" d="M429.68 210.50H431.70V216.00H429.68zM369.87 236.00H371.89V241.50H369.87zM290.66 241.10H292.67V246.60H290.66zM402.20 241.10H405.83V246.60H402.20zM429.68 241.10H431.70V246.60H429.68zM436.15 241.10H438.17V246.60H436.15zM46.55 251.30H48.56V256.80H46.55z"/>
<path fill="#78f72f" d="M431.30 210.50H433.32V216.00H431.30z"/>
<path fill="#7af82f" d="M432.92 210.50H434.93V216.00H432.92zM298.74 241.10H300.76V246.60H298.74zM423.22 241.10H425.23V246.60H423.22zM439.38 241.10H441.40V246.60H439.38z"/>
<path fill="#7efc31" d="M437.77 210.50H439.78V216.00H437.77zM61.10 225.80H63.11V231.30H61.10zM213.06 230.90H215.08V236.40H213.06zM329.45 241.10H331.47V246.60H329.45zM408.67 241.10H410.68V246.60H408.67zM424.83 241.10H426.85V246.60H424.83z"/>
<path fill="#d70909" d="M14.22 215.60H16.23V221.10H14.22zM153.24 215.60H155.26V221.10H153.24zM295.51 225.80H297.52V231.30H295.51zM133.85 236.00H135.86V241.50H133.85zM377.95 246.20H379.97V251.70H377.95z"/>
<path fill="#cb0909" d="M20.68 215.60H22.70V221.10H20.68zM32.00 215.60H34.02V221.10H32.00zM53.01 215.60H55.03V221.10H53.01zM209.83 220.70H211.84V226.20H209.83zM166.18 225.80H168.19V231.30H166.18zM415.13 246.20H417.15V251.70H415.13z"/>
<path fill="#c90909" d="M33.62 215.60H35.63V221.10H33.62zM78.88 215.60H80.90V221.10H78.88zM14.22 236.00H16.23V241.50H14.22z"/>
<path fill="#c40909" d="M36.85 215.60H38.87V221.10H36.85zM175.88 241.10H177.89V246.60H175.88z"/>
<path fill="#c70909" d="M38.47 215.60H40.48V221.10H38.47zM224.37 236.00H226.39V241.50H224.37zM421.60 246.20H423.62V251.70H421.60z"/>
<path fill="#760707" d="M56.25 215.60H58.26V221.10H56.25zM88.58 220.70H90.60V226.20H88.58zM219.53 241.10H221.54V246.60H219.53zM174.26 251.30H176.28V256.80H174.26z"/>
<path fill="#380606" d="M59.48 215.60H61.50V221.10H59.48zM347.24 246.20H349.25V251.70H347.24z"/>
<path fill="#206a0d" d="M61.10 215.60H63.11V221.10H61.10zM340.77 220.70H342.79V226.20H340.77zM340.77 251.30H342.79V256.80H340.77z"/>
<path fill="#0e0f06" d="M62.71 215.60H64.73V221.10H62.71zM261.56 236.00H263.57V241.50H261.56z"/>
<path fill="#23730e" d="M64.33 215.60H66.35V221.10H64.33zM70.80 246.20H72.81V251.70H70.80zM263.17 251.30H265.19V256.80H263.17zM405.43 251.30H407.45V256.80H405.43z"/>
<path fill="#339614" d="M65.95 215.60H67.96V221.10H65.95zM374.72 215.60H376.74V221.10H374.72zM300.36 220.70H302.37V226.20H300.36zM77.26 246.20H79.28V251.70H77.26z"/>
<path fill="#41ad19" d="M67.56 215.60H69.58V221.10H67.56zM83.73 225.80H85.75V231.30H83.73zM222.76 225.80H224.77V231.30H222.76zM245.39 230.90H247.41V236.40H245.39zM36.85 251.30H38.87V256.80H36.85zM104.75 251.30H106.76V256.80H104.75z"/>
<path fill="#19560a" d="M70.80 215.60H72.81V221.10H70.80zM394.12 225.80H396.14V231.30H394.12zM78.88 251.30H80.90V256.80H78.88zM193.66 251.30H195.68V256.80H193.66zM277.72 251.30H279.74V256.80H277.72z"/>
<path fill="#2a8311" d="M88.58 215.60H90.60V221.10H88.58zM255.09 246.20H257.11V251.70H255.09z"/>
<path fill="#b10808" d="M90.20 215.60H92.21V221.10H90.20zM230.84 215.60H232.86V221.10H230.84zM305.21 225.80H307.22V231.30H305.21zM216.29 236.00H218.31V241.50H216.29zM88.58 241.10H90.60V246.60H88.58z"/>
<path fill="#39a016" d="M91.81 215.60H93.83V221.10H91.81zM344.00 215.60H346.02V221.10H344.00zM402.20 215.60H404.22V221.10H402.20zM386.04 236.00H388.05V241.50H386.04zM140.31 246.20H142.33V251.70H140.31zM153.24 246.20H155.26V251.70H153.24zM56.25 251.30H58.26V256.80H56.25zM111.21 251.30H113.23V256.80H111.21z"/>
<path fill="#52c820" d="M95.05 215.60H97.06V221.10H95.05z"/>
<path fill="#310606" d="M99.90 215.60H101.91V221.10H99.90zM133.85 220.70H135.86V226.20H133.85zM192.04 220.70H194.06V226.20H192.04zM17.45 225.80H19.47V231.30H17.45zM303.59 251.30H305.61V256.80H303.59z"/>
<path fill="#9b0808" d="M111.21 215.60H113.23V221.10H111.21zM23.92 220.70H25.93V226.20H23.92zM72.41 225.80H74.43V231.30H72.41zM93.43 225.80H95.45V231.30H93.43z"/>
<path fill="#d40909" d="M114.45 215.60H116.46V221.10H114.45zM213.06 225.80H215.08V231.30H213.06zM353.70 225.80H355.72V231.30H353.70z"/>
<path fill="#b00808" d="M117.68 215.60H119.70V221.10H117.68zM342.39 230.90H344.40V236.40H342.39zM162.94 236.00H164.96V241.50H162.94zM206.59 241.10H208.61V246.60H206.59zM403.82 246.20H405.83V251.70H403.82z"/>
<path fill="#cc0909" d="M120.91 215.60H122.93V221.10H120.91zM33.62 220.70H35.63V226.20H33.62z"/>
<path fill="#9a0808" d="M122.53 215.60H124.55V221.10H122.53zM211.44 220.70H213.46V226.20H211.44zM411.90 230.90H413.92V236.40H411.90zM78.88 236.00H80.90V241.50H78.88zM237.31 241.10H239.32V246.60H237.31z"/>
<path fill="#aa0808" d="M125.76 215.60H127.78V221.10H125.76zM208.21 220.70H210.23V226.20H208.21zM200.13 241.10H202.14V246.60H200.13zM366.64 246.20H368.65V251.70H366.64zM148.39 251.30H150.41V256.80H148.39z"/>
<path fill="#cd0909" d="M130.61 215.60H132.63V221.10H130.61zM104.75 220.70H106.76V226.20H104.75zM46.55 225.80H48.56V231.30H46.55zM432.92 230.90H434.93V236.40H432.92zM255.09 241.10H257.11V246.60H255.09zM382.80 246.20H384.82V251.70H382.80zM419.98 246.20H422.00V251.70H419.98zM74.03 251.30H76.05V256.80H74.03zM314.90 251.30H316.92V256.80H314.90z"/>
<path fill="#6b0707" d="M133.85 215.60H135.86V221.10H133.85zM316.52 225.80H318.54V231.30H316.52zM344.00 236.00H346.02V241.50H344.00z"/>
<path fill="#a40808" d="M138.69 215.60H140.71V221.10H138.69zM40.08 220.70H42.10V226.20H40.08zM169.41 225.80H171.43V231.30H169.41zM243.77 225.80H245.79V231.30H243.77zM133.85 230.90H135.86V236.40H133.85zM53.01 241.10H55.03V246.60H53.01z"/>
<path fill="#360606" d="M140.31 215.60H142.33V221.10H140.31zM179.11 220.70H181.13V226.20H179.11zM150.01 230.90H152.03V236.40H150.01zM61.10 236.00H63.11V241.50H61.10z"/>
<path fill="#154809" d="M141.93 215.60H143.94V221.10H141.93zM301.97 220.70H303.99V226.20H301.97zM253.47 230.90H255.49V236.40H253.47z"/>
<path fill="#206b0d" d="M143.54 215.60H145.56V221.10H143.54zM141.93 225.80H143.94V231.30H141.93zM387.65 225.80H389.67V231.30H387.65zM64.33 241.10H66.35V246.60H64.33zM339.15 246.20H341.17V251.70H339.15zM418.37 251.30H420.38V256.80H418.37z"/>
<path fill="#4fc31f" d="M146.78 215.60H148.79V221.10H146.78zM397.35 215.60H399.37V221.10H397.35zM431.30 215.60H433.32V221.10H431.30zM106.36 220.70H108.38V226.20H106.36zM268.02 220.70H270.04V226.20H268.02zM229.22 251.30H231.24V256.80H229.22z"/>
<path fill="#2a8210" d="M148.39 215.60H150.41V221.10H148.39zM248.62 230.90H250.64V236.40H248.62zM258.32 236.00H260.34V241.50H258.32zM124.15 251.30H126.16V256.80H124.15zM243.77 251.30H245.79V256.80H243.77z"/>
<path fill="#24760e" d="M150.01 215.60H152.03V221.10H150.01zM300.36 215.60H302.37V221.10H300.36zM411.90 220.70H413.92V226.20H411.90zM6.13 225.80H8.15V231.30H6.13zM179.11 230.90H181.13V236.40H179.11zM91.81 251.30H93.83V256.80H91.81zM209.83 251.30H211.84V256.80H209.83z"/>
<path fill="#b60808" d="M161.33 215.60H163.34V221.10H161.33zM70.80 230.90H72.81V236.40H70.80zM318.14 230.90H320.15V236.40H318.14zM344.00 230.90H346.02V236.40H344.00zM46.55 241.10H48.56V246.60H46.55zM146.78 251.30H148.79V256.80H146.78z"/>
<path fill="#ca0909" d="M166.18 215.60H168.19V221.10H166.18z"/>
<path fill="#ad0808" d="M169.41 215.60H171.43V221.10H169.41zM227.61 215.60H229.62V221.10H227.61zM9.37 220.70H11.38V226.20H9.37zM130.61 220.70H132.63V226.20H130.61zM209.83 241.10H211.84V246.60H209.83zM371.49 241.10H373.50V246.60H371.49zM426.45 246.20H428.47V251.70H426.45z"/>
<path fill="#1c600b" d="M171.03 215.60H173.04V221.10H171.03zM65.95 220.70H67.96V226.20H65.95zM203.36 220.70H205.38V226.20H203.36zM290.66 236.00H292.67V241.50H290.66zM365.02 246.20H367.04V251.70H365.02zM59.48 251.30H61.50V256.80H59.48z"/>
<path fill="#2f8e13" d="M172.64 215.60H174.66V221.10H172.64zM419.98 215.60H422.00V221.10H419.98zM174.26 225.80H176.28V231.30H174.26zM216.29 225.80H218.31V231.30H216.29zM368.25 230.90H370.27V236.40H368.25zM287.42 246.20H289.44V251.70H287.42z"/>
<path fill="#c50909" d="M196.89 215.60H198.91V221.10H196.89zM350.47 241.10H352.49V246.60H350.47zM114.45 251.30H116.46V256.80H114.45z"/>
<path fill="#d20909" d="M203.36 215.60H205.38V221.10H203.36zM182.34 236.00H184.36V241.50H182.34zM151.63 241.10H153.64V246.60H151.63zM377.95 251.30H379.97V256.80H377.95z"/>
<path fill="#950808" d="M208.21 215.60H210.23V221.10H208.21zM67.56 230.90H71.20V236.40H67.56zM361.79 236.00H363.80V241.50H361.79zM413.52 246.20H415.53V251.70H413.52z"/>
<path fill="#b30808" d="M248.62 215.60H250.64V221.10H248.62zM242.16 236.00H244.17V241.50H242.16zM122.53 251.30H124.55V256.80H122.53z"/>
<path fill="#600707" d="M250.24 215.60H252.26V221.10H250.24zM180.73 220.70H182.74V226.20H180.73zM253.47 241.10H255.49V246.60H253.47zM83.73 251.30H85.75V256.80H83.73z"/>
<path fill="#0e1e06" d="M251.86 215.60H253.87V221.10H251.86zM386.04 230.90H388.05V236.40H386.04z"/>
<path fill="#52c720" d="M255.09 215.60H257.11V221.10H255.09zM418.37 215.60H420.38V221.10H418.37zM272.87 236.00H274.89V241.50H272.87zM301.97 236.00H303.99V241.50H301.97zM353.70 241.10H355.72V246.60H353.70zM234.07 246.20H236.09V251.70H234.07z"/>
<path fill="#0e1606" d="M256.71 215.60H258.72V221.10H256.71zM322.99 215.60H325.00V221.10H322.99zM148.39 225.80H150.41V231.30H148.39zM326.22 230.90H328.24V236.40H326.22z"/>
<path fill="#185109" d="M259.94 215.60H261.96V221.10H259.94zM306.82 230.90H308.84V236.40H306.82zM44.93 246.20H46.95V251.70H44.93zM141.93 246.20H143.94V251.70H141.93zM232.46 251.30H234.47V256.80H232.46z"/>
<path fill="#1f680c" d="M263.17 215.60H265.19V221.10H263.17zM321.37 220.70H323.39V226.20H321.37zM381.19 220.70H383.20V226.20H381.19zM179.11 225.80H181.13V231.30H179.11zM135.46 251.30H137.48V256.80H135.46zM386.04 251.30H388.05V256.80H386.04z"/>
<path fill="#3da718" d="M264.79 215.60H266.81V221.10H264.79zM161.33 225.80H163.34V231.30H161.33zM371.49 225.80H373.50V231.30H371.49zM326.22 236.00H328.24V241.50H326.22zM342.39 236.00H344.40V241.50H342.39zM23.92 246.20H25.93V251.70H23.92zM229.22 246.20H231.24V251.70H229.22zM436.15 251.30H438.17V256.80H436.15z"/>
<path fill="#5fd925" d="M266.41 215.60H268.42V221.10H266.41z"/>
<path fill="#4dc01e" d="M268.02 215.60H270.04V221.10H268.02zM356.94 215.60H358.95V221.10H356.94zM248.62 225.80H250.64V231.30H248.62zM156.48 230.90H158.49V236.40H156.48zM313.29 236.00H315.30V241.50H313.29zM61.10 241.10H63.11V246.60H61.10zM158.09 251.30H160.11V256.80H158.09z"/>
<path fill="#369b15" d="M271.26 215.60H273.27V221.10H271.26zM280.96 215.60H282.97V221.10H280.96zM240.54 220.70H242.56V226.20H240.54zM368.25 220.70H370.27V226.20H368.25zM15.83 225.80H17.85V231.30H15.83zM86.96 230.90H88.98V236.40H86.96zM161.33 230.90H163.34V236.40H161.33zM172.64 241.10H174.66V246.60H172.64zM75.65 246.20H77.66V251.70H75.65zM95.05 246.20H97.06V251.70H95.05zM277.72 246.20H279.74V251.70H277.72zM327.84 246.20H329.85V251.70H327.84zM428.07 251.30H430.08V256.80H428.07z"/>
<path fill="#19570a" d="M274.49 215.60H276.51V221.10H274.49zM250.24 220.70H252.26V226.20H250.24zM327.84 220.70H329.85V226.20H327.84zM395.74 220.70H397.75V226.20H395.74zM416.75 220.70H418.77V226.20H416.75zM247.01 225.80H249.02V231.30H247.01zM308.44 230.90H310.45V236.40H308.44z"/>
<path fill="#277d0f" d="M276.11 215.60H278.12V221.10H276.11zM132.23 220.70H134.25V226.20H132.23zM23.92 225.80H25.93V231.30H23.92zM310.05 246.20H312.07V251.70H310.05z"/>
<path fill="#44b21a" d="M277.72 215.60H281.36V221.10H277.72zM284.19 215.60H286.21V221.10H284.19zM70.80 220.70H72.81V226.20H70.80zM145.16 220.70H147.18V226.20H145.16zM28.77 225.80H30.78V231.30H28.77zM334.30 225.80H336.32V231.30H334.30zM235.69 230.90H237.71V236.40H235.69z"/>
<path fill="#1a580a" d="M282.57 215.60H284.59V221.10H282.57zM95.05 220.70H97.06V226.20H95.05z"/>
<path fill="#47b81c" d="M285.81 215.60H287.82V221.10H285.81zM285.81 225.80H287.82V231.30H285.81zM274.49 241.10H276.51V246.60H274.49z"/>
<path fill="#6fec2b" d="M287.42 215.60H289.44V221.10H287.42zM342.39 225.80H344.40V231.30H342.39zM272.87 241.10H274.89V246.60H272.87zM237.31 251.30H239.32V256.80H237.31z"/>
<path fill="#46b51b" d="M289.04 215.60H291.06V221.10H289.04zM353.70 215.60H355.72V221.10H353.70zM337.54 225.80H339.55V231.30H337.54zM198.51 230.90H200.53V236.40H198.51zM292.27 236.00H294.29V241.50H292.27zM332.69 246.20H334.70V251.70H332.69z"/>
<path fill="#25780f" d="M290.66 215.60H292.67V221.10H290.66zM319.75 215.60H321.77V221.10H319.75zM394.12 220.70H396.14V226.20H394.12zM419.98 220.70H422.00V226.20H419.98zM264.79 225.80H266.81V231.30H264.79zM40.08 230.90H42.10V236.40H40.08zM310.05 230.90H312.07V236.40H310.05zM196.89 251.30H198.91V256.80H196.89z"/>
<path fill="#319213" d="M293.89 215.60H295.91V221.10H293.89z"/>
<path fill="#123807" d="M297.12 215.60H299.14V221.10H297.12zM292.27 220.70H294.29V226.20H292.27zM200.13 225.80H202.14V231.30H200.13zM421.60 225.80H423.62V231.30H421.60zM377.95 241.10H379.97V246.60H377.95zM250.24 251.30H252.26V256.80H250.24z"/>
<path fill="#60d925" d="M298.74 215.60H300.76V221.10H298.74zM331.07 230.90H333.09V236.40H331.07zM54.63 246.20H56.65V251.70H54.63z"/>
<path fill="#389e16" d="M301.97 215.60H303.99V221.10H301.97zM339.15 215.60H341.17V221.10H339.15zM150.01 241.10H152.03V246.60H150.01zM49.78 251.30H51.80V256.80H49.78z"/>
<path fill="#55cc21" d="M303.59 215.60H305.61V221.10H303.59zM314.90 215.60H316.92V221.10H314.90zM19.07 251.30H21.08V256.80H19.07z"/>
<path fill="#329313" d="M306.82 215.60H308.84V221.10H306.82zM116.06 230.90H118.08V236.40H116.06zM2.90 246.20H4.92V251.70H2.90zM164.56 246.20H166.58V251.70H164.56zM282.57 251.30H284.59V256.80H282.57z"/>
<path fill="#1f6a0c" d="M313.29 215.60H315.30V221.10H313.29z"/>
<path fill="#65df27" d="M316.52 215.60H318.54V221.10H316.52zM400.58 236.00H402.60V241.50H400.58z"/>
<path fill="#349614" d="M318.14 215.60H320.15V221.10H318.14zM332.69 220.70H334.70V226.20H332.69zM78.88 246.20H80.90V251.70H78.88zM180.73 246.20H182.74V251.70H180.73z"/>
<path fill="#4bbe1d" d="M321.37 215.60H323.39V221.10H321.37z"/>
<path fill="#319113" d="M324.60 215.60H326.62V221.10H324.60zM305.21 220.70H307.22V226.20H305.21zM145.16 236.00H147.18V241.50H145.16zM179.11 246.20H181.13V251.70H179.11zM206.59 246.20H208.61V251.70H206.59zM310.05 251.30H312.07V256.80H310.05z"/>
<path fill="#2f8e12" d="M327.84 215.60H329.85V221.10H327.84zM334.30 236.00H336.32V241.50H334.30zM187.19 246.20H189.21V251.70H187.19zM22.30 251.30H24.32V256.80H22.30z"/>
<path fill="#379d16" d="M329.45 215.60H331.47V221.10H329.45zM340.77 215.60H342.79V221.10H340.77zM347.24 215.60H349.25V221.10H347.24zM384.42 215.60H386.44V221.10H384.42zM56.25 220.70H58.26V226.20H56.25zM277.72 220.70H279.74V226.20H277.72zM158.09 230.90H160.11V236.40H158.09zM242.16 230.90H244.17V236.40H242.16zM93.43 236.00H95.45V241.50H93.43zM106.36 246.20H108.38V251.70H106.36z"/>
<path fill="#2b8611" d="M332.69 215.60H334.70V221.10H332.69zM437.77 215.60H439.78V221.10H437.77zM12.60 251.30H14.62V256.80H12.60z"/>
<path fill="#4abc1d" d="M334.30 215.60H336.32V221.10H334.30zM436.15 215.60H438.17V221.10H436.15zM382.80 251.30H384.82V256.80H382.80z"/>
<path fill="#2b8411" d="M335.92 215.60H337.94V221.10H335.92zM219.53 220.70H221.54V226.20H219.53zM193.66 225.80H195.68V231.30H193.66zM98.28 230.90H100.30V236.40H98.28z"/>
<path fill="#24750e" d="M337.54 215.60H339.55V221.10H337.54zM397.35 220.70H399.37V226.20H397.35zM125.76 225.80H127.78V231.30H125.76zM329.45 225.80H331.47V231.30H329.45zM36.85 246.20H38.87V251.70H36.85zM261.56 246.20H263.57V251.70H261.56z"/>
<path fill="#51c51f" d="M342.39 215.60H344.40V221.10H342.39zM235.69 246.20H237.71V251.70H235.69zM238.92 246.20H240.94V251.70H238.92zM242.16 251.30H244.17V256.80H242.16z"/>
<path fill="#42af1a" d="M345.62 215.60H347.64V221.10H345.62zM263.17 220.70H265.19V226.20H263.17zM12.60 225.80H14.62V231.30H12.60zM103.13 225.80H105.15V231.30H103.13zM164.56 225.80H166.58V231.30H164.56zM17.45 230.90H19.47V236.40H17.45z"/>
<path fill="#40ab19" d="M348.85 215.60H350.87V221.10H348.85zM390.89 215.60H392.90V221.10H390.89zM138.69 246.20H140.71V251.70H138.69z"/>
<path fill="#64df27" d="M350.47 215.60H352.49V221.10H350.47zM419.98 251.30H422.00V256.80H419.98z"/>
<path fill="#298010" d="M352.09 215.60H354.10V221.10H352.09zM289.04 225.80H291.06V231.30H289.04zM384.42 251.30H386.44V256.80H384.42z"/>
<path fill="#3ba417" d="M355.32 215.60H357.34V221.10H355.32zM369.87 215.60H371.89V221.10H369.87zM381.19 215.60H383.20V221.10H381.19zM259.94 241.10H261.96V246.60H259.94zM22.30 246.20H24.32V251.70H22.30zM33.62 246.20H35.63V251.70H33.62zM72.41 246.20H74.43V251.70H72.41zM397.35 251.30H399.37V256.80H397.35z"/>
<path fill="#369a15" d="M358.55 215.60H360.57V221.10H358.55zM172.64 236.00H174.66V241.50H172.64zM59.48 246.20H61.50V251.70H59.48zM67.56 246.20H69.58V251.70H67.56zM208.21 246.20H210.23V251.70H208.21z"/>
<path fill="#3ea918" d="M360.17 215.60H362.19V221.10H360.17zM251.86 236.00H253.87V241.50H251.86zM41.70 246.20H43.72V251.70H41.70zM93.43 246.20H95.45V251.70H93.43zM130.61 246.20H132.63V251.70H130.61zM196.89 246.20H198.91V251.70H196.89z"/>
<path fill="#144008" d="M361.79 215.60H363.80V221.10H361.79z"/>
<path fill="#54ca21" d="M365.02 215.60H367.04V221.10H365.02zM368.25 215.60H370.27V221.10H368.25zM214.68 230.90H216.69V236.40H214.68zM384.42 236.00H386.44V241.50H384.42zM65.95 241.10H67.96V246.60H65.95zM258.32 241.10H260.34V246.60H258.32z"/>
<path fill="#359915" d="M366.64 215.60H368.65V221.10H366.64zM137.08 230.90H139.09V236.40H137.08zM49.78 246.20H51.80V251.70H49.78zM352.09 246.20H354.10V251.70H352.09z"/>
<path fill="#390606" d="M371.49 215.60H373.50V221.10H371.49z"/>
<path fill="#2e8c12" d="M373.10 215.60H375.12V221.10H373.10zM107.98 246.20H110.00V251.70H107.98zM358.55 246.20H360.57V251.70H358.55zM271.26 251.30H273.27V256.80H271.26z"/>
<path fill="#287f10" d="M377.95 215.60H379.97V221.10H377.95zM432.92 215.60H434.93V221.10H432.92zM70.80 225.80H72.81V231.30H70.80zM261.56 241.10H263.57V246.60H261.56zM240.54 246.20H242.56V251.70H240.54zM319.75 251.30H321.77V256.80H319.75z"/>
<path fill="#2c8611" d="M379.57 215.60H381.59V221.10H379.57zM57.86 251.30H59.88V256.80H57.86z"/>
<path fill="#3da618" d="M382.80 215.60H384.82V221.10H382.80zM38.47 246.20H40.48V251.70H38.47z"/>
<path fill="#2f8d12" d="M386.04 215.60H388.05V221.10H386.04zM407.05 215.60H409.07V221.10H407.05zM90.20 236.00H92.21V241.50H90.20zM353.70 236.00H355.72V241.50H353.70zM434.53 236.00H436.55V241.50H434.53zM141.93 241.10H143.94V246.60H141.93zM48.16 246.20H50.18V251.70H48.16zM145.16 246.20H148.79V251.70H145.16zM75.65 251.30H77.66V256.80H75.65zM150.01 251.30H152.03V256.80H150.01zM360.17 251.30H362.19V256.80H360.17z"/>
<path fill="#48b91c" d="M392.50 215.60H394.52V221.10H392.50zM109.60 246.20H111.61V251.70H109.60zM116.06 246.20H118.08V251.70H116.06zM217.91 246.20H219.93V251.70H217.91z"/>
<path fill="#3fab19" d="M395.74 215.60H397.75V221.10H395.74zM324.60 225.80H326.62V231.30H324.60zM201.74 246.20H203.76V251.70H201.74zM151.63 251.30H153.64V256.80H151.63z"/>
<path fill="#298110" d="M398.97 215.60H400.98V221.10H398.97zM80.50 220.70H82.51V226.20H80.50zM310.05 220.70H312.07V226.20H310.05zM2.90 225.80H4.92V231.30H2.90zM143.54 236.00H145.56V241.50H143.54zM347.24 241.10H349.25V246.60H347.24zM28.77 251.30H30.78V256.80H28.77z"/>
<path fill="#49ba1c" d="M400.58 215.60H402.60V221.10H400.58zM424.83 225.80H426.85V231.30H424.83zM98.28 236.00H100.30V241.50H98.28zM282.57 236.00H284.59V241.50H282.57zM421.60 236.00H423.62V241.50H421.60z"/>
<path fill="#43b01a" d="M403.82 215.60H405.83V221.10H403.82zM198.51 220.70H200.53V226.20H198.51z"/>
<path fill="#3aa117" d="M405.43 215.60H407.45V221.10H405.43zM289.04 230.90H291.06V236.40H289.04zM431.30 236.00H433.32V241.50H431.30zM324.60 241.10H326.62V246.60H324.60zM363.40 241.10H365.42V246.60H363.40zM112.83 246.20H114.85V251.70H112.83z"/>
<path fill="#50c51f" d="M408.67 215.60H410.68V221.10H408.67zM316.52 236.00H318.54V241.50H316.52zM74.03 246.20H76.05V251.70H74.03zM411.90 251.30H413.92V256.80H411.90z"/>
<path fill="#4ec11e" d="M410.28 215.60H412.30V221.10H410.28zM156.48 225.80H158.49V231.30H156.48zM28.77 230.90H30.78V236.40H28.77zM124.15 230.90H126.16V236.40H124.15zM335.92 230.90H337.94V236.40H335.92zM436.15 236.00H438.17V241.50H436.15zM151.63 246.20H153.64V251.70H151.63z"/>
<path fill="#329314" d="M411.90 215.60H413.92V221.10H411.90zM104.75 230.90H106.76V236.40H104.75zM285.81 236.00H287.82V241.50H285.81zM371.49 246.20H373.50V251.70H371.49zM416.75 251.30H418.77V256.80H416.75z"/>
<path fill="#47b61c" d="M413.52 215.60H415.53V221.10H413.52zM395.74 225.80H397.75V231.30H395.74zM162.94 230.90H164.96V236.40H162.94zM133.85 251.30H135.86V256.80H133.85z"/>
<path fill="#3ea818" d="M415.13 215.60H417.15V221.10H415.13zM59.48 220.70H61.50V226.20H59.48zM141.93 220.70H143.94V226.20H141.93zM2.90 251.30H4.92V256.80H2.90zM248.62 251.30H250.64V256.80H248.62z"/>
<path fill="#4cbf1e" d="M423.22 215.60H425.23V221.10H423.22z"/>
<path fill="#4cbe1e" d="M424.83 215.60H426.85V221.10H424.83zM230.84 220.70H232.86V226.20H230.84zM132.23 225.80H134.25V231.30H132.23z"/>
<path fill="#389f16" d="M429.68 215.60H431.70V221.10H429.68zM216.29 246.20H218.31V251.70H216.29zM280.96 246.20H282.97V251.70H280.96z"/>
<path fill="#57ce22" d="M434.53 215.60H436.55V221.10H434.53zM171.03 230.90H173.04V236.40H171.03zM314.90 246.20H316.92V251.70H314.90zM195.28 251.30H197.29V256.80H195.28z"/>
<path fill="#2e8b12" d="M439.38 215.60H441.40V221.10H439.38zM356.94 230.90H358.95V236.40H356.94zM232.46 246.20H234.47V251.70H232.46zM245.39 246.20H247.41V251.70H245.39zM376.34 246.20H378.35V251.70H376.34zM266.41 251.30H268.42V256.80H266.41z"/>
<path fill="#b40808" d="M2.90 220.70H4.92V226.20H2.90zM146.78 225.80H148.79V231.30H146.78zM182.34 225.80H184.36V231.30H182.34zM352.09 225.80H354.10V231.30H352.09zM33.62 230.90H35.63V236.40H33.62z"/>
<path fill="#6f0707" d="M4.52 220.70H6.53V226.20H4.52zM156.48 220.70H158.49V226.20H156.48zM314.90 225.80H316.92V231.30H314.90zM337.54 241.10H339.55V246.60H337.54z"/>
<path fill="#123b07" d="M6.13 220.70H8.15V226.20H6.13zM348.85 220.70H350.87V226.20H348.85zM408.67 220.70H410.68V226.20H408.67zM72.41 230.90H74.43V236.40H72.41zM274.49 246.20H276.51V251.70H274.49z"/>
<path fill="#490707" d="M7.75 220.70H9.77V226.20H7.75zM49.78 230.90H51.80V236.40H49.78z"/>
<path fill="#440606" d="M12.60 220.70H14.62V226.20H12.60z"/>
<path fill="#144208" d="M14.22 220.70H16.23V226.20H14.22zM204.98 230.90H206.99V236.40H204.98zM395.74 236.00H397.75V241.50H395.74z"/>
<path fill="#500707" d="M15.83 220.70H17.85V226.20H15.83z"/>
<path fill="#113207" d="M17.45 220.70H19.47V226.20H17.45zM49.78 220.70H51.80V226.20H49.78zM151.63 220.70H153.64V226.20H151.63zM324.60 220.70H326.62V226.20H324.60zM251.86 246.20H253.87V251.70H251.86z"/>
<path fill="#7f0707" d="M19.07 220.70H21.08V226.20H19.07zM347.24 251.30H349.25V256.80H347.24zM376.34 251.30H378.35V256.80H376.34z"/>
<path fill="#24740e" d="M20.68 220.70H22.70V226.20H20.68zM74.03 220.70H76.05V226.20H74.03zM423.22 230.90H425.23V236.40H423.22z"/>
<path fill="#1d640c" d="M22.30 220.70H24.32V226.20H22.30zM172.64 220.70H174.66V226.20H172.64zM159.71 230.90H161.73V236.40H159.71z"/>
<path fill="#7e0707" d="M25.53 220.70H27.55V226.20H25.53zM69.18 225.80H71.20V231.30H69.18zM114.45 225.80H116.46V231.30H114.45zM439.38 230.90H441.40V236.40H439.38zM434.53 246.20H436.55V251.70H434.53z"/>
<path fill="#133b07" d="M27.15 220.70H29.17V226.20H27.15zM279.34 225.80H281.36V231.30H279.34z"/>
<path fill="#890808" d="M28.77 220.70H30.78V226.20H28.77zM51.40 220.70H53.41V226.20H51.40zM122.53 225.80H124.55V231.30H122.53z"/>
<path fill="#8d0808" d="M30.38 220.70H32.40V226.20H30.38zM109.60 220.70H111.61V226.20H109.60zM376.34 241.10H378.35V246.60H376.34zM407.05 246.20H409.07V251.70H407.05zM276.11 251.30H278.12V256.80H276.11z"/>
<path fill="#2d8912" d="M32.00 220.70H34.02V226.20H32.00zM258.32 225.80H260.34V231.30H258.32zM117.68 230.90H119.70V236.40H117.68zM339.15 251.30H341.17V256.80H339.15zM365.02 251.30H367.04V256.80H365.02zM368.25 251.30H370.27V256.80H368.25z"/>
<path fill="#370606" d="M35.23 220.70H37.25V226.20H35.23zM397.35 225.80H399.37V231.30H397.35zM177.49 230.90H179.51V236.40H177.49z"/>
<path fill="#c30909" d="M36.85 220.70H38.87V226.20H36.85zM394.12 230.90H396.14V236.40H394.12zM242.16 241.10H244.17V246.60H242.16zM379.57 246.20H381.59V251.70H379.57z"/>
<path fill="#164909" d="M38.47 220.70H40.48V226.20H38.47zM272.87 220.70H274.89V226.20H272.87zM347.24 225.80H349.25V231.30H347.24z"/>
<path fill="#590707" d="M41.70 220.70H43.72V226.20H41.70zM200.13 220.70H202.14V226.20H200.13zM180.73 225.80H182.74V231.30H180.73zM138.69 251.30H140.71V256.80H138.69z"/>
<path fill="#2c0606" d="M43.32 220.70H45.33V226.20H43.32zM221.14 220.70H223.16V226.20H221.14zM192.04 230.90H194.06V236.40H192.04zM392.50 246.20H394.52V251.70H392.50z"/>
<path fill="#bd0909" d="M44.93 220.70H46.95V226.20H44.93zM234.07 230.90H236.09V236.40H234.07zM151.63 236.00H153.64V241.50H151.63zM112.83 241.10H114.85V246.60H112.83zM208.21 241.10H210.23V246.60H208.21z"/>
<path fill="#185209" d="M46.55 220.70H48.56V226.20H46.55zM69.18 220.70H71.20V226.20H69.18zM255.09 220.70H257.11V226.20H255.09z"/>
<path fill="#63de27" d="M48.16 220.70H50.18V226.20H48.16zM303.59 246.20H305.61V251.70H303.59zM4.52 251.30H6.53V256.80H4.52zM156.48 251.30H158.49V256.80H156.48z"/>
<path fill="#309013" d="M57.86 220.70H59.88V226.20H57.86zM198.51 225.80H200.53V231.30H198.51zM377.95 225.80H379.97V231.30H377.95zM77.26 230.90H79.28V236.40H77.26zM227.61 251.30H229.62V256.80H227.61z"/>
<path fill="#144308" d="M61.10 220.70H63.11V226.20H61.10zM382.80 225.80H384.82V231.30H382.80zM125.76 246.20H127.78V251.70H125.76z"/>
<path fill="#133f08" d="M62.71 220.70H64.73V226.20H62.71zM400.58 220.70H402.60V226.20H400.58z"/>
<path fill="#22700d" d="M64.33 220.70H66.35V226.20H64.33zM287.42 220.70H289.44V226.20H287.42zM313.29 220.70H315.30V226.20H313.29zM356.94 220.70H358.95V226.20H356.94zM206.59 230.90H208.61V236.40H206.59zM339.15 236.00H341.17V241.50H339.15zM133.85 246.20H135.86V251.70H133.85zM219.53 246.20H221.54V251.70H219.53zM268.02 246.20H270.04V251.70H268.02zM439.38 251.30H441.40V256.80H439.38z"/>
<path fill="#102a06" d="M72.41 220.70H74.43V226.20H72.41zM353.70 220.70H355.72V226.20H353.70z"/>
<path fill="#a10808" d="M75.65 220.70H77.66V226.20H75.65zM424.83 230.90H426.85V236.40H424.83zM56.25 236.00H58.26V241.50H56.25zM250.24 241.10H252.26V246.60H250.24zM38.47 251.30H40.48V256.80H38.47z"/>
<path fill="#450606" d="M77.26 220.70H79.28V226.20H77.26zM261.56 230.90H263.57V236.40H261.56zM377.95 230.90H379.97V236.40H377.95zM59.48 236.00H61.50V241.50H59.48z"/>
<path fill="#175009" d="M78.88 220.70H80.90V226.20H78.88zM150.01 220.70H152.03V226.20H150.01zM369.87 246.20H371.89V251.70H369.87zM374.72 251.30H376.74V256.80H374.72z"/>
<path fill="#b50808" d="M83.73 220.70H85.75V226.20H83.73zM285.81 230.90H287.82V236.40H285.81zM431.30 230.90H433.32V236.40H431.30zM379.57 236.00H381.59V241.50H379.57zM70.80 251.30H72.81V256.80H70.80zM297.12 251.30H299.14V256.80H297.12z"/>
<path fill="#102906" d="M90.20 220.70H92.21V226.20H90.20z"/>
<path fill="#102c06" d="M93.43 220.70H95.45V226.20H93.43zM289.04 251.30H291.06V256.80H289.04z"/>
<path fill="#6d0707" d="M96.66 220.70H98.68V226.20H96.66zM187.19 225.80H189.21V231.30H187.19zM268.02 230.90H270.04V236.40H268.02zM384.42 230.90H386.44V236.40H384.42zM410.28 230.90H412.30V236.40H410.28zM395.74 246.20H397.75V251.70H395.74z"/>
<path fill="#389d16" d="M98.28 220.70H100.30V226.20H98.28z"/>
<path fill="#270606" d="M101.51 220.70H103.53V226.20H101.51zM104.75 225.80H106.76V231.30H104.75zM300.36 225.80H302.37V231.30H300.36z"/>
<path fill="#4d0707" d="M103.13 220.70H105.15V226.20H103.13zM154.86 225.80H156.88V231.30H154.86zM112.83 230.90H114.85V236.40H112.83zM418.37 230.90H420.38V236.40H418.37zM256.71 236.00H258.72V241.50H256.71zM373.10 251.30H375.12V256.80H373.10z"/>
<path fill="#7a0707" d="M111.21 220.70H113.23V226.20H111.21zM337.54 236.00H339.55V241.50H337.54zM247.01 251.30H249.02V256.80H247.01z"/>
<path fill="#840808" d="M112.83 220.70H114.85V226.20H112.83zM204.98 220.70H206.99V226.20H204.98zM204.98 225.80H206.99V231.30H204.98zM253.47 236.00H255.49V241.50H253.47zM389.27 246.20H391.29V251.70H389.27z"/>
<path fill="#4e0707" d="M116.06 220.70H118.08V226.20H116.06zM167.79 251.30H169.81V256.80H167.79zM334.30 251.30H336.32V256.80H334.30z"/>
<path fill="#0e1d06" d="M117.68 220.70H119.70V226.20H117.68z"/>
<path fill="#0e1c06" d="M119.30 220.70H121.31V226.20H119.30zM297.12 246.20H299.14V251.70H297.12z"/>
<path fill="#660707" d="M120.91 220.70H122.93V226.20H120.91z"/>
<path fill="#920808" d="M122.53 220.70H124.55V226.20H122.53zM82.11 230.90H84.13V236.40H82.11z"/>
<path fill="#349714" d="M127.38 220.70H129.40V226.20H127.38zM426.45 225.80H428.47V231.30H426.45zM162.94 246.20H164.96V251.70H162.94zM279.34 246.20H281.36V251.70H279.34zM171.03 251.30H173.04V256.80H171.03zM350.47 251.30H352.49V256.80H350.47z"/>
<path fill="#40ac19" d="M129.00 220.70H131.01V226.20H129.00zM313.29 230.90H315.30V236.40H313.29zM369.87 251.30H371.89V256.80H369.87z"/>
<path fill="#420606" d="M135.46 220.70H137.48V226.20H135.46zM403.82 220.70H405.83V226.20H403.82zM348.85 236.00H350.87V241.50H348.85z"/>
<path fill="#720707" d="M138.69 220.70H140.71V226.20H138.69zM99.90 225.80H101.91V231.30H99.90z"/>
<path fill="#510707" d="M140.31 220.70H142.33V226.20H140.31zM376.34 230.90H378.35V236.40H376.34zM379.57 230.90H381.59V236.40H379.57z"/>
<path fill="#48b81c" d="M143.54 220.70H145.56V226.20H143.54zM180.73 230.90H182.74V236.40H180.73zM67.56 241.10H69.58V246.60H67.56zM437.77 246.20H439.78V251.70H437.77z"/>
<path fill="#226f0d" d="M146.78 220.70H148.79V226.20H146.78zM416.75 225.80H418.77V231.30H416.75zM65.95 230.90H67.96V236.40H65.95z"/>
<path fill="#2a8411" d="M148.39 220.70H150.41V226.20H148.39zM371.49 220.70H373.50V226.20H371.49zM386.04 220.70H388.05V226.20H386.04zM40.08 225.80H42.10V231.30H40.08zM214.68 246.20H216.69V251.70H214.68zM306.82 246.20H308.84V251.70H306.82z"/>
<path fill="#5e0707" d="M153.24 220.70H155.26V226.20H153.24zM216.29 230.90H218.31V236.40H216.29z"/>
<path fill="#164b09" d="M154.86 220.70H156.88V226.20H154.86zM263.17 230.90H265.19V236.40H263.17zM368.25 236.00H370.27V241.50H368.25zM268.02 241.10H270.04V246.60H268.02zM340.77 246.20H342.79V251.70H340.77z"/>
<path fill="#5d0707" d="M161.33 220.70H163.34V226.20H161.33zM196.89 220.70H198.91V226.20H196.89zM276.11 230.90H278.12V236.40H276.11zM17.45 246.20H19.47V251.70H17.45z"/>
<path fill="#ab0808" d="M162.94 220.70H164.96V226.20H162.94zM408.67 225.80H410.68V231.30H408.67zM316.52 230.90H318.54V236.40H316.52zM211.44 241.10H213.46V246.60H211.44zM86.96 251.30H88.98V256.80H86.96z"/>
<path fill="#1a5a0a" d="M164.56 220.70H166.58V226.20H164.56zM171.03 220.70H173.04V226.20H171.03zM232.46 220.70H234.47V226.20H232.46zM319.75 220.70H321.77V226.20H319.75zM59.48 230.90H61.50V236.40H59.48zM295.51 230.90H297.52V236.40H295.51zM353.70 230.90H355.72V236.40H353.70zM96.66 246.20H98.68V251.70H96.66zM287.42 251.30H289.44V256.80H287.42z"/>
<path fill="#5c0707" d="M167.79 220.70H169.81V226.20H167.79zM280.96 230.90H282.97V236.40H280.96zM255.09 251.30H257.11V256.80H255.09zM280.96 251.30H282.97V256.80H280.96z"/>
<path fill="#277c0f" d="M169.41 220.70H171.43V226.20H169.41zM331.07 220.70H333.09V226.20H331.07zM62.71 225.80H64.73V231.30H62.71zM151.63 230.90H153.64V236.40H151.63zM287.42 236.00H289.44V241.50H287.42zM327.84 241.10H329.85V246.60H327.84zM148.39 246.20H150.41V251.70H148.39zM242.16 246.20H244.17V251.70H242.16z"/>
<path fill="#4b0707" d="M174.26 220.70H176.28V226.20H174.26z"/>
<path fill="#277d10" d="M177.49 220.70H179.51V226.20H177.49zM390.89 251.30H392.90V256.80H390.89z"/>
<path fill="#1e640c" d="M182.34 220.70H184.36V226.20H182.34zM348.85 246.20H350.87V251.70H348.85z"/>
<path fill="#830808" d="M183.96 220.70H185.98V226.20H183.96zM7.75 230.90H9.77V236.40H7.75z"/>
<path fill="#113107" d="M185.58 220.70H187.59V226.20H185.58z"/>
<path fill="#5b0707" d="M187.19 220.70H189.21V226.20H187.19zM415.13 225.80H417.15V231.30H415.13zM19.07 230.90H21.08V236.40H19.07zM326.22 246.20H328.24V251.70H326.22z"/>
<path fill="#ba0909" d="M188.81 220.70H190.83V226.20H188.81zM319.75 246.20H321.77V251.70H319.75z"/>
<path fill="#174e09" d="M190.43 220.70H192.44V226.20H190.43zM355.32 220.70H357.34V226.20H355.32zM193.66 246.20H195.68V251.70H193.66zM308.44 246.20H310.45V251.70H308.44z"/>
<path fill="#113007" d="M193.66 220.70H195.68V226.20H193.66zM365.02 220.70H367.04V226.20H365.02zM369.87 220.70H371.89V226.20H369.87zM10.98 225.80H13.00V231.30H10.98zM203.36 246.20H205.38V251.70H203.36z"/>
<path fill="#123707" d="M195.28 220.70H197.29V226.20H195.28zM387.65 220.70H389.67V226.20H387.65zM292.27 225.80H294.29V231.30H292.27zM327.84 236.00H329.85V241.50H327.84zM293.89 251.30H295.91V256.80H293.89z"/>
<path fill="#4bbc1d" d="M206.59 220.70H208.61V226.20H206.59zM203.36 251.30H205.38V256.80H203.36z"/>
<path fill="#790707" d="M213.06 220.70H215.08V226.20H213.06zM240.54 230.90H242.56V236.40H240.54zM250.24 230.90H252.26V236.40H250.24zM287.42 230.90H289.44V236.40H287.42zM57.86 236.00H59.88V241.50H57.86z"/>
<path fill="#3e0606" d="M214.68 220.70H216.69V226.20H214.68zM418.37 246.20H420.38V251.70H418.37zM234.07 251.30H236.09V256.80H234.07z"/>
<path fill="#0f2006" d="M216.29 220.70H218.31V226.20H216.29zM256.71 225.80H258.72V231.30H256.71zM356.94 241.10H358.95V246.60H356.94z"/>
<path fill="#6e0707" d="M222.76 220.70H224.77V226.20H222.76z"/>
<path fill="#175109" d="M224.37 220.70H226.39V226.20H224.37z"/>
<path fill="#350606" d="M229.22 220.70H231.24V226.20H229.22zM256.71 220.70H258.72V226.20H256.71zM322.99 230.90H325.00V236.40H322.99zM204.98 241.10H206.99V246.60H204.98zM143.54 251.30H145.56V256.80H143.54zM324.60 251.30H326.62V256.80H324.60z"/>
<path fill="#216d0d" d="M234.07 220.70H236.09V226.20H234.07zM7.75 225.80H9.77V231.30H7.75zM200.13 230.90H202.14V236.40H200.13zM137.08 236.00H139.09V241.50H137.08z"/>
<path fill="#113307" d="M235.69 220.70H237.71V226.20H235.69zM352.09 220.70H354.10V226.20H352.09zM119.30 225.80H121.31V231.30H119.30zM419.98 225.80H422.00V231.30H419.98z"/>
<path fill="#6a0707" d="M237.31 220.70H239.32V226.20H237.31z"/>
<path fill="#1d620b" d="M243.77 220.70H245.79V226.20H243.77zM434.53 220.70H436.55V226.20H434.53zM227.61 225.80H229.62V231.30H227.61zM19.07 246.20H21.08V251.70H19.07zM91.81 246.20H93.83V251.70H91.81zM415.13 251.30H417.15V256.80H415.13z"/>
<path fill="#680707" d="M247.01 220.70H249.02V226.20H247.01z"/>
<path fill="#1e670c" d="M248.62 220.70H250.64V226.20H248.62zM269.64 230.90H271.66V236.40H269.64zM106.36 251.30H108.38V256.80H106.36zM214.68 251.30H216.69V256.80H214.68z"/>
<path fill="#320606" d="M253.47 220.70H255.49V226.20H253.47z"/>
<path fill="#339414" d="M258.32 220.70H260.34V226.20H258.32zM30.38 225.80H32.40V231.30H30.38zM400.58 225.80H402.60V231.30H400.58zM243.77 230.90H245.79V236.40H243.77zM301.97 246.20H303.99V251.70H301.97z"/>
<path fill="#216e0d" d="M264.79 220.70H266.81V226.20H264.79zM366.64 220.70H368.65V226.20H366.64zM377.95 220.70H379.97V226.20H377.95zM9.37 225.80H11.38V231.30H9.37zM284.19 225.80H286.21V231.30H284.19zM62.71 241.10H64.73V246.60H62.71zM161.33 246.20H163.34V251.70H161.33zM434.53 251.30H436.55V256.80H434.53z"/>
<path fill="#19580a" d="M266.41 220.70H268.42V226.20H266.41z"/>
<path fill="#130606" d="M269.64 220.70H271.66V226.20H269.64z"/>
<path fill="#206a0c" d="M271.26 220.70H273.27V226.20H271.26z"/>
<path fill="#ac0808" d="M276.11 220.70H278.12V226.20H276.11zM424.83 246.20H426.85V251.70H424.83z"/>
<path fill="#4bbd1d" d="M279.34 220.70H281.36V226.20H279.34zM153.24 230.90H155.26V236.40H153.24zM368.25 241.10H370.27V246.60H368.25zM14.22 246.20H16.23V251.70H14.22z"/>
<path fill="#216f0d" d="M280.96 220.70H282.97V226.20H280.96zM213.06 246.20H215.08V251.70H213.06z"/>
<path fill="#7b0707" d="M285.81 220.70H287.82V226.20H285.81zM369.87 230.90H371.89V236.40H369.87zM329.45 236.00H331.47V241.50H329.45z"/>
<path fill="#18530a" d="M290.66 220.70H292.67V226.20H290.66zM429.68 220.70H431.70V226.20H429.68zM138.69 225.80H140.71V231.30H138.69zM109.60 230.90H111.61V236.40H109.60zM32.00 246.20H34.02V251.70H32.00zM111.21 246.20H113.23V251.70H111.21zM127.38 246.20H129.40V251.70H127.38zM400.58 246.20H402.60V251.70H400.58zM400.58 251.30H402.60V256.80H400.58z"/>
<path fill="#1e660c" d="M293.89 220.70H295.91V226.20H293.89zM384.42 220.70H386.44V226.20H384.42zM437.77 220.70H439.78V226.20H437.77zM86.96 225.80H88.98V231.30H86.96zM426.45 236.00H428.47V241.50H426.45zM222.76 246.20H224.77V251.70H222.76zM269.64 251.30H271.66V256.80H269.64z"/>
<path fill="#26790f" d="M295.51 220.70H297.52V226.20H295.51zM314.90 220.70H316.92V226.20H314.90zM311.67 246.20H313.69V251.70H311.67zM332.69 251.30H334.70V256.80H332.69z"/>
<path fill="#1e650c" d="M297.12 220.70H299.14V226.20H297.12zM373.10 220.70H375.12V226.20H373.10zM117.68 225.80H119.70V231.30H117.68zM130.61 225.80H132.63V231.30H130.61zM4.52 230.90H6.53V236.40H4.52zM141.93 236.00H143.94V241.50H141.93zM117.68 246.20H119.70V251.70H117.68zM305.21 246.20H307.22V251.70H305.21zM335.92 246.20H337.94V251.70H335.92z"/>
<path fill="#23740e" d="M298.74 220.70H300.76V226.20H298.74zM345.62 230.90H347.64V236.40H345.62z"/>
<path fill="#174d09" d="M303.59 220.70H305.61V226.20H303.59zM415.13 220.70H417.15V226.20H415.13zM282.57 225.80H284.59V231.30H282.57zM95.05 251.30H97.06V256.80H95.05z"/>
<path fill="#206c0d" d="M308.44 220.70H310.45V226.20H308.44zM436.15 220.70H438.17V226.20H436.15z"/>
<path fill="#359815" d="M311.67 220.70H313.69V226.20H311.67zM130.61 230.90H132.63V236.40H130.61z"/>
<path fill="#19550a" d="M318.14 220.70H320.15V226.20H318.14z"/>
<path fill="#0e1306" d="M322.99 220.70H325.00V226.20H322.99zM32.00 225.80H34.02V231.30H32.00zM158.09 225.80H160.11V231.30H158.09zM436.15 230.90H438.17V236.40H436.15z"/>
<path fill="#1b5c0b" d="M326.22 220.70H328.24V226.20H326.22zM366.64 236.00H368.65V241.50H366.64zM379.57 241.10H381.59V246.60H379.57z"/>
<path fill="#2c8711" d="M329.45 220.70H331.47V226.20H329.45zM174.26 246.20H176.28V251.70H174.26zM224.37 246.20H226.39V251.70H224.37zM292.27 246.20H294.29V251.70H292.27zM313.29 246.20H315.30V251.70H313.29zM421.60 251.30H423.62V256.80H421.60z"/>
<path fill="#2e0606" d="M335.92 220.70H337.94V226.20H335.92zM374.72 220.70H376.74V226.20H374.72zM402.20 225.80H404.22V231.30H402.20z"/>
<path fill="#0e1906" d="M337.54 220.70H339.55V226.20H337.54z"/>
<path fill="#1c610b" d="M339.15 220.70H341.17V226.20H339.15zM19.07 225.80H21.08V231.30H19.07zM219.53 251.30H221.54V256.80H219.53zM326.22 251.30H328.24V256.80H326.22z"/>
<path fill="#123607" d="M344.00 220.70H346.02V226.20H344.00zM44.93 225.80H46.95V231.30H44.93zM103.13 246.20H105.15V251.70H103.13z"/>
<path fill="#1c5e0b" d="M347.24 220.70H349.25V226.20H347.24zM177.49 225.80H179.51V231.30H177.49zM122.53 230.90H124.55V236.40H122.53zM57.86 246.20H59.88V251.70H57.86z"/>
<path fill="#133d08" d="M350.47 220.70H352.49V226.20H350.47zM90.20 251.30H92.21V256.80H90.20z"/>
<path fill="#267b0f" d="M360.17 220.70H362.19V226.20H360.17zM69.18 251.30H71.20V256.80H69.18z"/>
<path fill="#102e07" d="M361.79 220.70H363.80V226.20H361.79zM329.45 251.30H331.47V256.80H329.45z"/>
<path fill="#2d0606" d="M363.40 220.70H365.42V226.20H363.40zM48.16 230.90H50.18V236.40H48.16z"/>
<path fill="#144108" d="M379.57 220.70H381.59V226.20H379.57zM389.27 225.80H391.29V231.30H389.27zM65.95 236.00H67.96V241.50H65.95z"/>
<path fill="#144408" d="M382.80 220.70H384.82V226.20H382.80zM426.45 220.70H428.47V226.20H426.45zM36.85 225.80H38.87V231.30H36.85zM96.66 225.80H98.68V231.30H96.66zM133.85 225.80H135.86V231.30H133.85zM185.58 230.90H187.59V236.40H185.58z"/>
<path fill="#1a590a" d="M389.27 220.70H391.29V226.20H389.27zM4.52 225.80H6.53V231.30H4.52zM360.17 230.90H362.19V236.40H360.17zM25.53 246.20H27.55V251.70H25.53z"/>
<path fill="#133e08" d="M390.89 220.70H392.90V226.20H390.89zM91.81 236.00H93.83V241.50H91.81z"/>
<path fill="#174f09" d="M398.97 220.70H400.98V226.20H398.97zM418.37 220.70H420.38V226.20H418.37zM222.76 230.90H224.77V236.40H222.76z"/>
<path fill="#1f690c" d="M405.43 220.70H407.45V226.20H405.43zM431.30 220.70H433.32V226.20H431.30zM439.38 225.80H441.40V231.30H439.38zM75.65 230.90H77.66V236.40H75.65z"/>
<path fill="#102b06" d="M407.05 220.70H409.07V226.20H407.05zM171.03 225.80H173.04V231.30H171.03z"/>
<path fill="#154608" d="M413.52 220.70H415.53V226.20H413.52zM423.22 220.70H425.23V226.20H423.22zM12.60 230.90H14.62V236.40H12.60zM345.62 236.00H347.64V241.50H345.62zM352.09 236.00H354.10V241.50H352.09zM4.52 246.20H6.53V251.70H4.52zM353.70 246.20H355.72V251.70H353.70z"/>
<path fill="#1b5e0b" d="M421.60 220.70H423.62V226.20H421.60zM43.32 225.80H45.33V231.30H43.32zM305.21 230.90H307.22V236.40H305.21zM285.81 251.30H287.82V256.80H285.81z"/>
<path fill="#610707" d="M14.22 225.80H16.23V231.30H14.22z"/>
<path fill="#102f07" d="M20.68 225.80H22.70V231.30H20.68zM332.69 236.00H334.70V241.50H332.69zM387.65 251.30H389.67V256.80H387.65z"/>
<path fill="#25770f" d="M27.15 225.80H29.17V231.30H27.15zM342.39 241.10H344.40V246.60H342.39z"/>
<path fill="#5ed825" d="M33.62 225.80H35.63V231.30H33.62zM203.36 225.80H205.38V231.30H203.36zM192.04 246.20H194.06V251.70H192.04z"/>
<path fill="#75f32e" d="M35.23 225.80H37.25V231.30H35.23zM250.24 225.80H252.26V231.30H250.24z"/>
<path fill="#73f02d" d="M41.70 225.80H43.72V231.30H41.70zM314.90 236.00H316.92V241.50H314.90zM277.72 241.10H279.74V246.60H277.72zM322.99 246.20H325.00V251.70H322.99z"/>
<path fill="#670707" d="M48.16 225.80H50.18V231.30H48.16zM166.18 241.10H168.19V246.60H166.18zM352.09 241.10H354.10V246.60H352.09zM397.35 246.20H399.37V251.70H397.35z"/>
<path fill="#2c8811" d="M53.01 225.80H55.03V231.30H53.01zM269.64 225.80H271.66V231.30H269.64zM120.91 246.20H122.93V251.70H120.91zM250.24 246.20H252.26V251.70H250.24z"/>
<path fill="#7c0707" d="M65.95 225.80H67.96V231.30H65.95zM331.07 241.10H333.09V246.60H331.07zM439.38 246.20H441.40V251.70H439.38z"/>
<path fill="#369c15" d="M75.65 225.80H77.66V231.30H75.65z"/>
<path fill="#330606" d="M78.88 225.80H80.90V231.30H78.88zM159.71 246.20H161.73V251.70H159.71z"/>
<path fill="#970808" d="M80.50 225.80H82.51V231.30H80.50zM437.77 230.90H439.78V236.40H437.77zM140.31 241.10H142.33V246.60H140.31z"/>
<path fill="#2b0606" d="M82.11 225.80H84.13V231.30H82.11zM373.10 236.00H375.12V241.50H373.10z"/>
<path fill="#5a0707" d="M88.58 225.80H90.60V231.30H88.58zM255.09 225.80H257.11V231.30H255.09zM345.62 225.80H347.64V231.30H345.62zM72.41 251.30H74.43V256.80H72.41zM208.21 251.30H210.23V256.80H208.21z"/>
<path fill="#910808" d="M90.20 225.80H92.21V231.30H90.20zM119.30 236.00H121.31V241.50H119.30zM161.33 251.30H163.34V256.80H161.33zM256.71 251.30H258.72V256.80H256.71z"/>
<path fill="#68e328" d="M91.81 225.80H93.83V231.30H91.81z"/>
<path fill="#5ed725" d="M101.51 225.80H103.53V231.30H101.51zM214.68 225.80H216.69V231.30H214.68zM247.01 246.20H249.02V251.70H247.01z"/>
<path fill="#410606" d="M106.36 225.80H108.38V231.30H106.36zM331.07 246.20H333.09V251.70H331.07zM353.70 251.30H355.72V256.80H353.70z"/>
<path fill="#650707" d="M111.21 225.80H113.23V231.30H111.21zM371.49 230.90H373.50V236.40H371.49z"/>
<path fill="#a20808" d="M112.83 225.80H114.85V231.30H112.83zM80.50 230.90H82.51V236.40H80.50zM229.22 230.90H231.24V236.40H229.22zM394.12 246.20H396.14V251.70H394.12z"/>
<path fill="#7d0707" d="M127.38 225.80H129.40V231.30H127.38zM318.14 225.80H320.15V231.30H318.14zM379.57 225.80H381.59V231.30H379.57zM405.43 246.20H407.45V251.70H405.43z"/>
<path fill="#a70808" d="M135.46 225.80H137.48V231.30H135.46zM301.97 225.80H303.99V231.30H301.97zM395.74 230.90H397.75V236.40H395.74zM135.46 236.00H137.48V241.50H135.46zM326.22 241.10H328.24V246.60H326.22z"/>
<path fill="#a60808" d="M137.08 225.80H139.09V231.30H137.08zM326.22 225.80H328.24V231.30H326.22zM282.57 230.90H284.59V236.40H282.57zM153.24 236.00H155.26V241.50H153.24zM225.99 236.00H228.01V241.50H225.99zM250.24 236.00H252.26V241.50H250.24zM324.60 236.00H326.62V241.50H324.60zM180.73 241.10H182.74V246.60H180.73zM410.28 246.20H412.30V251.70H410.28z"/>
<path fill="#43b11a" d="M140.31 225.80H142.33V231.30H140.31zM331.07 225.80H333.09V231.30H331.07zM74.03 230.90H76.05V236.40H74.03zM23.92 251.30H25.93V256.80H23.92zM240.54 251.30H242.56V256.80H240.54z"/>
<path fill="#b90909" d="M145.16 225.80H147.18V231.30H145.16z"/>
<path fill="#800707" d="M150.01 225.80H152.03V231.30H150.01zM373.10 225.80H376.74V231.30H373.10z"/>
<path fill="#3aa317" d="M172.64 225.80H174.66V231.30H172.64zM122.53 246.20H124.55V251.70H122.53z"/>
<path fill="#580707" d="M175.88 225.80H177.89V231.30H175.88z"/>
<path fill="#b80808" d="M183.96 225.80H185.98V231.30H183.96z"/>
<path fill="#4f0707" d="M185.58 225.80H187.59V231.30H185.58zM209.83 225.80H211.84V231.30H209.83zM360.17 241.10H362.19V246.60H360.17zM360.17 246.20H362.19V251.70H360.17z"/>
<path fill="#0e0d06" d="M192.04 225.80H194.06V231.30H192.04zM421.60 230.90H423.62V236.40H421.60zM129.00 246.20H131.01V251.70H129.00z"/>
<path fill="#3d0606" d="M195.28 225.80H197.29V231.30H195.28zM22.30 230.90H24.32V236.40H22.30zM340.77 241.10H342.79V246.60H340.77z"/>
<path fill="#69e429" d="M221.14 225.80H223.16V231.30H221.14z"/>
<path fill="#1c5f0b" d="M225.99 225.80H228.01V231.30H225.99zM190.43 246.20H192.44V251.70H190.43zM266.41 246.20H268.42V251.70H266.41z"/>
<path fill="#7ffd31" d="M229.22 225.80H231.24V231.30H229.22z"/>
<path fill="#a80808" d="M230.84 225.80H232.86V231.30H230.84zM297.12 230.90H299.14V236.40H297.12zM221.14 251.30H223.16V256.80H221.14z"/>
<path fill="#1d610b" d="M232.46 225.80H234.47V231.30H232.46zM200.13 251.30H202.14V256.80H200.13z"/>
<path fill="#0e0906" d="M235.69 225.80H237.71V231.30H235.69z"/>
<path fill="#bf0909" d="M237.31 225.80H239.32V231.30H237.31zM247.01 236.00H249.02V241.50H247.01zM56.25 241.10H58.26V246.60H56.25zM103.13 241.10H105.15V246.60H103.13zM214.68 241.10H216.69V246.60H214.68z"/>
<path fill="#6c0707" d="M240.54 225.80H242.56V231.30H240.54zM57.86 241.10H59.88V246.60H57.86zM132.23 241.10H134.25V246.60H132.23z"/>
<path fill="#870808" d="M245.39 225.80H247.41V231.30H245.39zM36.85 230.90H38.87V236.40H36.85zM332.69 241.10H334.70V246.60H332.69zM344.00 241.10H346.02V246.60H344.00z"/>
<path fill="#45b41b" d="M251.86 225.80H253.87V231.30H251.86zM20.68 230.90H22.70V236.40H20.68zM230.84 246.20H232.86V251.70H230.84zM431.30 251.30H433.32V256.80H431.30z"/>
<path fill="#9c0808" d="M253.47 225.80H255.49V231.30H253.47z"/>
<path fill="#780707" d="M261.56 225.80H263.57V231.30H261.56z"/>
<path fill="#0f2406" d="M266.41 225.80H268.42V231.30H266.41zM298.74 225.80H300.76V231.30H298.74z"/>
<path fill="#58d022" d="M268.02 225.80H270.04V231.30H268.02zM389.27 236.00H391.29V241.50H389.27z"/>
<path fill="#18520a" d="M271.26 225.80H273.27V231.30H271.26z"/>
<path fill="#60da26" d="M274.49 225.80H276.51V231.30H274.49zM15.83 246.20H17.85V251.70H15.83z"/>
<path fill="#900808" d="M280.96 225.80H282.97V231.30H280.96zM227.61 230.90H229.62V236.40H227.61zM314.90 230.90H316.92V236.40H314.90zM350.47 246.20H352.49V251.70H350.47zM361.79 251.30H363.80V256.80H361.79z"/>
<path fill="#0e0c06" d="M293.89 225.80H295.91V231.30H293.89z"/>
<path fill="#b20808" d="M303.59 225.80H305.61V231.30H303.59zM43.32 230.90H45.33V236.40H43.32zM377.95 236.00H379.97V241.50H377.95zM137.08 241.10H139.09V246.60H137.08z"/>
<path fill="#880808" d="M306.82 225.80H308.84V231.30H306.82zM96.66 230.90H98.68V236.40H96.66zM337.54 230.90H339.55V236.40H337.54z"/>
<path fill="#d00909" d="M311.67 225.80H313.69V231.30H311.67zM201.74 236.00H203.76V241.50H201.74zM308.44 251.30H310.45V256.80H308.44z"/>
<path fill="#59d023" d="M319.75 225.80H321.77V231.30H319.75zM407.05 230.90H409.07V236.40H407.05zM96.66 236.00H98.68V241.50H96.66z"/>
<path fill="#530707" d="M321.37 225.80H323.39V231.30H321.37zM334.30 230.90H336.32V236.40H334.30z"/>
<path fill="#be0909" d="M322.99 225.80H325.00V231.30H322.99zM290.66 230.90H292.67V236.40H290.66z"/>
<path fill="#7cfa30" d="M327.84 225.80H329.85V231.30H327.84z"/>
<path fill="#210606" d="M335.92 225.80H337.94V231.30H335.92zM439.38 236.00H441.40V241.50H439.38z"/>
<path fill="#0e0a06" d="M340.77 225.80H342.79V231.30H340.77z"/>
<path fill="#540707" d="M344.00 225.80H346.02V231.30H344.00z"/>
<path fill="#319013" d="M350.47 225.80H352.49V231.30H350.47z"/>
<path fill="#19540a" d="M355.32 225.80H357.34V231.30H355.32zM206.59 251.30H208.61V256.80H206.59z"/>
<path fill="#a50808" d="M361.79 225.80H363.80V231.30H361.79zM284.19 230.90H286.21V236.40H284.19zM185.58 236.00H187.59V241.50H185.58z"/>
<path fill="#940808" d="M365.02 225.80H367.04V231.30H365.02zM104.75 236.00H106.76V241.50H104.75zM72.41 241.10H74.43V246.60H72.41zM167.79 241.10H169.81V246.60H167.79z"/>
<path fill="#1d630b" d="M366.64 225.80H368.65V231.30H366.64z"/>
<path fill="#3ba317" d="M368.25 225.80H370.27V231.30H368.25zM180.73 251.30H182.74V256.80H180.73z"/>
<path fill="#9f0808" d="M369.87 225.80H371.89V231.30H369.87zM350.47 230.90H352.49V236.40H350.47zM390.89 230.90H392.90V236.40H390.89zM366.64 241.10H368.65V246.60H366.64zM432.92 246.20H434.93V251.70H432.92z"/>
<path fill="#154708" d="M381.19 225.80H383.20V231.30H381.19zM321.37 241.10H323.39V246.60H321.37z"/>
<path fill="#0f2306" d="M384.42 225.80H386.44V231.30H384.42zM340.77 236.00H342.79V241.50H340.77z"/>
<path fill="#46b61b" d="M390.89 225.80H392.90V231.30H390.89zM132.23 230.90H134.25V236.40H132.23zM297.12 236.00H299.14V241.50H297.12zM51.40 246.20H53.41V251.70H51.40zM271.26 246.20H273.27V251.70H271.26z"/>
<path fill="#290606" d="M403.82 225.80H405.83V231.30H403.82zM398.97 246.20H400.98V251.70H398.97z"/>
<path fill="#3a0606" d="M405.43 225.80H407.45V231.30H405.43z"/>
<path fill="#5cd424" d="M411.90 225.80H413.92V231.30H411.90zM225.99 230.90H228.01V236.40H225.99zM272.87 230.90H274.89V236.40H272.87zM33.62 251.30H35.63V256.80H33.62z"/>
<path fill="#9d0808" d="M418.37 225.80H420.38V231.30H418.37zM340.77 230.90H342.79V236.40H340.77z"/>
<path fill="#7efd31" d="M428.07 225.80H430.08V231.30H428.07zM125.76 230.90H127.78V236.40H125.76zM289.04 236.00H291.06V241.50H289.04zM258.32 246.20H260.34V251.70H258.32z"/>
<path fill="#0f2506" d="M434.53 225.80H436.55V231.30H434.53zM138.69 236.00H140.71V241.50H138.69zM64.33 246.20H66.35V251.70H64.33zM166.18 246.20H168.19V251.70H166.18zM437.77 251.30H439.78V256.80H437.77z"/>
<path fill="#298210" d="M437.77 225.80H439.78V231.30H437.77zM347.24 236.00H349.25V241.50H347.24z"/>
<path fill="#164c09" d="M10.98 230.90H13.00V236.40H10.98zM279.34 236.00H281.36V241.50H279.34z"/>
<path fill="#0e1006" d="M35.23 230.90H37.25V236.40H35.23zM428.07 230.90H430.08V236.40H428.07z"/>
<path fill="#7dfb30" d="M44.93 230.90H46.95V236.40H44.93zM166.18 230.90H168.19V236.40H166.18zM306.82 241.10H308.84V246.60H306.82z"/>
<path fill="#59d123" d="M53.01 230.90H55.03V236.40H53.01zM423.22 236.00H425.23V241.50H423.22zM70.80 241.10H72.81V246.60H70.80zM237.31 246.20H239.32V251.70H237.31z"/>
<path fill="#630707" d="M54.63 230.90H56.65V236.40H54.63zM348.85 230.90H350.87V236.40H348.85zM187.19 251.30H189.21V256.80H187.19z"/>
<path fill="#2d8a12" d="M56.25 230.90H58.26V236.40H56.25zM402.20 236.00H404.22V241.50H402.20zM185.58 246.20H187.59V251.70H185.58zM316.52 246.20H318.54V251.70H316.52zM43.32 251.30H45.33V256.80H43.32z"/>
<path fill="#2a8310" d="M62.71 230.90H64.73V236.40H62.71zM355.32 236.00H357.34V241.50H355.32zM158.09 246.20H160.11V251.70H158.09z"/>
<path fill="#560707" d="M90.20 230.90H92.21V236.40H90.20z"/>
<path fill="#b80909" d="M101.51 230.90H103.53V236.40H101.51zM413.52 230.90H415.53V236.40H413.52zM329.45 246.20H331.47V251.70H329.45z"/>
<path fill="#399f16" d="M103.13 230.90H105.15V236.40H103.13zM394.12 236.00H396.14V241.50H394.12zM248.62 246.20H250.64V251.70H248.62z"/>
<path fill="#520707" d="M106.36 230.90H108.38V236.40H106.36zM232.46 236.00H234.47V241.50H232.46z"/>
<path fill="#78f62f" d="M107.98 230.90H110.00V236.40H107.98zM403.82 236.00H405.83V241.50H403.82zM428.07 241.10H430.08V246.60H428.07z"/>
<path fill="#0e1406" d="M135.46 230.90H137.48V236.40H135.46z"/>
<path fill="#9e0808" d="M141.93 230.90H143.94V236.40H141.93zM213.06 241.10H215.08V246.60H213.06z"/>
<path fill="#2a0606" d="M143.54 230.90H145.56V236.40H143.54z"/>
<path fill="#1d0606" d="M167.79 230.90H169.81V236.40H167.79z"/>
<path fill="#690707" d="M169.41 230.90H171.43V236.40H169.41zM237.31 230.90H239.32V236.40H237.31zM164.56 251.30H166.58V256.80H164.56z"/>
<path fill="#5f0707" d="M174.26 230.90H176.28V236.40H174.26zM32.00 251.30H34.02V256.80H32.00zM305.21 251.30H307.22V256.80H305.21z"/>
<path fill="#41ae1a" d="M190.43 230.90H192.44V236.40H190.43zM175.88 246.20H177.89V251.70H175.88z"/>
<path fill="#4ec21e" d="M217.91 230.90H219.93V236.40H217.91zM266.41 241.10H268.42V246.60H266.41z"/>
<path fill="#c10909" d="M271.26 230.90H273.27V236.40H271.26zM373.10 230.90H375.12V236.40H373.10zM405.43 230.90H407.45V236.40H405.43zM188.81 236.00H190.83V241.50H188.81zM198.51 236.00H200.53V241.50H198.51zM321.37 236.00H323.39V241.50H321.37z"/>
<path fill="#750707" d="M274.49 230.90H276.51V236.40H274.49zM80.50 241.10H82.51V246.60H80.50zM251.86 241.10H253.87V246.60H251.86zM348.85 251.30H350.87V256.80H348.85z"/>
<path fill="#480606" d="M292.27 230.90H294.29V236.40H292.27z"/>
<path fill="#3f0606" d="M298.74 230.90H300.76V236.40H298.74zM114.45 246.20H116.46V251.70H114.45z"/>
<path fill="#2f0606" d="M300.36 230.90H302.37V236.40H300.36z"/>
<path fill="#8a0808" d="M301.97 230.90H303.99V236.40H301.97z"/>
<path fill="#cf0909" d="M324.60 230.90H326.62V236.40H324.60zM230.84 236.00H232.86V241.50H230.84zM319.75 241.10H321.77V246.60H319.75z"/>
<path fill="#123907" d="M327.84 230.90H329.85V236.40H327.84z"/>
<path fill="#8f0808" d="M339.15 230.90H341.17V236.40H339.15zM127.38 251.30H129.40V256.80H127.38zM295.51 251.30H297.52V256.80H295.51z"/>
<path fill="#1b0606" d="M361.79 230.90H363.80V236.40H361.79z"/>
<path fill="#42b01a" d="M363.40 230.90H365.42V236.40H363.40z"/>
<path fill="#3b0606" d="M381.19 230.90H383.20V236.40H381.19z"/>
<path fill="#820808" d="M382.80 230.90H384.82V236.40H382.80zM386.04 246.20H388.05V251.70H386.04zM44.93 251.30H46.95V256.80H44.93zM259.94 251.30H261.96V256.80H259.94z"/>
<path fill="#d30909" d="M397.35 230.90H399.37V236.40H397.35zM255.09 236.00H257.11V241.50H255.09z"/>
<path fill="#240606" d="M400.58 230.90H402.60V236.40H400.58z"/>
<path fill="#45b51b" d="M402.20 230.90H404.22V236.40H402.20z"/>
<path fill="#4a0707" d="M415.13 230.90H417.15V236.40H415.13zM153.24 251.30H155.26V256.80H153.24zM192.04 251.30H194.06V256.80H192.04zM284.19 251.30H286.21V256.80H284.19z"/>
<path fill="#25790f" d="M416.75 230.90H418.77V236.40H416.75zM137.08 246.20H139.09V251.70H137.08zM355.32 251.30H357.34V256.80H355.32z"/>
<path fill="#740707" d="M43.32 236.00H45.33V241.50H43.32zM162.94 241.10H164.96V246.60H162.94zM245.39 241.10H247.41V246.60H245.39z"/>
<path fill="#c80909" d="M54.63 236.00H56.65V241.50H54.63zM342.39 246.20H344.40V251.70H342.39z"/>
<path fill="#154508" d="M62.71 236.00H64.73V241.50H62.71zM344.00 246.20H346.02V251.70H344.00z"/>
<path fill="#267a0f" d="M67.56 236.00H69.58V241.50H67.56zM295.51 246.20H297.52V251.70H295.51zM403.82 251.30H405.83V256.80H403.82z"/>
<path fill="#a90808" d="M107.98 236.00H110.00V241.50H107.98zM335.92 251.30H337.94V256.80H335.92z"/>
<path fill="#bb0909" d="M124.15 236.00H126.16V241.50H124.15zM195.28 236.00H197.29V241.50H195.28zM107.98 241.10H110.00V246.60H107.98zM140.31 251.30H142.33V256.80H140.31z"/>
<path fill="#77f62e" d="M284.19 236.00H286.21V241.50H284.19zM295.51 241.10H297.52V246.60H295.51z"/>
<path fill="#0f2706" d="M305.21 236.00H307.22V241.50H305.21zM407.05 236.00H409.07V241.50H407.05z"/>
<path fill="#74f22d" d="M306.82 236.00H308.84V241.50H306.82zM313.29 241.10H315.30V246.60H313.29z"/>
<path fill="#102d06" d="M322.99 236.00H325.00V241.50H322.99zM177.49 246.20H179.51V251.70H177.49z"/>
<path fill="#d50909" d="M335.92 236.00H337.94V241.50H335.92zM129.00 241.10H131.01V246.60H129.00z"/>
<path fill="#329213" d="M358.55 236.00H360.57V241.50H358.55zM65.95 251.30H67.96V256.80H65.95z"/>
<path fill="#7af930" d="M371.49 236.00H373.50V241.50H371.49z"/>
<path fill="#2f8c12" d="M374.72 236.00H376.74V241.50H374.72z"/>
<path fill="#44b31b" d="M381.19 236.00H383.20V241.50H381.19zM40.08 246.20H42.10V251.70H40.08zM213.06 251.30H215.08V256.80H213.06z"/>
<path fill="#6eea2b" d="M418.37 236.00H420.38V241.50H418.37z"/>
<path fill="#3da818" d="M59.48 241.10H61.50V246.60H59.48zM253.47 246.20H255.49V251.70H253.47z"/>
<path fill="#8b0808" d="M91.81 241.10H93.83V246.60H91.81z"/>
<path fill="#b70808" d="M169.41 241.10H171.43V246.60H169.41zM411.90 246.20H413.92V251.70H411.90zM428.07 246.20H430.08V251.70H428.07z"/>
<path fill="#6be72a" d="M171.03 241.10H173.04V246.60H171.03zM6.13 246.20H8.15V251.70H6.13z"/>
<path fill="#470606" d="M188.81 241.10H190.83V246.60H188.81zM300.36 251.30H302.37V256.80H300.36zM344.00 251.30H346.02V256.80H344.00z"/>
<path fill="#d90909" d="M248.62 241.10H250.64V246.60H248.62zM141.93 251.30H143.94V256.80H141.93zM345.62 251.30H347.64V256.80H345.62z"/>
<path fill="#860808" d="M256.71 241.10H258.72V246.60H256.71zM337.54 246.20H339.55V251.70H337.54zM416.75 246.20H418.77V251.70H416.75z"/>
<path fill="#49ba1d" d="M263.17 241.10H265.19V246.60H263.17zM269.64 246.20H271.66V251.70H269.64z"/>
<path fill="#54c921" d="M276.11 241.10H278.12V246.60H276.11zM334.30 241.10H336.32V246.60H334.30zM171.03 246.20H173.04V251.70H171.03zM225.99 246.20H228.01V251.70H225.99zM285.81 246.20H287.82V251.70H285.81z"/>
<path fill="#70ee2c" d="M311.67 241.10H313.69V246.60H311.67zM83.73 246.20H85.75V251.70H83.73z"/>
<path fill="#6ce92a" d="M318.14 241.10H320.15V246.60H318.14z"/>
<path fill="#56cc21" d="M322.99 241.10H325.00V246.60H322.99z"/>
<path fill="#216c0d" d="M358.55 241.10H360.57V246.60H358.55z"/>
<path fill="#d10909" d="M369.87 241.10H371.89V246.60H369.87z"/>
<path fill="#1f0606" d="M374.72 241.10H376.74V246.60H374.72zM103.13 251.30H105.15V256.80H103.13z"/>
<path fill="#79f82f" d="M426.45 241.10H428.47V246.60H426.45zM363.40 246.20H365.42V251.70H363.40z"/>
<path fill="#51c520" d="M9.37 246.20H11.38V251.70H9.37z"/>
<path fill="#154808" d="M20.68 246.20H22.70V251.70H20.68zM101.51 246.20H103.53V251.70H101.51zM15.83 251.30H17.85V256.80H15.83z"/>
<path fill="#71ef2c" d="M27.15 246.20H29.17V251.70H27.15z"/>
<path fill="#308e13" d="M56.25 246.20H58.26V251.70H56.25z"/>
<path fill="#288010" d="M69.18 246.20H71.20V251.70H69.18z"/>
<path fill="#113407" d="M119.30 246.20H121.31V251.70H119.30z"/>
<path fill="#103007" d="M167.79 246.20H169.81V251.70H167.79z"/>
<path fill="#1a0606" d="M172.64 246.20H174.66V251.70H172.64z"/>
<path fill="#23720e" d="M195.28 246.20H197.29V251.70H195.28zM200.13 246.20H202.14V251.70H200.13z"/>
<path fill="#40ad19" d="M204.98 246.20H206.99V251.70H204.98z"/>
<path fill="#51c620" d="M221.14 246.20H223.16V251.70H221.14zM7.75 251.30H9.77V256.80H7.75z"/>
<path fill="#1b5b0b" d="M282.57 246.20H284.59V251.70H282.57z"/>
<path fill="#69e529" d="M284.19 246.20H286.21V251.70H284.19zM98.28 251.30H100.30V256.80H98.28zM132.23 251.30H134.25V256.80H132.23zM169.41 251.30H171.43V256.80H169.41z"/>
<path fill="#3ca417" d="M289.04 246.20H291.06V251.70H289.04z"/>
<path fill="#0f2606" d="M290.66 246.20H292.67V251.70H290.66z"/>
<path fill="#379c16" d="M293.89 246.20H295.91V251.70H293.89z"/>
<path fill="#700707" d="M321.37 246.20H323.39V251.70H321.37zM436.15 246.20H438.17V251.70H436.15zM177.49 251.30H179.51V256.80H177.49z"/>
<path fill="#490606" d="M324.60 246.20H326.62V251.70H324.60z"/>
<path fill="#570707" d="M387.65 246.20H389.67V251.70H387.65z"/>
<path fill="#4c0707" d="M423.22 246.20H425.23V251.70H423.22zM352.09 251.30H354.10V256.80H352.09z"/>
<path fill="#230606" d="M67.56 251.30H69.58V256.80H67.56z"/>
<path fill="#3c0606" d="M88.58 251.30H90.60V256.80H88.58zM426.45 251.30H428.47V256.80H426.45z"/>
<path fill="#3ca618" d="M120.91 251.30H122.93V256.80H120.91z"/>
<path fill="#300606" d="M183.96 251.30H185.98V256.80H183.96z"/>
<path fill="#49bb1d" d="M188.81 251.30H190.83V256.80H188.81z"/>
<path fill="#8e0808" d="M190.43 251.30H192.44V256.80H190.43z"/>
<path fill="#1a5b0b" d="M316.52 251.30H318.54V256.80H316.52z"/>
<path fill="#4cbe1d" d="M394.12 251.30H396.14V256.80H394.12z"/>
<path fill="#0e1806" d="M395.74 251.30H397.75V256.80H395.74z"/>
</g>
<rect x="3.10" y="258.40" width="29.10" height="1.70" fill="#c8143c"/>
<rect x="32.20" y="258.40" width="4.85" height="1.70" fill="#2a2fd8"/>
<rect x="37.05" y="258.40" width="8.08" height="1.70" fill="#f0a830"/>
<rect x="45.13" y="258.40" width="27.48" height="1.70" fill="#4a86c8"/>
<rect x="72.61" y="258.40" width="29.10" height="1.70" fill="#9a3fe0"/>
<rect x="101.71" y="258.40" width="50.11" height="1.70" fill="#a4dcf2"/>
<rect x="151.83" y="258.40" width="22.63" height="1.70" fill="#f0a830"/>
<rect x="174.46" y="258.40" width="116.40" height="1.70" fill="#2a2fd8"/>
<rect x="290.86" y="258.40" width="29.10" height="1.70" fill="#9ee6de"/>
<rect x="319.95" y="258.40" width="61.43" height="1.70" fill="#f0a830"/>
<rect x="381.39" y="258.40" width="59.81" height="1.70" fill="#3a6fe0"/>
<text x="10.00" y="267.30" font-size="5.40" font-weight="bold" fill="#111" stroke="#111" stroke-width="0.1">MLL/</text>
<text x="5.40" y="273.90" font-size="5.40" font-weight="bold" fill="#111" stroke="#111" stroke-width="0.1">t(11q23)</text>
<text transform="translate(36.20 274.70) rotate(-90)" font-size="5.20" font-weight="bold" fill="#111">t(6;9)</text>
<text transform="translate(43.30 278.90) rotate(-90)" font-size="5.50" font-weight="bold" fill="#111">t(9;22)</text>
<text x="56.30" y="268.00" font-size="5.60" font-weight="bold" fill="#111" stroke="#111" stroke-width="0.1">3q</text>
<text x="84.60" y="268.00" font-size="5.60" font-weight="bold" fill="#111" stroke="#111" stroke-width="0.1">7q</text>
<text x="121.00" y="268.00" font-size="5.40" font-weight="bold" fill="#111" stroke="#111" stroke-width="0.1">+8</text>
<text x="152.50" y="268.00" font-size="5.30" font-weight="bold" fill="#111" stroke="#111" stroke-width="0.1">Complex</text>
<text x="221.00" y="268.00" font-size="5.40" font-weight="bold" fill="#111" stroke="#111" stroke-width="0.1">Other</text>
<text x="297.30" y="268.40" font-size="5.40" font-weight="bold" fill="#111" stroke="#111" stroke-width="0.1">t(51;17)</text>
<text x="343.00" y="268.40" font-size="5.50" font-weight="bold" fill="#111" stroke="#111" stroke-width="0.1">inv(16)</text>
<text x="401.00" y="268.00" font-size="5.30" font-weight="bold" fill="#111" stroke="#111" stroke-width="0.1">t(8;21)</text>
<text x="485.30" y="191.20" font-size="5.40" font-weight="bold" fill="#111" text-anchor="middle" stroke="#111" stroke-width="0.12">Expression correlation</text>
<text x="486.10" y="198.20" font-size="5.4" font-weight="bold" fill="#111" stroke="#111" stroke-width="0.12" text-anchor="middle">with <tspan font-style="italic">HOXA9</tspan></text>
<rect x="464.90" y="201.20" width="44.30" height="0.70" fill="#222"/>
<text x="447.40" y="208.30" font-size="5.40" font-weight="bold" fill="#111" stroke="#111" stroke-width="0.12">Gene</text>
<text x="473.70" y="208.30" font-size="7.40" font-weight="bold" fill="#111" font-style="italic" stroke="#111" stroke-width="0.3">r</text>
<text x="499.60" y="208.70" font-size="6.20" font-weight="bold" fill="#111" font-style="italic" stroke="#111" stroke-width="0.2">P</text>
<text x="446.90" y="215.80" font-size="5.30" font-weight="normal" fill="#585858" font-family="Liberation Mono, monospace">HOXA9</text>
<text x="472.00" y="215.80" font-size="5.30" font-weight="normal" fill="#585858" font-family="Liberation Mono, monospace">-</text>
<text x="495.70" y="216.10" font-size="5.30" font-weight="normal" fill="#585858" font-family="Liberation Mono, monospace">-</text>
<text x="446.90" y="221.03" font-size="5.30" font-weight="normal" fill="#585858" font-family="Liberation Mono, monospace">HOXA7</text>
<text x="472.00" y="221.03" font-size="5.30" font-weight="normal" fill="#585858" font-family="Liberation Mono, monospace">0.88</text>
<text x="495.70" y="221.33" font-size="5.30" font-weight="normal" fill="#585858" font-family="Liberation Mono, monospace">&lt;0.0001</text>
<text x="446.90" y="226.26" font-size="5.30" font-weight="normal" fill="#585858" font-family="Liberation Mono, monospace">HOXA11</text>
<text x="472.00" y="226.26" font-size="5.30" font-weight="normal" fill="#585858" font-family="Liberation Mono, monospace">0.38</text>
<text x="495.70" y="226.56" font-size="5.30" font-weight="normal" fill="#585858" font-family="Liberation Mono, monospace">&lt;0.0001</text>
<text x="446.90" y="231.49" font-size="5.30" font-weight="normal" fill="#585858" font-family="Liberation Mono, monospace">PBX1</text>
<text x="472.00" y="231.49" font-size="5.30" font-weight="normal" fill="#585858" font-family="Liberation Mono, monospace">-0.02</text>
<text x="495.70" y="231.79" font-size="5.30" font-weight="normal" fill="#585858" font-family="Liberation Mono, monospace">0.77</text>
<text x="446.90" y="236.72" font-size="5.30" font-weight="normal" fill="#585858" font-family="Liberation Mono, monospace">PBX2</text>
<text x="472.00" y="236.72" font-size="5.30" font-weight="normal" fill="#585858" font-family="Liberation Mono, monospace">-0.32</text>
<text x="495.70" y="237.02" font-size="5.30" font-weight="normal" fill="#585858" font-family="Liberation Mono, monospace">&lt;0.0001</text>
<text x="446.90" y="241.95" font-size="5.30" font-weight="normal" fill="#585858" font-family="Liberation Mono, monospace">PBX3</text>
<text x="472.00" y="241.95" font-size="5.30" font-weight="normal" fill="#585858" font-family="Liberation Mono, monospace">0.66</text>
<text x="495.70" y="242.25" font-size="5.30" font-weight="normal" fill="#585858" font-family="Liberation Mono, monospace">&lt;0.0001</text>
<text x="446.90" y="247.18" font-size="5.30" font-weight="normal" fill="#585858" font-family="Liberation Mono, monospace">MEIS1</text>
<text x="472.00" y="247.18" font-size="5.30" font-weight="normal" fill="#585858" font-family="Liberation Mono, monospace">0.79</text>
<text x="495.70" y="247.48" font-size="5.30" font-weight="normal" fill="#585858" font-family="Liberation Mono, monospace">&lt;0.0001</text>
<text x="446.90" y="252.41" font-size="5.30" font-weight="normal" fill="#585858" font-family="Liberation Mono, monospace">MEIS2</text>
<text x="472.00" y="252.41" font-size="5.30" font-weight="normal" fill="#585858" font-family="Liberation Mono, monospace">-0.15</text>
<text x="495.70" y="252.71" font-size="5.30" font-weight="normal" fill="#585858" font-family="Liberation Mono, monospace">0.02</text>
<text x="446.90" y="257.64" font-size="5.30" font-weight="normal" fill="#585858" font-family="Liberation Mono, monospace">MEIS3</text>
<text x="472.00" y="257.64" font-size="5.30" font-weight="normal" fill="#585858" font-family="Liberation Mono, monospace">-0.09</text>
<text x="495.70" y="257.94" font-size="5.30" font-weight="normal" fill="#585858" font-family="Liberation Mono, monospace">0.14</text>
<text x="0.40" y="289.70" font-size="11.00" font-weight="bold" fill="#111" stroke="#111" stroke-width="0.25">D</text>
<text x="65.70" y="281.50" font-size="7.26" font-weight="bold" fill="#111">Mouse BMT Set (leukemia: n=9; normal control: n=6)</text>
<text transform="translate(17.47 304.60) rotate(-90)" font-size="4.30" font-weight="normal" fill="#333">MA9 _ I _ 1</text>
<text transform="translate(23.21 304.60) rotate(-90)" font-size="4.30" font-weight="normal" fill="#333">MA9 _ I _ 2</text>
<text transform="translate(28.95 304.60) rotate(-90)" font-size="4.30" font-weight="normal" fill="#333">MA9 _ I _ 3</text>
<text transform="translate(34.69 304.60) rotate(-90)" font-size="4.30" font-weight="normal" fill="#333">MA9 _ I _ 4</text>
<text transform="translate(40.43 304.60) rotate(-90)" font-size="4.30" font-weight="normal" fill="#333">MA9 _ I _ 5</text>
<text transform="translate(46.17 304.60) rotate(-90)" font-size="4.30" font-weight="normal" fill="#333">MA9 _ I _ 6</text>
<text transform="translate(51.91 304.60) rotate(-90)" font-size="4.30" font-weight="normal" fill="#333">MA9 _ I _ 7</text>
<text transform="translate(57.65 304.60) rotate(-90)" font-size="4.30" font-weight="normal" fill="#333">MA9 _ I _ 8</text>
<text transform="translate(63.39 304.60) rotate(-90)" font-size="4.30" font-weight="normal" fill="#333">MA9 _ I _ 9</text>
<text transform="translate(69.13 304.60) rotate(-90)" font-size="4.30" font-weight="normal" fill="#333">NC _ I _ 1</text>
<text transform="translate(74.87 304.60) rotate(-90)" font-size="4.30" font-weight="normal" fill="#333">NC _ I _ 2</text>
<text transform="translate(80.61 304.60) rotate(-90)" font-size="4.30" font-weight="normal" fill="#333">NC _ I _ 3</text>
<text transform="translate(86.35 304.60) rotate(-90)" font-size="4.30" font-weight="normal" fill="#333">NC _ I _ 4</text>
<text transform="translate(92.09 304.60) rotate(-90)" font-size="4.30" font-weight="normal" fill="#333">NC _ I _ 5</text>
<text transform="translate(97.83 304.60) rotate(-90)" font-size="4.30" font-weight="normal" fill="#333">NC _ I _ 6</text>
<g filter="url(#bl)">
<path fill="#f00a0a" d="M12.90 306.40H64.96V311.90H12.90zM12.90 311.50H19.04V317.00H12.90zM24.38 311.50H30.52V317.00H24.38zM41.60 311.50H64.96V317.00H41.60zM64.56 321.70H99.40V327.20H64.56zM12.90 331.90H24.78V337.40H12.90zM30.12 331.90H64.96V337.40H30.12zM12.90 337.00H36.26V342.50H12.90zM47.34 337.00H64.96V342.50H47.34z"/>
<path fill="#80ff32" d="M64.56 306.40H99.40V311.90H64.56zM64.56 311.50H82.18V317.00H64.56zM87.52 311.50H99.40V317.00H87.52zM12.90 321.70H24.78V327.20H12.90zM30.12 321.70H47.74V327.20H30.12zM53.08 321.70H59.22V327.20H53.08zM64.56 331.90H99.40V337.40H64.56zM64.56 337.00H99.40V342.50H64.56z"/>
<path fill="#6f0707" d="M18.64 311.50H24.78V317.00H18.64zM30.12 311.50H42.00V317.00H30.12zM47.34 321.70H53.48V327.20H47.34zM64.56 326.80H82.18V332.30H64.56zM87.52 326.80H99.40V332.30H87.52zM41.60 337.00H47.74V342.50H41.60zM70.30 342.10H76.44V347.60H70.30zM87.52 342.10H93.66V347.60H87.52z"/>
<path fill="#39a116" d="M81.78 311.50H87.92V317.00H81.78z"/>
<path fill="#120606" d="M12.90 316.60H70.70V322.10H12.90zM76.04 316.60H93.66V322.10H76.04zM24.38 321.70H30.52V327.20H24.38zM12.90 326.80H30.52V332.30H12.90zM41.60 326.80H47.74V332.30H41.60zM53.08 326.80H59.22V332.30H53.08zM24.38 331.90H30.52V337.40H24.38zM35.86 337.00H42.00V342.50H35.86zM12.90 342.10H36.26V347.60H12.90zM41.60 342.10H70.70V347.60H41.60zM76.04 342.10H87.92V347.60H76.04zM93.26 342.10H99.40V347.60H93.26zM12.90 347.20H24.78V352.70H12.90zM30.12 347.20H42.00V352.70H30.12zM47.34 347.20H99.40V352.70H47.34z"/>
<path fill="#19570a" d="M70.30 316.60H76.44V322.10H70.30zM93.26 316.60H99.40V322.10H93.26zM58.82 321.70H64.96V327.20H58.82zM30.12 326.80H42.00V332.30H30.12zM47.34 326.80H53.48V332.30H47.34zM58.82 326.80H64.96V332.30H58.82zM81.78 326.80H87.92V332.30H81.78zM35.86 342.10H42.00V347.60H35.86zM24.38 347.20H30.52V352.70H24.38zM41.60 347.20H47.74V352.70H41.60z"/>
</g>
<rect x="13.10" y="354.00" width="52.50" height="1.80" fill="#c8143c"/>
<rect x="65.60" y="354.00" width="33.60" height="1.80" fill="#6f9a3a"/>
<text x="27.80" y="362.30" font-size="5.40" font-weight="bold" fill="#111" stroke="#111" stroke-width="0.1">MLL</text>
<text x="65.30" y="362.30" font-size="5.37" font-weight="bold" fill="#111" stroke="#111" stroke-width="0.1">Normal Control</text>
<text x="152.30" y="289.30" font-size="5.39" font-weight="bold" fill="#111" text-anchor="middle" stroke="#111" stroke-width="0.1">Expresion correlation</text>
<text x="151.5" y="295.5" font-size="5.4" font-weight="bold" fill="#111" stroke="#111" stroke-width="0.12" text-anchor="middle">with <tspan font-style="italic">Hoxa9</tspan></text>
<rect x="131.40" y="297.90" width="44.00" height="0.70" fill="#222"/>
<text x="108.60" y="306.30" font-size="5.20" font-weight="bold" fill="#111" stroke="#111" stroke-width="0.1">Gene</text>
<text x="134.60" y="306.30" font-size="7.40" font-weight="bold" fill="#111" font-style="italic" stroke="#111" stroke-width="0.3">r</text>
<text x="160.80" y="306.80" font-size="6.20" font-weight="bold" fill="#111" font-style="italic" stroke="#111" stroke-width="0.2">P</text>
<text x="107.70" y="311.80" font-size="5.40" font-weight="normal" fill="#4a5270" font-family="Liberation Mono, monospace">Hoxa9</text>
<text x="132.30" y="311.80" font-size="5.40" font-weight="normal" fill="#585858" font-family="Liberation Mono, monospace">-</text>
<text x="156.00" y="311.80" font-size="5.40" font-weight="normal" fill="#585858" font-family="Liberation Mono, monospace">-</text>
<text x="107.70" y="317.02" font-size="5.40" font-weight="normal" fill="#4a5270" font-family="Liberation Mono, monospace">Hoxa7</text>
<text x="132.30" y="317.02" font-size="5.40" font-weight="normal" fill="#585858" font-family="Liberation Mono, monospace">0.99</text>
<text x="156.00" y="317.02" font-size="5.40" font-weight="normal" fill="#585858" font-family="Liberation Mono, monospace">&lt;0.0001</text>
<text x="107.70" y="322.24" font-size="5.40" font-weight="normal" fill="#4a5270" font-family="Liberation Mono, monospace">Hoxa11</text>
<text x="132.30" y="322.24" font-size="5.40" font-weight="normal" fill="#585858" font-family="Liberation Mono, monospace">0.73</text>
<text x="156.00" y="322.24" font-size="5.40" font-weight="normal" fill="#585858" font-family="Liberation Mono, monospace">0.002</text>
<text x="107.70" y="327.46" font-size="5.40" font-weight="normal" fill="#4a5270" font-family="Liberation Mono, monospace">Pbx1</text>
<text x="132.30" y="327.46" font-size="5.40" font-weight="normal" fill="#585858" font-family="Liberation Mono, monospace">-0.87</text>
<text x="156.00" y="327.46" font-size="5.40" font-weight="normal" fill="#585858" font-family="Liberation Mono, monospace">&lt;0.0001</text>
<text x="107.70" y="332.68" font-size="5.40" font-weight="normal" fill="#4a5270" font-family="Liberation Mono, monospace">Pbx2</text>
<text x="132.30" y="332.68" font-size="5.40" font-weight="normal" fill="#585858" font-family="Liberation Mono, monospace">-0.49</text>
<text x="156.00" y="332.68" font-size="5.40" font-weight="normal" fill="#585858" font-family="Liberation Mono, monospace">0.06</text>
<text x="107.70" y="337.90" font-size="5.40" font-weight="normal" fill="#4a5270" font-family="Liberation Mono, monospace">Pbx3</text>
<text x="132.30" y="337.90" font-size="5.40" font-weight="normal" fill="#585858" font-family="Liberation Mono, monospace">0.96</text>
<text x="156.00" y="337.90" font-size="5.40" font-weight="normal" fill="#585858" font-family="Liberation Mono, monospace">&lt;0.0001</text>
<text x="107.70" y="343.12" font-size="5.40" font-weight="normal" fill="#4a5270" font-family="Liberation Mono, monospace">Meis1</text>
<text x="132.30" y="343.12" font-size="5.40" font-weight="normal" fill="#585858" font-family="Liberation Mono, monospace">0.99</text>
<text x="156.00" y="343.12" font-size="5.40" font-weight="normal" fill="#585858" font-family="Liberation Mono, monospace">&lt;0.0001</text>
<text x="107.70" y="348.34" font-size="5.40" font-weight="normal" fill="#4a5270" font-family="Liberation Mono, monospace">Meis2</text>
<text x="132.30" y="348.34" font-size="5.40" font-weight="normal" fill="#585858" font-family="Liberation Mono, monospace">0.19</text>
<text x="156.00" y="348.34" font-size="5.40" font-weight="normal" fill="#585858" font-family="Liberation Mono, monospace">0.49</text>
<text x="107.70" y="353.56" font-size="5.40" font-weight="normal" fill="#4a5270" font-family="Liberation Mono, monospace">Meis3</text>
<text x="132.30" y="353.56" font-size="5.40" font-weight="normal" fill="#585858" font-family="Liberation Mono, monospace">-0.38</text>
<text x="156.00" y="353.56" font-size="5.40" font-weight="normal" fill="#585858" font-family="Liberation Mono, monospace">0.16</text>
</svg>
</body></html>
